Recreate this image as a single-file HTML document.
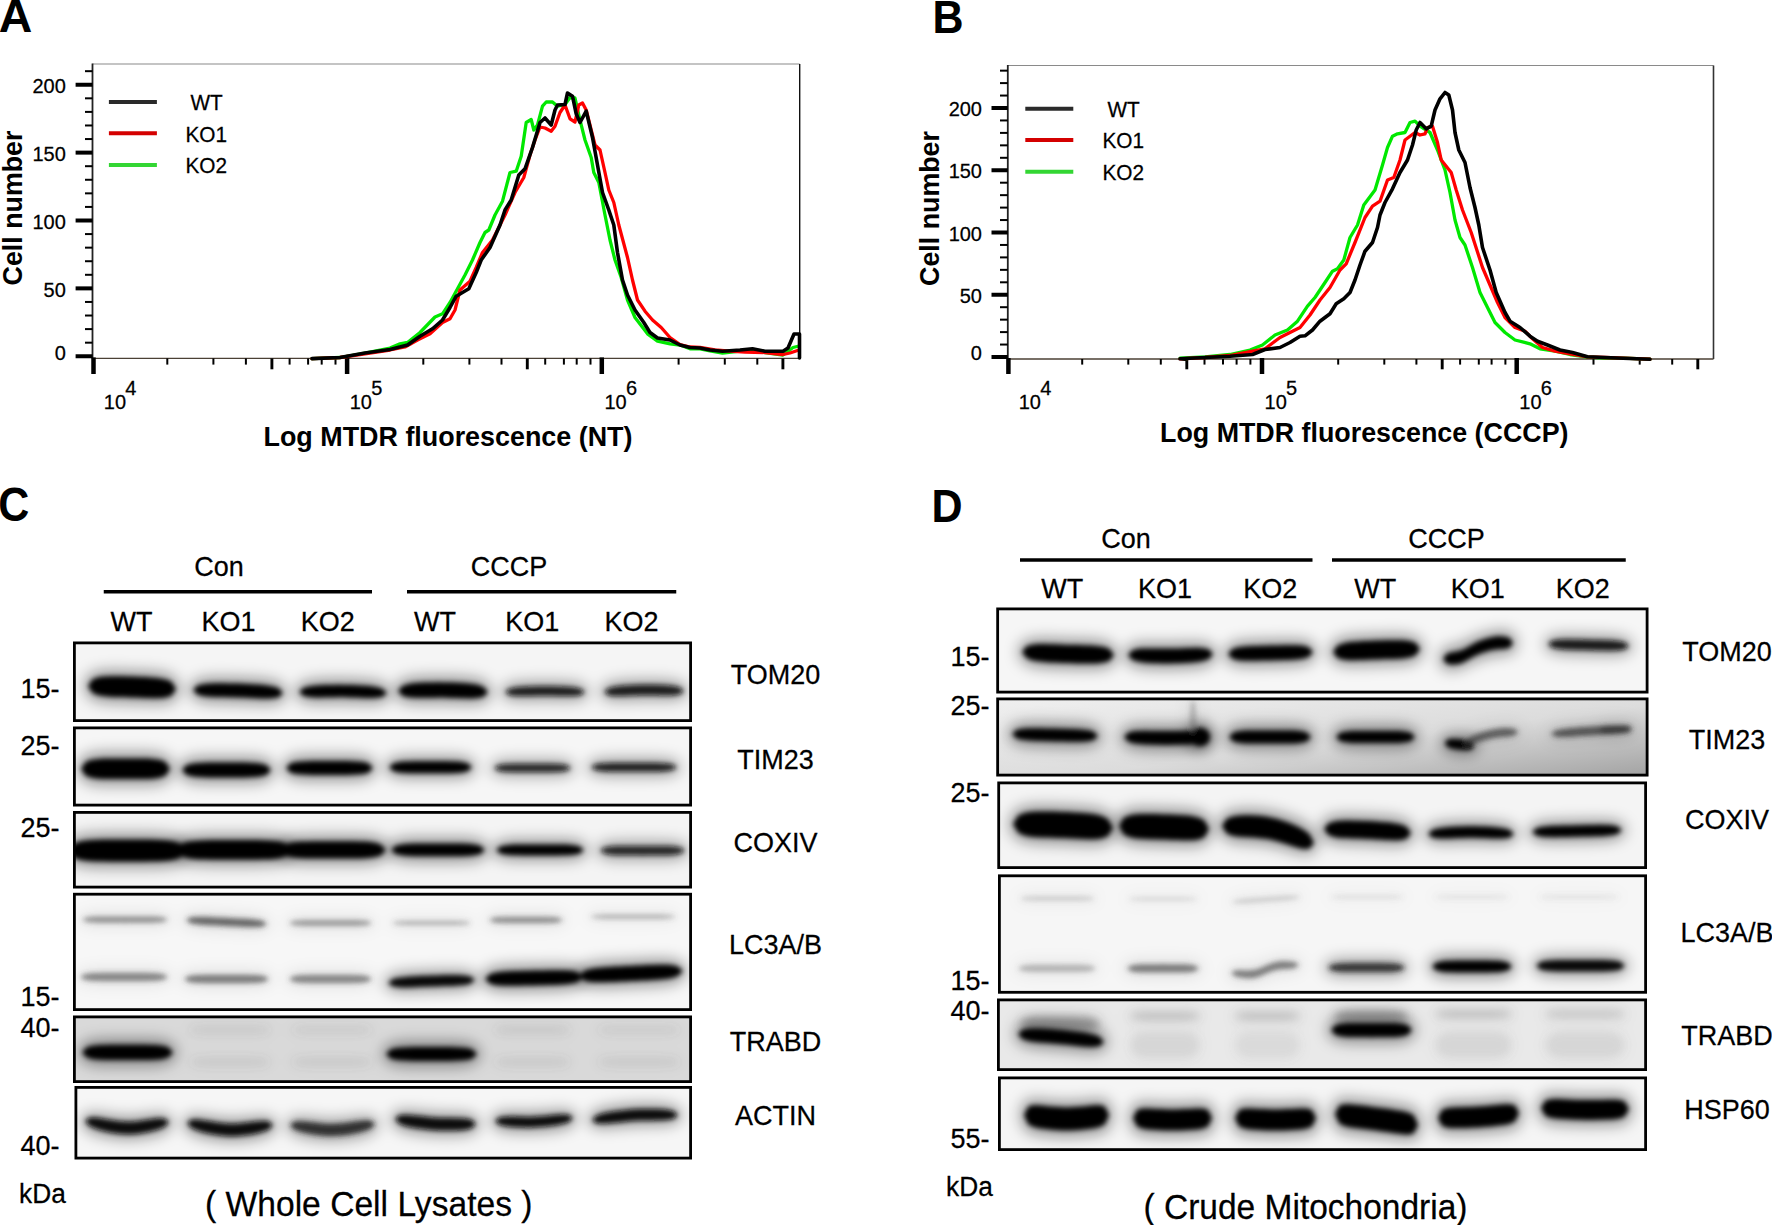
<!DOCTYPE html>
<html><head><meta charset="utf-8"><title>Figure</title>
<style>html,body{margin:0;padding:0;background:#fff}body{width:1772px;height:1225px;overflow:hidden}svg{display:block}</style>
</head><body>
<svg width="1772" height="1225" viewBox="0 0 1772 1225" font-family='"Liberation Sans", Arial, Helvetica, sans-serif' fill="#000">
<defs><filter id="b2" filterUnits="userSpaceOnUse" x="0" y="560" width="1772" height="665"><feGaussianBlur stdDeviation="2.4"/></filter><filter id="b6" filterUnits="userSpaceOnUse" x="0" y="560" width="1772" height="665"><feGaussianBlur stdDeviation="7"/></filter><filter id="b4" filterUnits="userSpaceOnUse" x="0" y="560" width="1772" height="665"><feGaussianBlur stdDeviation="4"/></filter></defs>
<rect width="1772" height="1225" fill="#fff"/>
<text transform="translate(-1.2,32.3) scale(1.08,1.07)" font-size="43" font-weight="bold">A</text>
<line x1="92.5" y1="64" x2="799.7" y2="64" stroke="#8a8a8a" stroke-width="1.2" stroke-linecap="butt"/>
<line x1="92.5" y1="63.5" x2="92.5" y2="358.4" stroke="#222" stroke-width="1.8" stroke-linecap="butt"/>
<line x1="799.7" y1="64" x2="799.7" y2="358.4" stroke="#111" stroke-width="1.4" stroke-linecap="butt"/>
<line x1="92.5" y1="358.4" x2="799.7" y2="358.4" stroke="#4b4035" stroke-width="1.3" stroke-linecap="butt"/>
<line x1="75.6" y1="356.25" x2="92.5" y2="356.25" stroke="#000" stroke-width="4" stroke-linecap="butt"/>
<line x1="85" y1="342.675" x2="92.5" y2="342.675" stroke="#000" stroke-width="2" stroke-linecap="butt"/>
<line x1="85" y1="329.1" x2="92.5" y2="329.1" stroke="#000" stroke-width="2" stroke-linecap="butt"/>
<line x1="85" y1="315.525" x2="92.5" y2="315.525" stroke="#000" stroke-width="2" stroke-linecap="butt"/>
<line x1="85" y1="301.95" x2="92.5" y2="301.95" stroke="#000" stroke-width="2" stroke-linecap="butt"/>
<line x1="75.6" y1="288.375" x2="92.5" y2="288.375" stroke="#000" stroke-width="4" stroke-linecap="butt"/>
<line x1="85" y1="274.8" x2="92.5" y2="274.8" stroke="#000" stroke-width="2" stroke-linecap="butt"/>
<line x1="85" y1="261.225" x2="92.5" y2="261.225" stroke="#000" stroke-width="2" stroke-linecap="butt"/>
<line x1="85" y1="247.65" x2="92.5" y2="247.65" stroke="#000" stroke-width="2" stroke-linecap="butt"/>
<line x1="85" y1="234.075" x2="92.5" y2="234.075" stroke="#000" stroke-width="2" stroke-linecap="butt"/>
<line x1="75.6" y1="220.5" x2="92.5" y2="220.5" stroke="#000" stroke-width="4" stroke-linecap="butt"/>
<line x1="85" y1="206.925" x2="92.5" y2="206.925" stroke="#000" stroke-width="2" stroke-linecap="butt"/>
<line x1="85" y1="193.35000000000002" x2="92.5" y2="193.35000000000002" stroke="#000" stroke-width="2" stroke-linecap="butt"/>
<line x1="85" y1="179.775" x2="92.5" y2="179.775" stroke="#000" stroke-width="2" stroke-linecap="butt"/>
<line x1="85" y1="166.20000000000002" x2="92.5" y2="166.20000000000002" stroke="#000" stroke-width="2" stroke-linecap="butt"/>
<line x1="75.6" y1="152.625" x2="92.5" y2="152.625" stroke="#000" stroke-width="4" stroke-linecap="butt"/>
<line x1="85" y1="139.05" x2="92.5" y2="139.05" stroke="#000" stroke-width="2" stroke-linecap="butt"/>
<line x1="85" y1="125.47500000000002" x2="92.5" y2="125.47500000000002" stroke="#000" stroke-width="2" stroke-linecap="butt"/>
<line x1="85" y1="111.9" x2="92.5" y2="111.9" stroke="#000" stroke-width="2" stroke-linecap="butt"/>
<line x1="85" y1="98.32499999999999" x2="92.5" y2="98.32499999999999" stroke="#000" stroke-width="2" stroke-linecap="butt"/>
<line x1="75.6" y1="84.75" x2="92.5" y2="84.75" stroke="#000" stroke-width="4" stroke-linecap="butt"/>
<line x1="85" y1="71.17500000000001" x2="92.5" y2="71.17500000000001" stroke="#000" stroke-width="2" stroke-linecap="butt"/>
<text transform="translate(65.8,359.95) scale(1,1.035)" font-size="20" text-anchor="end" stroke="#000" stroke-width="0.25" >0</text>
<text transform="translate(65.8,297.075) scale(1,1.035)" font-size="20" text-anchor="end" stroke="#000" stroke-width="0.25" >50</text>
<text transform="translate(65.8,229.2) scale(1,1.035)" font-size="20" text-anchor="end" stroke="#000" stroke-width="0.25" >100</text>
<text transform="translate(65.8,161.325) scale(1,1.035)" font-size="20" text-anchor="end" stroke="#000" stroke-width="0.25" >150</text>
<text transform="translate(65.8,93.45) scale(1,1.035)" font-size="20" text-anchor="end" stroke="#000" stroke-width="0.25" >200</text>
<text transform="translate(22,208) rotate(-90)" font-size="26.8" font-weight="bold" text-anchor="middle">Cell number</text>
<line x1="93.5" y1="357.4" x2="93.5" y2="374" stroke="#000" stroke-width="4.5" stroke-linecap="butt"/>
<line x1="347.1" y1="357.4" x2="347.1" y2="374" stroke="#000" stroke-width="4.5" stroke-linecap="butt"/>
<line x1="601.8" y1="357.4" x2="601.8" y2="374" stroke="#000" stroke-width="4.5" stroke-linecap="butt"/>
<line x1="271.9" y1="358.4" x2="271.9" y2="369.3" stroke="#000" stroke-width="2.9" stroke-linecap="butt"/>
<line x1="527.3" y1="358.4" x2="527.3" y2="369.3" stroke="#000" stroke-width="2.9" stroke-linecap="butt"/>
<line x1="782.9" y1="358.4" x2="782.9" y2="369.3" stroke="#000" stroke-width="2.9" stroke-linecap="butt"/>
<line x1="167.3" y1="358.4" x2="167.3" y2="364.6" stroke="#000" stroke-width="2" stroke-linecap="butt"/>
<line x1="213.4" y1="358.4" x2="213.4" y2="364.6" stroke="#000" stroke-width="2" stroke-linecap="butt"/>
<line x1="245.9" y1="358.4" x2="245.9" y2="364.6" stroke="#000" stroke-width="2" stroke-linecap="butt"/>
<line x1="289.6" y1="358.4" x2="289.6" y2="364.6" stroke="#000" stroke-width="2" stroke-linecap="butt"/>
<line x1="308.1" y1="358.4" x2="308.1" y2="364.6" stroke="#000" stroke-width="2" stroke-linecap="butt"/>
<line x1="321.7" y1="358.4" x2="321.7" y2="364.6" stroke="#000" stroke-width="2" stroke-linecap="butt"/>
<line x1="335.5" y1="358.4" x2="335.5" y2="364.6" stroke="#000" stroke-width="2" stroke-linecap="butt"/>
<line x1="423.3" y1="358.4" x2="423.3" y2="364.6" stroke="#000" stroke-width="2" stroke-linecap="butt"/>
<line x1="469.4" y1="358.4" x2="469.4" y2="364.6" stroke="#000" stroke-width="2" stroke-linecap="butt"/>
<line x1="501.5" y1="358.4" x2="501.5" y2="364.6" stroke="#000" stroke-width="2" stroke-linecap="butt"/>
<line x1="545.2" y1="358.4" x2="545.2" y2="364.6" stroke="#000" stroke-width="2" stroke-linecap="butt"/>
<line x1="563.9" y1="358.4" x2="563.9" y2="364.6" stroke="#000" stroke-width="2" stroke-linecap="butt"/>
<line x1="576.7" y1="358.4" x2="576.7" y2="364.6" stroke="#000" stroke-width="2" stroke-linecap="butt"/>
<line x1="590.5" y1="358.4" x2="590.5" y2="364.6" stroke="#000" stroke-width="2" stroke-linecap="butt"/>
<line x1="678.6" y1="358.4" x2="678.6" y2="364.6" stroke="#000" stroke-width="2" stroke-linecap="butt"/>
<line x1="724.8" y1="358.4" x2="724.8" y2="364.6" stroke="#000" stroke-width="2" stroke-linecap="butt"/>
<line x1="757.3" y1="358.4" x2="757.3" y2="364.6" stroke="#000" stroke-width="2" stroke-linecap="butt"/>
<text transform="translate(103.8,408.9) scale(1,1.035)" font-size="20" text-anchor="start" stroke="#000" stroke-width="0.25" >10</text>
<text transform="translate(125.3,394.8) scale(1,1.035)" font-size="20" text-anchor="start" stroke="#000" stroke-width="0.25" >4</text>
<text transform="translate(349.70000000000005,408.9) scale(1,1.035)" font-size="20" text-anchor="start" stroke="#000" stroke-width="0.25" >10</text>
<text transform="translate(371.20000000000005,394.8) scale(1,1.035)" font-size="20" text-anchor="start" stroke="#000" stroke-width="0.25" >5</text>
<text transform="translate(604.4,408.9) scale(1,1.035)" font-size="20" text-anchor="start" stroke="#000" stroke-width="0.25" >10</text>
<text transform="translate(625.9,394.8) scale(1,1.035)" font-size="20" text-anchor="start" stroke="#000" stroke-width="0.25" >6</text>
<text transform="translate(263.5,445.7) scale(1,1.04)" font-size="26.8" font-weight="bold" textLength="369" lengthAdjust="spacingAndGlyphs">Log MTDR fluorescence (NT)</text>
<line x1="108.9" y1="102" x2="156.9" y2="102" stroke="#2a2a2a" stroke-width="4" stroke-linecap="butt"/>
<text transform="translate(190.5,110.2) scale(1,1.035)" font-size="20.8" text-anchor="start" stroke="#000" stroke-width="0.25" >WT</text>
<line x1="108.9" y1="133.3" x2="156.9" y2="133.3" stroke="#d40000" stroke-width="4" stroke-linecap="butt"/>
<text transform="translate(185.5,141.5) scale(1,1.035)" font-size="20.8" text-anchor="start" stroke="#000" stroke-width="0.25" >KO1</text>
<line x1="108.9" y1="165" x2="156.9" y2="165" stroke="#33d633" stroke-width="4" stroke-linecap="butt"/>
<text transform="translate(185.5,173.2) scale(1,1.035)" font-size="20.8" text-anchor="start" stroke="#000" stroke-width="0.25" >KO2</text>
<polyline points="312.0,358.6 340.0,357.5 365.0,353.0 390.0,348.0 400.0,343.8 407.5,342.5 420.0,332.5 435.0,317.0 442.5,313.8 450.0,302.5 457.5,288.8 465.0,275.0 472.5,260.0 480.0,242.5 485.0,232.5 488.8,230.0 495.0,215.0 502.5,201.2 510.0,172.5 516.2,171.2 521.2,156.2 526.2,122.5 531.2,119.5 533.8,130.0 537.5,125.0 542.5,106.2 546.2,102.0 552.5,102.0 557.5,106.2 565.0,104.5 570.0,97.5 575.0,98.0 580.0,120.0 585.0,140.0 591.2,157.5 593.8,172.5 598.8,182.5 605.0,215.0 610.0,240.0 615.0,260.0 621.2,277.5 627.5,300.0 635.0,317.5 647.5,333.8 657.5,341.2 670.0,343.8 680.0,345.0 690.0,348.8 700.0,348.8 710.0,350.8 722.5,353.0 740.0,351.2 752.5,351.2 765.0,352.5 783.0,355.0 793.0,347.5 799.0,346.0" fill="none" stroke="#00e800" stroke-width="3.3" stroke-linejoin="round" stroke-linecap="round"/>
<polyline points="312.0,358.6 340.0,357.5 365.0,353.8 390.0,350.0 405.0,347.0 417.5,340.0 430.0,333.8 442.5,322.5 450.0,318.8 455.0,310.0 460.0,290.0 470.0,281.2 476.2,267.5 482.5,252.5 492.5,240.0 505.0,215.0 515.0,192.5 523.8,177.5 530.0,155.0 535.0,140.0 540.0,127.0 545.0,128.0 551.2,131.2 555.0,126.2 560.0,112.5 565.0,105.0 570.0,118.8 575.0,122.0 578.8,105.0 582.5,103.0 586.2,110.0 591.2,130.0 595.0,145.0 600.0,150.0 605.0,172.5 608.8,190.0 613.8,202.5 618.8,225.0 627.5,257.5 632.5,280.0 637.5,300.0 645.0,311.2 652.5,320.0 661.2,327.5 670.0,337.5 680.0,344.5 690.0,347.0 700.0,347.5 715.0,350.0 730.0,351.2 745.0,352.0 765.0,352.5 783.0,354.5 790.0,353.0 799.0,350.0" fill="none" stroke="#ff0000" stroke-width="3.3" stroke-linejoin="round" stroke-linecap="round"/>
<polyline points="312.0,358.6 340.0,357.5 365.0,353.0 390.0,349.5 407.5,345.0 420.0,336.2 432.5,328.8 442.5,320.0 450.0,307.5 456.2,296.2 468.8,288.8 476.2,272.5 481.2,260.0 490.0,247.5 500.0,225.0 505.0,210.0 511.2,200.0 518.8,175.0 525.0,168.8 532.5,147.5 540.0,122.5 545.0,118.0 551.2,125.0 555.0,110.0 557.5,105.0 565.0,104.5 567.5,93.0 572.5,96.2 576.2,113.8 580.0,122.5 586.2,111.2 592.5,137.5 597.5,165.0 602.5,192.5 608.8,210.0 613.8,225.0 617.5,252.5 622.5,280.0 627.5,295.0 635.0,310.0 643.8,322.5 650.0,332.5 657.5,338.0 670.0,340.0 680.0,345.0 690.0,347.5 700.0,348.0 710.0,350.0 722.5,351.2 740.0,350.0 752.5,348.8 765.0,351.2 783.0,351.2 788.0,348.0 794.0,334.0 799.5,334.0 799.5,358.0" fill="none" stroke="#000" stroke-width="3.6" stroke-linejoin="round" stroke-linecap="round"/>
<text transform="translate(932.6,33) scale(1,1.07)" font-size="43" text-anchor="start" font-weight="bold" >B</text>
<line x1="1007.8" y1="65.5" x2="1713.5" y2="65.5" stroke="#8a8a8a" stroke-width="1.2" stroke-linecap="butt"/>
<line x1="1007.8" y1="65.0" x2="1007.8" y2="359.0" stroke="#222" stroke-width="1.8" stroke-linecap="butt"/>
<line x1="1713.5" y1="65.5" x2="1713.5" y2="359.0" stroke="#333" stroke-width="1.6" stroke-linecap="butt"/>
<line x1="1007.8" y1="359.0" x2="1713.5" y2="359.0" stroke="#4b4035" stroke-width="1.3" stroke-linecap="butt"/>
<line x1="991.5" y1="357.0" x2="1007.8" y2="357.0" stroke="#000" stroke-width="4" stroke-linecap="butt"/>
<line x1="1000" y1="344.55" x2="1007.8" y2="344.55" stroke="#000" stroke-width="2" stroke-linecap="butt"/>
<line x1="1000" y1="332.1" x2="1007.8" y2="332.1" stroke="#000" stroke-width="2" stroke-linecap="butt"/>
<line x1="1000" y1="319.65" x2="1007.8" y2="319.65" stroke="#000" stroke-width="2" stroke-linecap="butt"/>
<line x1="1000" y1="307.2" x2="1007.8" y2="307.2" stroke="#000" stroke-width="2" stroke-linecap="butt"/>
<line x1="991.5" y1="294.75" x2="1007.8" y2="294.75" stroke="#000" stroke-width="4" stroke-linecap="butt"/>
<line x1="1000" y1="282.3" x2="1007.8" y2="282.3" stroke="#000" stroke-width="2" stroke-linecap="butt"/>
<line x1="1000" y1="269.85" x2="1007.8" y2="269.85" stroke="#000" stroke-width="2" stroke-linecap="butt"/>
<line x1="1000" y1="257.4" x2="1007.8" y2="257.4" stroke="#000" stroke-width="2" stroke-linecap="butt"/>
<line x1="1000" y1="244.95" x2="1007.8" y2="244.95" stroke="#000" stroke-width="2" stroke-linecap="butt"/>
<line x1="991.5" y1="232.5" x2="1007.8" y2="232.5" stroke="#000" stroke-width="4" stroke-linecap="butt"/>
<line x1="1000" y1="220.04999999999998" x2="1007.8" y2="220.04999999999998" stroke="#000" stroke-width="2" stroke-linecap="butt"/>
<line x1="1000" y1="207.6" x2="1007.8" y2="207.6" stroke="#000" stroke-width="2" stroke-linecap="butt"/>
<line x1="1000" y1="195.14999999999998" x2="1007.8" y2="195.14999999999998" stroke="#000" stroke-width="2" stroke-linecap="butt"/>
<line x1="1000" y1="182.7" x2="1007.8" y2="182.7" stroke="#000" stroke-width="2" stroke-linecap="butt"/>
<line x1="991.5" y1="170.24999999999997" x2="1007.8" y2="170.24999999999997" stroke="#000" stroke-width="4" stroke-linecap="butt"/>
<line x1="1000" y1="157.79999999999998" x2="1007.8" y2="157.79999999999998" stroke="#000" stroke-width="2" stroke-linecap="butt"/>
<line x1="1000" y1="145.35" x2="1007.8" y2="145.35" stroke="#000" stroke-width="2" stroke-linecap="butt"/>
<line x1="1000" y1="132.89999999999998" x2="1007.8" y2="132.89999999999998" stroke="#000" stroke-width="2" stroke-linecap="butt"/>
<line x1="1000" y1="120.44999999999999" x2="1007.8" y2="120.44999999999999" stroke="#000" stroke-width="2" stroke-linecap="butt"/>
<line x1="991.5" y1="107.99999999999997" x2="1007.8" y2="107.99999999999997" stroke="#000" stroke-width="4" stroke-linecap="butt"/>
<line x1="1000" y1="95.54999999999995" x2="1007.8" y2="95.54999999999995" stroke="#000" stroke-width="2" stroke-linecap="butt"/>
<line x1="1000" y1="83.09999999999997" x2="1007.8" y2="83.09999999999997" stroke="#000" stroke-width="2" stroke-linecap="butt"/>
<line x1="1000" y1="70.64999999999998" x2="1007.8" y2="70.64999999999998" stroke="#000" stroke-width="2" stroke-linecap="butt"/>
<text transform="translate(982,360.2) scale(1,1.035)" font-size="20" text-anchor="end" stroke="#000" stroke-width="0.25" >0</text>
<text transform="translate(982,302.95) scale(1,1.035)" font-size="20" text-anchor="end" stroke="#000" stroke-width="0.25" >50</text>
<text transform="translate(982,240.7) scale(1,1.035)" font-size="20" text-anchor="end" stroke="#000" stroke-width="0.25" >100</text>
<text transform="translate(982,178.44999999999996) scale(1,1.035)" font-size="20" text-anchor="end" stroke="#000" stroke-width="0.25" >150</text>
<text transform="translate(982,116.19999999999997) scale(1,1.035)" font-size="20" text-anchor="end" stroke="#000" stroke-width="0.25" >200</text>
<text transform="translate(939.3,208.5) rotate(-90)" font-size="26.8" font-weight="bold" text-anchor="middle">Cell number</text>
<line x1="1008.4" y1="358.0" x2="1008.4" y2="374" stroke="#000" stroke-width="4.5" stroke-linecap="butt"/>
<line x1="1262.0" y1="358.0" x2="1262.0" y2="374" stroke="#000" stroke-width="4.5" stroke-linecap="butt"/>
<line x1="1516.6999999999998" y1="358.0" x2="1516.6999999999998" y2="374" stroke="#000" stroke-width="4.5" stroke-linecap="butt"/>
<line x1="1186.8" y1="359.0" x2="1186.8" y2="369.3" stroke="#000" stroke-width="2.9" stroke-linecap="butt"/>
<line x1="1442.1999999999998" y1="359.0" x2="1442.1999999999998" y2="369.3" stroke="#000" stroke-width="2.9" stroke-linecap="butt"/>
<line x1="1697.8" y1="359.0" x2="1697.8" y2="369.3" stroke="#000" stroke-width="2.9" stroke-linecap="butt"/>
<line x1="1082.2" y1="359.0" x2="1082.2" y2="364.6" stroke="#000" stroke-width="2" stroke-linecap="butt"/>
<line x1="1128.3" y1="359.0" x2="1128.3" y2="364.6" stroke="#000" stroke-width="2" stroke-linecap="butt"/>
<line x1="1160.8" y1="359.0" x2="1160.8" y2="364.6" stroke="#000" stroke-width="2" stroke-linecap="butt"/>
<line x1="1204.5" y1="359.0" x2="1204.5" y2="364.6" stroke="#000" stroke-width="2" stroke-linecap="butt"/>
<line x1="1223.0" y1="359.0" x2="1223.0" y2="364.6" stroke="#000" stroke-width="2" stroke-linecap="butt"/>
<line x1="1236.6" y1="359.0" x2="1236.6" y2="364.6" stroke="#000" stroke-width="2" stroke-linecap="butt"/>
<line x1="1250.4" y1="359.0" x2="1250.4" y2="364.6" stroke="#000" stroke-width="2" stroke-linecap="butt"/>
<line x1="1338.2" y1="359.0" x2="1338.2" y2="364.6" stroke="#000" stroke-width="2" stroke-linecap="butt"/>
<line x1="1384.3" y1="359.0" x2="1384.3" y2="364.6" stroke="#000" stroke-width="2" stroke-linecap="butt"/>
<line x1="1416.4" y1="359.0" x2="1416.4" y2="364.6" stroke="#000" stroke-width="2" stroke-linecap="butt"/>
<line x1="1460.1" y1="359.0" x2="1460.1" y2="364.6" stroke="#000" stroke-width="2" stroke-linecap="butt"/>
<line x1="1478.8" y1="359.0" x2="1478.8" y2="364.6" stroke="#000" stroke-width="2" stroke-linecap="butt"/>
<line x1="1491.6" y1="359.0" x2="1491.6" y2="364.6" stroke="#000" stroke-width="2" stroke-linecap="butt"/>
<line x1="1505.4" y1="359.0" x2="1505.4" y2="364.6" stroke="#000" stroke-width="2" stroke-linecap="butt"/>
<line x1="1593.5" y1="359.0" x2="1593.5" y2="364.6" stroke="#000" stroke-width="2" stroke-linecap="butt"/>
<line x1="1639.6999999999998" y1="359.0" x2="1639.6999999999998" y2="364.6" stroke="#000" stroke-width="2" stroke-linecap="butt"/>
<line x1="1672.1999999999998" y1="359.0" x2="1672.1999999999998" y2="364.6" stroke="#000" stroke-width="2" stroke-linecap="butt"/>
<text transform="translate(1018.6999999999999,408.9) scale(1,1.035)" font-size="20" text-anchor="start" stroke="#000" stroke-width="0.25" >10</text>
<text transform="translate(1040.1999999999998,394.8) scale(1,1.035)" font-size="20" text-anchor="start" stroke="#000" stroke-width="0.25" >4</text>
<text transform="translate(1264.6,408.9) scale(1,1.035)" font-size="20" text-anchor="start" stroke="#000" stroke-width="0.25" >10</text>
<text transform="translate(1286.1,394.8) scale(1,1.035)" font-size="20" text-anchor="start" stroke="#000" stroke-width="0.25" >5</text>
<text transform="translate(1519.2999999999997,408.9) scale(1,1.035)" font-size="20" text-anchor="start" stroke="#000" stroke-width="0.25" >10</text>
<text transform="translate(1540.7999999999997,394.8) scale(1,1.035)" font-size="20" text-anchor="start" stroke="#000" stroke-width="0.25" >6</text>
<text transform="translate(1160,442.2) scale(1,1.04)" font-size="26.8" font-weight="bold" textLength="408.5" lengthAdjust="spacingAndGlyphs">Log MTDR fluorescence (CCCP)</text>
<line x1="1025.3" y1="108.75" x2="1073.3" y2="108.75" stroke="#2a2a2a" stroke-width="4" stroke-linecap="butt"/>
<text transform="translate(1107.5,116.95) scale(1,1.035)" font-size="20.8" text-anchor="start" stroke="#000" stroke-width="0.25" >WT</text>
<line x1="1025.3" y1="140" x2="1073.3" y2="140" stroke="#d40000" stroke-width="4" stroke-linecap="butt"/>
<text transform="translate(1102.5,148.2) scale(1,1.035)" font-size="20.8" text-anchor="start" stroke="#000" stroke-width="0.25" >KO1</text>
<line x1="1025.3" y1="171.75" x2="1073.3" y2="171.75" stroke="#33d633" stroke-width="4" stroke-linecap="butt"/>
<text transform="translate(1102.5,179.95) scale(1,1.035)" font-size="20.8" text-anchor="start" stroke="#000" stroke-width="0.25" >KO2</text>
<polyline points="1186.0,359.2 1180.0,358.2 1205.0,357.0 1230.0,354.5 1250.0,350.0 1262.5,345.0 1275.0,335.0 1287.5,330.0 1297.5,321.2 1307.5,306.2 1315.0,297.5 1325.0,282.5 1332.5,271.2 1337.5,268.8 1343.8,260.0 1350.0,237.5 1357.5,225.0 1363.8,205.0 1375.0,190.0 1382.5,165.0 1387.5,147.5 1392.5,136.2 1397.5,133.8 1405.0,132.5 1410.0,122.5 1415.0,121.2 1420.0,126.2 1430.0,132.5 1437.5,150.0 1445.0,170.0 1450.0,192.5 1455.0,220.0 1460.0,237.5 1465.0,245.0 1472.5,267.5 1480.0,292.5 1487.5,307.5 1495.0,322.5 1505.0,332.5 1515.0,340.0 1530.0,343.8 1540.0,348.8 1555.0,351.2 1570.0,354.5 1587.5,357.0 1605.0,358.0 1623.0,358.2 1650.0,359.2" fill="none" stroke="#00e800" stroke-width="3.3" stroke-linejoin="round" stroke-linecap="round"/>
<polyline points="1186.0,359.2 1180.0,358.8 1205.0,357.5 1230.0,355.5 1252.5,351.2 1265.0,348.8 1280.0,337.5 1290.0,332.5 1300.0,327.5 1310.0,315.0 1320.0,300.0 1330.0,287.5 1340.0,270.0 1346.2,263.8 1355.0,242.5 1365.0,217.5 1372.5,206.2 1380.0,201.2 1387.5,180.0 1393.8,177.5 1400.0,160.0 1405.0,140.0 1415.0,132.5 1420.0,135.0 1425.0,133.8 1427.5,127.5 1432.5,126.2 1437.5,142.5 1441.2,160.0 1451.2,172.5 1456.2,190.0 1462.5,210.0 1471.2,232.5 1482.5,267.5 1490.0,285.0 1497.5,302.5 1505.0,317.5 1515.0,327.5 1525.0,331.2 1532.5,338.8 1542.5,347.5 1555.0,351.2 1570.0,353.8 1587.5,356.8 1605.0,357.5 1623.0,358.2 1650.0,359.2" fill="none" stroke="#ff0000" stroke-width="3.3" stroke-linejoin="round" stroke-linecap="round"/>
<polyline points="1186.0,359.2 1180.0,358.8 1205.0,357.5 1230.0,356.2 1252.5,354.5 1265.0,349.5 1280.0,347.5 1290.0,342.5 1300.0,336.2 1305.0,335.8 1312.5,330.0 1320.0,321.2 1330.0,313.8 1336.2,303.8 1343.8,298.8 1350.0,292.5 1355.0,280.0 1360.0,265.0 1365.0,251.2 1372.5,242.5 1377.5,227.5 1380.0,215.0 1385.0,202.5 1392.5,188.8 1400.0,172.5 1407.5,160.0 1412.5,145.0 1416.2,130.0 1420.0,122.5 1426.2,128.8 1431.2,126.2 1435.0,110.0 1440.0,98.8 1445.0,92.5 1448.8,95.0 1452.5,110.0 1455.0,132.5 1458.8,150.0 1465.0,162.5 1470.0,187.5 1475.0,207.5 1478.8,225.0 1482.5,247.5 1490.0,270.0 1496.2,292.5 1505.0,312.5 1510.0,321.2 1520.0,327.5 1530.0,336.2 1537.5,341.2 1547.5,345.0 1560.0,350.0 1572.5,352.5 1587.5,356.8 1605.0,357.5 1623.0,358.2 1650.0,359.2" fill="none" stroke="#000" stroke-width="3.6" stroke-linejoin="round" stroke-linecap="round"/>
<text transform="translate(-1.8,521.1) scale(1,1.125)" font-size="43" text-anchor="start" font-weight="bold" >C</text>
<text transform="translate(219,575.75) scale(1,1.035)" font-size="27" text-anchor="middle" stroke="#000" stroke-width="0.25" >Con</text>
<text transform="translate(509,575.75) scale(1,1.035)" font-size="27" text-anchor="middle" stroke="#000" stroke-width="0.25" >CCCP</text>
<line x1="103.75" y1="591.75" x2="372" y2="591.75" stroke="#000" stroke-width="3.5" stroke-linecap="butt"/>
<line x1="407" y1="591.75" x2="676.25" y2="591.75" stroke="#000" stroke-width="3.5" stroke-linecap="butt"/>
<text transform="translate(131.5,630.75) scale(1,1.035)" font-size="27" text-anchor="middle" stroke="#000" stroke-width="0.25" >WT</text>
<text transform="translate(228.4,630.75) scale(1,1.035)" font-size="27" text-anchor="middle" stroke="#000" stroke-width="0.25" >KO1</text>
<text transform="translate(327.75,630.75) scale(1,1.035)" font-size="27" text-anchor="middle" stroke="#000" stroke-width="0.25" >KO2</text>
<text transform="translate(435,630.75) scale(1,1.035)" font-size="27" text-anchor="middle" stroke="#000" stroke-width="0.25" >WT</text>
<text transform="translate(532.25,630.75) scale(1,1.035)" font-size="27" text-anchor="middle" stroke="#000" stroke-width="0.25" >KO1</text>
<text transform="translate(631.6,630.75) scale(1,1.035)" font-size="27" text-anchor="middle" stroke="#000" stroke-width="0.25" >KO2</text>
<text transform="translate(59.5,697.5) scale(1,1.035)" font-size="27" text-anchor="end" stroke="#000" stroke-width="0.25" >15-</text>
<text transform="translate(59.5,755) scale(1,1.035)" font-size="27" text-anchor="end" stroke="#000" stroke-width="0.25" >25-</text>
<text transform="translate(59.5,837) scale(1,1.035)" font-size="27" text-anchor="end" stroke="#000" stroke-width="0.25" >25-</text>
<text transform="translate(59.5,1006) scale(1,1.035)" font-size="27" text-anchor="end" stroke="#000" stroke-width="0.25" >15-</text>
<text transform="translate(59.5,1036.5) scale(1,1.035)" font-size="27" text-anchor="end" stroke="#000" stroke-width="0.25" >40-</text>
<text transform="translate(59.5,1155) scale(1,1.035)" font-size="27" text-anchor="end" stroke="#000" stroke-width="0.25" >40-</text>
<text transform="translate(19,1202.5) scale(1,1.035)" font-size="26.3" text-anchor="start" stroke="#000" stroke-width="0.25" >kDa</text>
<text transform="translate(775.5,684) scale(1,1.035)" font-size="27" text-anchor="middle" stroke="#000" stroke-width="0.25" >TOM20</text>
<text transform="translate(775.5,769) scale(1,1.035)" font-size="27" text-anchor="middle" stroke="#000" stroke-width="0.25" >TIM23</text>
<text transform="translate(775.5,851.5) scale(1,1.035)" font-size="27" text-anchor="middle" stroke="#000" stroke-width="0.25" >COXIV</text>
<text transform="translate(775.5,954) scale(1,1.035)" font-size="27" text-anchor="middle" stroke="#000" stroke-width="0.25" >LC3A/B</text>
<text transform="translate(775.5,1051) scale(1,1.035)" font-size="27" text-anchor="middle" stroke="#000" stroke-width="0.25" >TRABD</text>
<text transform="translate(775.5,1124.5) scale(1,1.035)" font-size="27" text-anchor="middle" stroke="#000" stroke-width="0.25" >ACTIN</text>
<text transform="translate(205,1216) scale(1,1.07)" font-size="33.5" stroke="#000" stroke-width="0.25" textLength="327.5" lengthAdjust="spacingAndGlyphs">( Whole Cell Lysates )</text>
<clipPath id="c1"><rect x="73" y="641.5" width="619" height="80.5"/></clipPath>
<g clip-path="url(#c1)">
<rect x="73" y="641.5" width="619" height="80.5" fill="#f5f5f5"/>

<g filter="url(#b6)">
<path d="M83.0,686.0 L87.9,675.2 L92.8,672.2 L97.7,670.8 L102.6,670.0 L107.5,669.7 L112.4,669.6 L117.3,669.6 L122.2,669.7 L127.1,669.9 L132.0,670.0 L136.9,670.2 L141.8,670.3 L146.7,670.5 L151.6,670.8 L156.5,671.2 L161.4,671.8 L166.3,672.9 L171.2,674.6 L176.1,677.9 L181.0,689.0 L181.0,689.0 L176.1,699.7 L171.2,702.5 L166.3,703.9 L161.4,704.5 L156.5,704.7 L151.6,704.6 L146.7,704.5 L141.8,704.3 L136.9,704.2 L132.0,704.0 L127.1,703.9 L122.2,703.7 L117.3,703.6 L112.4,703.4 L107.5,703.2 L102.6,702.7 L97.7,701.8 L92.8,700.1 L87.9,697.0 L83.0,686.0Z" fill="#000" fill-opacity="0.360"/>
<path d="M188.0,690.0 L193.0,681.4 L198.0,679.0 L203.0,677.8 L208.0,677.1 L213.0,676.8 L218.0,676.7 L223.0,676.7 L228.0,676.8 L233.0,676.9 L238.0,677.0 L243.0,677.2 L248.0,677.4 L253.0,677.6 L258.0,677.9 L263.0,678.3 L268.0,678.9 L273.0,679.9 L278.0,681.4 L283.0,684.1 L288.0,693.0 L288.0,693.0 L283.0,701.4 L278.0,703.5 L273.0,704.5 L268.0,704.9 L263.0,704.9 L258.0,704.8 L253.0,704.6 L248.0,704.4 L243.0,704.2 L238.0,704.0 L233.0,703.9 L228.0,703.8 L223.0,703.7 L218.0,703.6 L213.0,703.4 L208.0,703.1 L203.0,702.4 L198.0,701.1 L193.0,698.7 L188.0,690.0Z" fill="#000" fill-opacity="0.360"/>
<path d="M294.0,692.0 L298.9,683.7 L303.8,681.3 L308.7,680.0 L313.6,679.2 L318.5,678.8 L323.4,678.5 L328.3,678.3 L333.2,678.3 L338.1,678.2 L343.0,678.2 L347.9,678.3 L352.8,678.5 L357.7,678.6 L362.6,678.9 L367.5,679.3 L372.4,679.8 L377.3,680.7 L382.2,682.1 L387.1,684.6 L392.0,693.0 L392.0,693.0 L387.1,700.9 L382.2,703.0 L377.3,703.9 L372.4,704.3 L367.5,704.4 L362.6,704.3 L357.7,704.1 L352.8,704.0 L347.9,703.8 L343.0,703.8 L338.1,703.7 L333.2,703.8 L328.3,703.8 L323.4,703.9 L318.5,703.9 L313.6,703.7 L308.7,703.2 L303.8,702.2 L298.9,700.0 L294.0,692.0Z" fill="#000" fill-opacity="0.360"/>
<path d="M393.0,691.0 L398.0,681.8 L403.0,679.1 L408.0,677.6 L413.0,676.8 L418.0,676.3 L423.0,676.0 L428.0,675.8 L433.0,675.8 L438.0,675.7 L443.0,675.8 L448.0,675.8 L453.0,676.0 L458.0,676.1 L463.0,676.4 L468.0,676.8 L473.0,677.4 L478.0,678.3 L483.0,679.9 L488.0,682.7 L493.0,692.0 L493.0,692.0 L488.0,700.9 L483.0,703.2 L478.0,704.3 L473.0,704.7 L468.0,704.8 L463.0,704.8 L458.0,704.6 L453.0,704.5 L448.0,704.3 L443.0,704.2 L438.0,704.2 L433.0,704.3 L428.0,704.3 L423.0,704.4 L418.0,704.3 L413.0,704.1 L408.0,703.6 L403.0,702.4 L398.0,700.0 L393.0,691.0Z" fill="#000" fill-opacity="0.360"/>
<path d="M500.0,692.0 L504.5,685.2 L509.0,683.2 L513.5,682.1 L518.0,681.4 L522.5,681.0 L527.0,680.8 L531.5,680.7 L536.0,680.6 L540.5,680.5 L545.0,680.5 L549.5,680.5 L554.0,680.6 L558.5,680.7 L563.0,680.8 L567.5,681.0 L572.0,681.4 L576.5,682.1 L581.0,683.2 L585.5,685.2 L590.0,692.0 L590.0,692.0 L585.5,698.6 L581.0,700.4 L576.5,701.2 L572.0,701.6 L567.5,701.7 L563.0,701.7 L558.5,701.6 L554.0,701.6 L549.5,701.5 L545.0,701.5 L540.5,701.5 L536.0,701.6 L531.5,701.6 L527.0,701.7 L522.5,701.7 L518.0,701.6 L513.5,701.2 L509.0,700.4 L504.5,698.6 L500.0,692.0Z" fill="#000" fill-opacity="0.324"/>
<path d="M599.0,692.0 L603.5,684.7 L608.0,682.5 L612.5,681.3 L617.0,680.5 L621.5,680.0 L626.0,679.6 L630.5,679.4 L635.0,679.2 L639.5,679.1 L644.0,679.0 L648.5,679.0 L653.0,679.0 L657.5,679.1 L662.0,679.2 L666.5,679.5 L671.0,679.9 L675.5,680.6 L680.0,681.7 L684.5,683.8 L689.0,691.0 L689.0,691.0 L684.5,697.9 L680.0,699.8 L675.5,700.6 L671.0,701.0 L666.5,701.1 L662.0,701.1 L657.5,701.1 L653.0,701.0 L648.5,701.0 L644.0,701.0 L639.5,701.1 L635.0,701.2 L630.5,701.4 L626.0,701.5 L621.5,701.6 L617.0,701.6 L612.5,701.3 L608.0,700.6 L603.5,698.8 L599.0,692.0Z" fill="#000" fill-opacity="0.324"/>
</g>
<g filter="url(#b2)">
<path d="M88.0,686.0 L92.4,679.4 L96.8,677.7 L101.2,676.8 L105.6,676.4 L110.0,676.2 L114.4,676.2 L118.8,676.2 L123.2,676.3 L127.6,676.5 L132.0,676.6 L136.4,676.8 L140.8,676.9 L145.2,677.1 L149.6,677.4 L154.0,677.7 L158.4,678.2 L162.8,678.9 L167.2,680.1 L171.6,682.1 L176.0,689.0 L176.0,689.0 L171.6,695.5 L167.2,697.1 L162.8,697.9 L158.4,698.1 L154.0,698.2 L149.6,698.1 L145.2,697.9 L140.8,697.7 L136.4,697.6 L132.0,697.4 L127.6,697.3 L123.2,697.1 L118.8,697.0 L114.4,696.9 L110.0,696.7 L105.6,696.3 L101.2,695.8 L96.8,694.7 L92.4,692.8 L88.0,686.0Z" fill="#000" fill-opacity="1"/>
<path d="M193.0,690.0 L197.5,685.6 L202.0,684.4 L206.5,683.8 L211.0,683.5 L215.5,683.3 L220.0,683.3 L224.5,683.3 L229.0,683.4 L233.5,683.5 L238.0,683.6 L242.5,683.8 L247.0,684.0 L251.5,684.2 L256.0,684.5 L260.5,684.8 L265.0,685.3 L269.5,685.9 L274.0,686.8 L278.5,688.3 L283.0,693.0 L283.0,693.0 L278.5,697.2 L274.0,698.1 L269.5,698.5 L265.0,698.5 L260.5,698.4 L256.0,698.2 L251.5,698.0 L247.0,697.8 L242.5,697.6 L238.0,697.4 L233.5,697.3 L229.0,697.2 L224.5,697.1 L220.0,697.0 L215.5,696.9 L211.0,696.7 L206.5,696.4 L202.0,695.7 L197.5,694.5 L193.0,690.0Z" fill="#000" fill-opacity="1"/>
<path d="M299.0,692.0 L303.4,688.0 L307.8,686.7 L312.2,686.0 L316.6,685.5 L321.0,685.3 L325.4,685.1 L329.8,684.9 L334.2,684.9 L338.6,684.8 L343.0,684.9 L347.4,684.9 L351.8,685.1 L356.2,685.2 L360.6,685.5 L365.0,685.8 L369.4,686.1 L373.8,686.7 L378.2,687.5 L382.6,688.9 L387.0,693.0 L387.0,693.0 L382.6,696.7 L378.2,697.6 L373.8,697.9 L369.4,698.0 L365.0,697.9 L360.6,697.7 L356.2,697.5 L351.8,697.4 L347.4,697.2 L343.0,697.1 L338.6,697.1 L334.2,697.2 L329.8,697.2 L325.4,697.3 L321.0,697.4 L316.6,697.4 L312.2,697.2 L307.8,696.8 L303.4,695.8 L299.0,692.0Z" fill="#000" fill-opacity="1"/>
<path d="M398.0,691.0 L402.5,686.0 L407.0,684.5 L411.5,683.6 L416.0,683.1 L420.5,682.8 L425.0,682.6 L429.5,682.4 L434.0,682.4 L438.5,682.3 L443.0,682.4 L447.5,682.4 L452.0,682.6 L456.5,682.7 L461.0,683.0 L465.5,683.3 L470.0,683.7 L474.5,684.3 L479.0,685.3 L483.5,686.9 L488.0,692.0 L488.0,692.0 L483.5,696.7 L479.0,697.8 L474.5,698.3 L470.0,698.4 L465.5,698.3 L461.0,698.2 L456.5,698.0 L452.0,697.9 L447.5,697.7 L443.0,697.6 L438.5,697.6 L434.0,697.7 L429.5,697.7 L425.0,697.8 L420.5,697.8 L416.0,697.8 L411.5,697.6 L407.0,697.0 L402.5,695.8 L398.0,691.0Z" fill="#000" fill-opacity="1"/>
<path d="M505.0,692.0 L509.0,688.9 L513.0,687.9 L517.0,687.3 L521.0,686.9 L525.0,686.7 L529.0,686.5 L533.0,686.4 L537.0,686.3 L541.0,686.3 L545.0,686.2 L549.0,686.3 L553.0,686.3 L557.0,686.4 L561.0,686.5 L565.0,686.7 L569.0,686.9 L573.0,687.3 L577.0,687.9 L581.0,688.9 L585.0,692.0 L585.0,692.0 L581.0,694.9 L577.0,695.7 L573.0,696.0 L569.0,696.1 L565.0,696.1 L561.0,696.0 L557.0,695.9 L553.0,695.8 L549.0,695.8 L545.0,695.8 L541.0,695.8 L537.0,695.8 L533.0,695.9 L529.0,696.0 L525.0,696.1 L521.0,696.1 L517.0,696.0 L513.0,695.7 L509.0,694.9 L505.0,692.0Z" fill="#111" fill-opacity="0.9"/>
<path d="M604.0,692.0 L608.0,688.4 L612.0,687.2 L616.0,686.5 L620.0,686.0 L624.0,685.6 L628.0,685.4 L632.0,685.1 L636.0,685.0 L640.0,684.8 L644.0,684.8 L648.0,684.7 L652.0,684.8 L656.0,684.8 L660.0,685.0 L664.0,685.1 L668.0,685.4 L672.0,685.8 L676.0,686.4 L680.0,687.5 L684.0,691.0 L684.0,691.0 L680.0,694.2 L676.0,695.1 L672.0,695.4 L668.0,695.5 L664.0,695.5 L660.0,695.4 L656.0,695.3 L652.0,695.3 L648.0,695.2 L644.0,695.2 L640.0,695.3 L636.0,695.5 L632.0,695.6 L628.0,695.8 L624.0,696.0 L620.0,696.1 L616.0,696.1 L612.0,695.9 L608.0,695.1 L604.0,692.0Z" fill="#111" fill-opacity="0.9"/>
</g>
</g>
<rect x="74.4" y="642.9" width="616.2" height="77.7" fill="none" stroke="#000" stroke-width="2.8"/>
<clipPath id="c2"><rect x="73" y="726.5" width="619" height="80.0"/></clipPath>
<g clip-path="url(#c2)">
<rect x="73" y="726.5" width="619" height="80.0" fill="#f6f6f6"/>

<g filter="url(#b6)">
<path d="M76.0,768.8 L81.0,757.8 L85.9,754.7 L90.8,753.1 L95.8,752.2 L100.8,751.8 L105.7,751.6 L110.7,751.6 L115.6,751.6 L120.6,751.6 L125.5,751.5 L130.4,751.6 L135.4,751.6 L140.4,751.6 L145.3,751.6 L150.2,751.8 L155.2,752.2 L160.1,753.1 L165.1,754.7 L170.1,757.8 L175.0,768.8 L175.0,768.8 L170.1,779.8 L165.1,782.9 L160.1,784.5 L155.2,785.4 L150.2,785.8 L145.3,786.0 L140.4,786.0 L135.4,786.0 L130.4,786.0 L125.5,786.0 L120.6,786.0 L115.6,786.0 L110.7,786.0 L105.7,786.0 L100.8,785.8 L95.8,785.4 L90.8,784.5 L85.9,782.9 L81.0,779.8 L76.0,768.8Z" fill="#000" fill-opacity="0.360"/>
<path d="M177.0,770.0 L181.9,761.0 L186.9,758.5 L191.8,757.2 L196.8,756.6 L201.8,756.2 L206.7,756.1 L211.7,756.0 L216.6,756.0 L221.6,756.0 L226.5,756.0 L231.4,756.0 L236.4,756.0 L241.4,756.0 L246.3,756.1 L251.2,756.2 L256.2,756.6 L261.1,757.2 L266.1,758.5 L271.1,761.0 L276.0,770.0 L276.0,770.0 L271.1,779.0 L266.1,781.5 L261.1,782.8 L256.2,783.4 L251.2,783.8 L246.3,783.9 L241.4,784.0 L236.4,784.0 L231.4,784.0 L226.5,784.0 L221.6,784.0 L216.6,784.0 L211.7,784.0 L206.7,783.9 L201.8,783.8 L196.8,783.4 L191.8,782.8 L186.9,781.5 L181.9,779.0 L177.0,770.0Z" fill="#000" fill-opacity="0.360"/>
<path d="M281.0,768.0 L285.9,759.4 L290.7,756.9 L295.6,755.7 L300.4,755.0 L305.2,754.7 L310.1,754.6 L314.9,754.5 L319.8,754.5 L324.6,754.5 L329.5,754.5 L334.4,754.5 L339.2,754.5 L344.1,754.5 L348.9,754.6 L353.8,754.7 L358.6,755.0 L363.4,755.7 L368.3,756.9 L373.1,759.4 L378.0,768.0 L378.0,768.0 L373.1,776.6 L368.3,779.1 L363.4,780.3 L358.6,781.0 L353.8,781.3 L348.9,781.4 L344.1,781.5 L339.2,781.5 L334.4,781.5 L329.5,781.5 L324.6,781.5 L319.8,781.5 L314.9,781.5 L310.1,781.4 L305.2,781.3 L300.4,781.0 L295.6,780.3 L290.7,779.1 L285.9,776.6 L281.0,768.0Z" fill="#000" fill-opacity="0.360"/>
<path d="M384.0,767.3 L388.6,759.8 L393.3,757.7 L397.9,756.6 L402.6,756.0 L407.2,755.7 L411.9,755.6 L416.6,755.6 L421.2,755.6 L425.9,755.6 L430.5,755.5 L435.1,755.6 L439.8,755.6 L444.4,755.6 L449.1,755.6 L453.8,755.7 L458.4,756.0 L463.1,756.6 L467.7,757.7 L472.4,759.8 L477.0,767.3 L477.0,767.3 L472.4,774.8 L467.7,776.9 L463.1,778.0 L458.4,778.6 L453.8,778.9 L449.1,779.0 L444.4,779.0 L439.8,779.0 L435.1,779.0 L430.5,779.0 L425.9,779.0 L421.2,779.0 L416.6,779.0 L411.9,779.0 L407.2,778.9 L402.6,778.6 L397.9,778.0 L393.3,776.9 L388.6,774.8 L384.0,767.3Z" fill="#000" fill-opacity="0.360"/>
<path d="M489.0,768.0 L493.4,761.9 L497.7,760.2 L502.1,759.3 L506.4,758.9 L510.8,758.6 L515.1,758.5 L519.5,758.5 L523.8,758.5 L528.1,758.5 L532.5,758.5 L536.9,758.5 L541.2,758.5 L545.5,758.5 L549.9,758.5 L554.2,758.6 L558.6,758.9 L563.0,759.3 L567.3,760.2 L571.6,761.9 L576.0,768.0 L576.0,768.0 L571.6,774.1 L567.3,775.8 L563.0,776.7 L558.6,777.1 L554.2,777.4 L549.9,777.5 L545.5,777.5 L541.2,777.5 L536.9,777.5 L532.5,777.5 L528.1,777.5 L523.8,777.5 L519.5,777.5 L515.1,777.5 L510.8,777.4 L506.4,777.1 L502.1,776.7 L497.7,775.8 L493.4,774.1 L489.0,768.0Z" fill="#000" fill-opacity="0.306"/>
<path d="M586.0,767.3 L590.8,760.9 L595.6,759.1 L600.4,758.2 L605.2,757.7 L610.0,757.5 L614.8,757.4 L619.6,757.3 L624.4,757.3 L629.2,757.3 L634.0,757.3 L638.8,757.3 L643.6,757.3 L648.4,757.3 L653.2,757.4 L658.0,757.5 L662.8,757.7 L667.6,758.2 L672.4,759.1 L677.2,760.9 L682.0,767.3 L682.0,767.3 L677.2,773.7 L672.4,775.5 L667.6,776.4 L662.8,776.9 L658.0,777.1 L653.2,777.2 L648.4,777.3 L643.6,777.3 L638.8,777.3 L634.0,777.3 L629.2,777.3 L624.4,777.3 L619.6,777.3 L614.8,777.2 L610.0,777.1 L605.2,776.9 L600.4,776.4 L595.6,775.5 L590.8,773.7 L586.0,767.3Z" fill="#000" fill-opacity="0.324"/>
</g>
<g filter="url(#b2)">
<path d="M81.0,768.8 L85.5,762.2 L89.9,760.3 L94.3,759.4 L98.8,758.9 L103.2,758.6 L107.7,758.5 L112.2,758.5 L116.6,758.5 L121.1,758.5 L125.5,758.4 L129.9,758.5 L134.4,758.5 L138.8,758.5 L143.3,758.5 L147.8,758.6 L152.2,758.9 L156.6,759.4 L161.1,760.3 L165.6,762.2 L170.0,768.8 L170.0,768.8 L165.6,775.4 L161.1,777.3 L156.6,778.2 L152.2,778.7 L147.8,779.0 L143.3,779.1 L138.8,779.1 L134.4,779.1 L129.9,779.1 L125.5,779.1 L121.1,779.1 L116.6,779.1 L112.2,779.1 L107.7,779.1 L103.2,779.0 L98.8,778.7 L94.3,778.2 L89.9,777.3 L85.5,775.4 L81.0,768.8Z" fill="#000" fill-opacity="1"/>
<path d="M182.0,770.0 L186.4,765.3 L190.9,763.9 L195.3,763.3 L199.8,762.9 L204.2,762.7 L208.7,762.6 L213.2,762.6 L217.6,762.6 L222.1,762.6 L226.5,762.6 L230.9,762.6 L235.4,762.6 L239.8,762.6 L244.3,762.6 L248.8,762.7 L253.2,762.9 L257.6,763.3 L262.1,763.9 L266.6,765.3 L271.0,770.0 L271.0,770.0 L266.6,774.7 L262.1,776.1 L257.6,776.7 L253.2,777.1 L248.8,777.3 L244.3,777.4 L239.8,777.4 L235.4,777.4 L230.9,777.4 L226.5,777.4 L222.1,777.4 L217.6,777.4 L213.2,777.4 L208.7,777.4 L204.2,777.3 L199.8,777.1 L195.3,776.7 L190.9,776.1 L186.4,774.7 L182.0,770.0Z" fill="#000" fill-opacity="1"/>
<path d="M286.0,768.0 L290.4,763.6 L294.7,762.3 L299.1,761.7 L303.4,761.4 L307.8,761.2 L312.1,761.1 L316.4,761.1 L320.8,761.1 L325.1,761.1 L329.5,761.1 L333.9,761.1 L338.2,761.1 L342.6,761.1 L346.9,761.1 L351.2,761.2 L355.6,761.4 L359.9,761.7 L364.3,762.3 L368.6,763.6 L373.0,768.0 L373.0,768.0 L368.6,772.4 L364.3,773.7 L359.9,774.3 L355.6,774.6 L351.2,774.8 L346.9,774.9 L342.6,774.9 L338.2,774.9 L333.9,774.9 L329.5,774.9 L325.1,774.9 L320.8,774.9 L316.4,774.9 L312.1,774.9 L307.8,774.8 L303.4,774.6 L299.1,774.3 L294.7,773.7 L290.4,772.4 L286.0,768.0Z" fill="#000" fill-opacity="1"/>
<path d="M389.0,767.3 L393.1,763.5 L397.3,762.4 L401.4,761.8 L405.6,761.5 L409.8,761.4 L413.9,761.3 L418.1,761.3 L422.2,761.3 L426.4,761.3 L430.5,761.3 L434.6,761.3 L438.8,761.3 L442.9,761.3 L447.1,761.3 L451.2,761.4 L455.4,761.5 L459.6,761.8 L463.7,762.4 L467.9,763.5 L472.0,767.3 L472.0,767.3 L467.9,771.1 L463.7,772.2 L459.6,772.8 L455.4,773.1 L451.2,773.2 L447.1,773.3 L442.9,773.3 L438.8,773.3 L434.6,773.3 L430.5,773.3 L426.4,773.3 L422.2,773.3 L418.1,773.3 L413.9,773.3 L409.8,773.2 L405.6,773.1 L401.4,772.8 L397.3,772.2 L393.1,771.1 L389.0,767.3Z" fill="#000" fill-opacity="1"/>
<path d="M494.0,768.0 L497.9,765.3 L501.7,764.5 L505.6,764.1 L509.4,763.9 L513.2,763.8 L517.1,763.8 L521.0,763.8 L524.8,763.8 L528.6,763.8 L532.5,763.8 L536.4,763.8 L540.2,763.8 L544.0,763.8 L547.9,763.8 L551.8,763.8 L555.6,763.9 L559.5,764.1 L563.3,764.5 L567.1,765.3 L571.0,768.0 L571.0,768.0 L567.1,770.7 L563.3,771.5 L559.5,771.9 L555.6,772.1 L551.8,772.2 L547.9,772.2 L544.0,772.2 L540.2,772.2 L536.4,772.2 L532.5,772.2 L528.6,772.2 L524.8,772.2 L521.0,772.2 L517.1,772.2 L513.2,772.2 L509.4,772.1 L505.6,771.9 L501.7,771.5 L497.9,770.7 L494.0,768.0Z" fill="#111" fill-opacity="0.85"/>
<path d="M591.0,767.3 L595.3,764.6 L599.6,763.8 L603.9,763.4 L608.2,763.2 L612.5,763.1 L616.8,763.1 L621.1,763.1 L625.4,763.1 L629.7,763.1 L634.0,763.0 L638.3,763.1 L642.6,763.1 L646.9,763.1 L651.2,763.1 L655.5,763.1 L659.8,763.2 L664.1,763.4 L668.4,763.8 L672.7,764.6 L677.0,767.3 L677.0,767.3 L672.7,770.0 L668.4,770.8 L664.1,771.2 L659.8,771.4 L655.5,771.5 L651.2,771.5 L646.9,771.5 L642.6,771.5 L638.3,771.5 L634.0,771.5 L629.7,771.5 L625.4,771.5 L621.1,771.5 L616.8,771.5 L612.5,771.5 L608.2,771.4 L603.9,771.2 L599.6,770.8 L595.3,770.0 L591.0,767.3Z" fill="#111" fill-opacity="0.9"/>
</g>
</g>
<rect x="74.4" y="727.9" width="616.2" height="77.2" fill="none" stroke="#000" stroke-width="2.8"/>
<clipPath id="c3"><rect x="73" y="811" width="619" height="77.5"/></clipPath>
<g clip-path="url(#c3)">
<rect x="73" y="811" width="619" height="77.5" fill="#f4f4f4"/>

<g filter="url(#b6)">
<path d="M63.0,850.6 L69.4,839.1 L75.8,835.8 L82.2,834.2 L88.6,833.3 L95.0,832.9 L101.4,832.7 L107.8,832.6 L114.2,832.6 L120.6,832.6 L127.0,832.6 L133.4,832.6 L139.8,832.6 L146.2,832.6 L152.6,832.7 L159.0,832.9 L165.4,833.3 L171.8,834.2 L178.2,835.8 L184.6,839.1 L191.0,850.6 L191.0,850.6 L184.6,862.1 L178.2,865.4 L171.8,867.0 L165.4,867.9 L159.0,868.3 L152.6,868.5 L146.2,868.6 L139.8,868.6 L133.4,868.6 L127.0,868.6 L120.6,868.6 L114.2,868.6 L107.8,868.6 L101.4,868.5 L95.0,868.3 L88.6,867.9 L82.2,867.0 L75.8,865.4 L69.4,862.1 L63.0,850.6Z" fill="#000" fill-opacity="0.360"/>
<path d="M171.0,849.9 L177.3,839.3 L183.6,836.4 L189.9,834.9 L196.2,834.1 L202.5,833.7 L208.8,833.5 L215.1,833.4 L221.4,833.4 L227.7,833.4 L234.0,833.4 L240.3,833.4 L246.6,833.4 L252.9,833.4 L259.2,833.5 L265.5,833.7 L271.8,834.1 L278.1,834.9 L284.4,836.4 L290.7,839.3 L297.0,849.9 L297.0,849.9 L290.7,860.5 L284.4,863.4 L278.1,864.9 L271.8,865.7 L265.5,866.1 L259.2,866.3 L252.9,866.4 L246.6,866.4 L240.3,866.4 L234.0,866.4 L227.7,866.4 L221.4,866.4 L215.1,866.4 L208.8,866.3 L202.5,866.1 L196.2,865.7 L189.9,864.9 L183.6,863.4 L177.3,860.5 L171.0,849.9Z" fill="#000" fill-opacity="0.360"/>
<path d="M275.0,849.9 L280.8,840.1 L286.6,837.4 L292.4,836.0 L298.2,835.3 L304.0,834.9 L309.8,834.7 L315.6,834.7 L321.4,834.7 L327.2,834.7 L333.0,834.6 L338.8,834.7 L344.6,834.7 L350.4,834.7 L356.2,834.7 L362.0,834.9 L367.8,835.3 L373.6,836.0 L379.4,837.4 L385.2,840.1 L391.0,849.9 L391.0,849.9 L385.2,859.7 L379.4,862.4 L373.6,863.8 L367.8,864.5 L362.0,864.9 L356.2,865.1 L350.4,865.1 L344.6,865.1 L338.8,865.1 L333.0,865.1 L327.2,865.1 L321.4,865.1 L315.6,865.1 L309.8,865.1 L304.0,864.9 L298.2,864.5 L292.4,863.8 L286.6,862.4 L280.8,859.7 L275.0,849.9Z" fill="#000" fill-opacity="0.360"/>
<path d="M386.0,849.9 L391.2,841.6 L396.4,839.2 L401.6,838.0 L406.8,837.4 L412.0,837.1 L417.2,837.0 L422.4,836.9 L427.6,836.9 L432.8,836.9 L438.0,836.9 L443.2,836.9 L448.4,836.9 L453.6,836.9 L458.8,837.0 L464.0,837.1 L469.2,837.4 L474.4,838.0 L479.6,839.2 L484.8,841.6 L490.0,849.9 L490.0,849.9 L484.8,858.2 L479.6,860.6 L474.4,861.8 L469.2,862.4 L464.0,862.7 L458.8,862.8 L453.6,862.9 L448.4,862.9 L443.2,862.9 L438.0,862.9 L432.8,862.9 L427.6,862.9 L422.4,862.9 L417.2,862.8 L412.0,862.7 L406.8,862.4 L401.6,861.8 L396.4,860.6 L391.2,858.2 L386.0,849.9Z" fill="#000" fill-opacity="0.360"/>
<path d="M491.0,849.9 L495.9,842.7 L500.8,840.7 L505.7,839.6 L510.6,839.1 L515.5,838.8 L520.4,838.7 L525.3,838.7 L530.2,838.7 L535.1,838.7 L540.0,838.6 L544.9,838.7 L549.8,838.7 L554.7,838.7 L559.6,838.7 L564.5,838.8 L569.4,839.1 L574.3,839.6 L579.2,840.7 L584.1,842.7 L589.0,849.9 L589.0,849.9 L584.1,857.1 L579.2,859.1 L574.3,860.2 L569.4,860.7 L564.5,861.0 L559.6,861.1 L554.7,861.1 L549.8,861.1 L544.9,861.1 L540.0,861.1 L535.1,861.1 L530.2,861.1 L525.3,861.1 L520.4,861.1 L515.5,861.0 L510.6,860.7 L505.7,860.2 L500.8,859.1 L495.9,857.1 L491.0,849.9Z" fill="#000" fill-opacity="0.360"/>
<path d="M595.0,850.6 L599.8,843.9 L604.5,842.0 L609.2,841.0 L614.0,840.5 L618.8,840.3 L623.5,840.2 L628.2,840.1 L633.0,840.1 L637.8,840.1 L642.5,840.1 L647.2,840.1 L652.0,840.1 L656.8,840.1 L661.5,840.2 L666.2,840.3 L671.0,840.5 L675.8,841.0 L680.5,842.0 L685.2,843.9 L690.0,850.6 L690.0,850.6 L685.2,857.3 L680.5,859.2 L675.8,860.2 L671.0,860.7 L666.2,860.9 L661.5,861.0 L656.8,861.1 L652.0,861.1 L647.2,861.1 L642.5,861.1 L637.8,861.1 L633.0,861.1 L628.2,861.1 L623.5,861.0 L618.8,860.9 L614.0,860.7 L609.2,860.2 L604.5,859.2 L599.8,857.3 L595.0,850.6Z" fill="#000" fill-opacity="0.306"/>
</g>
<g filter="url(#b2)">
<path d="M68.0,850.6 L73.9,843.5 L79.8,841.5 L85.7,840.5 L91.6,839.9 L97.5,839.7 L103.4,839.6 L109.3,839.5 L115.2,839.5 L121.1,839.5 L127.0,839.5 L132.9,839.5 L138.8,839.5 L144.7,839.5 L150.6,839.6 L156.5,839.7 L162.4,839.9 L168.3,840.5 L174.2,841.5 L180.1,843.5 L186.0,850.6 L186.0,850.6 L180.1,857.7 L174.2,859.7 L168.3,860.7 L162.4,861.3 L156.5,861.5 L150.6,861.6 L144.7,861.7 L138.8,861.7 L132.9,861.7 L127.0,861.7 L121.1,861.7 L115.2,861.7 L109.3,861.7 L103.4,861.6 L97.5,861.5 L91.6,861.3 L85.7,860.7 L79.8,859.7 L73.9,857.7 L68.0,850.6Z" fill="#000" fill-opacity="1"/>
<path d="M176.0,849.9 L181.8,843.6 L187.6,841.8 L193.4,840.9 L199.2,840.4 L205.0,840.2 L210.8,840.1 L216.6,840.0 L222.4,840.0 L228.2,840.0 L234.0,840.0 L239.8,840.0 L245.6,840.0 L251.4,840.0 L257.2,840.1 L263.0,840.2 L268.8,840.4 L274.6,840.9 L280.4,841.8 L286.2,843.6 L292.0,849.9 L292.0,849.9 L286.2,856.2 L280.4,858.0 L274.6,858.9 L268.8,859.4 L263.0,859.6 L257.2,859.7 L251.4,859.8 L245.6,859.8 L239.8,859.8 L234.0,859.8 L228.2,859.8 L222.4,859.8 L216.6,859.8 L210.8,859.7 L205.0,859.6 L199.2,859.4 L193.4,858.9 L187.6,858.0 L181.8,856.2 L176.0,849.9Z" fill="#000" fill-opacity="1"/>
<path d="M280.0,849.9 L285.3,844.4 L290.6,842.8 L295.9,842.0 L301.2,841.6 L306.5,841.4 L311.8,841.3 L317.1,841.3 L322.4,841.3 L327.7,841.3 L333.0,841.2 L338.3,841.3 L343.6,841.3 L348.9,841.3 L354.2,841.3 L359.5,841.4 L364.8,841.6 L370.1,842.0 L375.4,842.8 L380.7,844.4 L386.0,849.9 L386.0,849.9 L380.7,855.4 L375.4,857.0 L370.1,857.8 L364.8,858.2 L359.5,858.4 L354.2,858.5 L348.9,858.5 L343.6,858.5 L338.3,858.5 L333.0,858.5 L327.7,858.5 L322.4,858.5 L317.1,858.5 L311.8,858.5 L306.5,858.4 L301.2,858.2 L295.9,857.8 L290.6,857.0 L285.3,855.4 L280.0,849.9Z" fill="#000" fill-opacity="1"/>
<path d="M391.0,849.9 L395.7,845.8 L400.4,844.7 L405.1,844.1 L409.8,843.8 L414.5,843.6 L419.2,843.5 L423.9,843.5 L428.6,843.5 L433.3,843.5 L438.0,843.5 L442.7,843.5 L447.4,843.5 L452.1,843.5 L456.8,843.5 L461.5,843.6 L466.2,843.8 L470.9,844.1 L475.6,844.7 L480.3,845.8 L485.0,849.9 L485.0,849.9 L480.3,854.0 L475.6,855.1 L470.9,855.7 L466.2,856.0 L461.5,856.2 L456.8,856.3 L452.1,856.3 L447.4,856.3 L442.7,856.3 L438.0,856.3 L433.3,856.3 L428.6,856.3 L423.9,856.3 L419.2,856.3 L414.5,856.2 L409.8,856.0 L405.1,855.7 L400.4,855.1 L395.7,854.0 L391.0,849.9Z" fill="#000" fill-opacity="1"/>
<path d="M496.0,849.9 L500.4,846.4 L504.8,845.4 L509.2,844.9 L513.6,844.6 L518.0,844.5 L522.4,844.4 L526.8,844.4 L531.2,844.4 L535.6,844.4 L540.0,844.4 L544.4,844.4 L548.8,844.4 L553.2,844.4 L557.6,844.4 L562.0,844.5 L566.4,844.6 L570.8,844.9 L575.2,845.4 L579.6,846.4 L584.0,849.9 L584.0,849.9 L579.6,853.4 L575.2,854.4 L570.8,854.9 L566.4,855.2 L562.0,855.3 L557.6,855.4 L553.2,855.4 L548.8,855.4 L544.4,855.4 L540.0,855.4 L535.6,855.4 L531.2,855.4 L526.8,855.4 L522.4,855.4 L518.0,855.3 L513.6,855.2 L509.2,854.9 L504.8,854.4 L500.4,853.4 L496.0,849.9Z" fill="#000" fill-opacity="1"/>
<path d="M600.0,850.6 L604.2,847.6 L608.5,846.7 L612.8,846.3 L617.0,846.0 L621.2,845.9 L625.5,845.9 L629.8,845.9 L634.0,845.9 L638.2,845.9 L642.5,845.9 L646.8,845.9 L651.0,845.9 L655.2,845.9 L659.5,845.9 L663.8,845.9 L668.0,846.0 L672.2,846.3 L676.5,846.7 L680.8,847.6 L685.0,850.6 L685.0,850.6 L680.8,853.6 L676.5,854.5 L672.2,854.9 L668.0,855.2 L663.8,855.3 L659.5,855.3 L655.2,855.3 L651.0,855.3 L646.8,855.3 L642.5,855.4 L638.2,855.3 L634.0,855.3 L629.8,855.3 L625.5,855.3 L621.2,855.3 L617.0,855.2 L612.8,854.9 L608.5,854.5 L604.2,853.6 L600.0,850.6Z" fill="#111" fill-opacity="0.85"/>
</g>
</g>
<rect x="74.4" y="812.4" width="616.2" height="74.7" fill="none" stroke="#000" stroke-width="2.8"/>
<clipPath id="c4"><rect x="73" y="892.8" width="619" height="118.20000000000005"/></clipPath>
<g clip-path="url(#c4)">
<rect x="73" y="892.8" width="619" height="118.20000000000005" fill="#f7f7f7"/>

<g filter="url(#b6)">
<path d="M77.0,919.6 L81.8,914.2 L86.6,912.6 L91.4,911.8 L96.2,911.4 L101.0,911.2 L105.8,911.1 L110.6,911.1 L115.4,911.1 L120.2,911.1 L125.0,911.1 L129.8,911.1 L134.6,911.1 L139.4,911.1 L144.2,911.1 L149.0,911.2 L153.8,911.4 L158.6,911.8 L163.4,912.6 L168.2,914.2 L173.0,919.6 L173.0,919.6 L168.2,925.0 L163.4,926.6 L158.6,927.4 L153.8,927.8 L149.0,928.0 L144.2,928.1 L139.4,928.1 L134.6,928.1 L129.8,928.1 L125.0,928.1 L120.2,928.1 L115.4,928.1 L110.6,928.1 L105.8,928.1 L101.0,928.0 L96.2,927.8 L91.4,927.4 L86.6,926.6 L81.8,925.0 L77.0,919.6Z" fill="#000" fill-opacity="0.072"/>
<path d="M181.0,920.0 L185.6,914.1 L190.1,912.6 L194.7,911.9 L199.2,911.7 L203.8,911.6 L208.3,911.7 L212.8,911.9 L217.4,912.1 L221.9,912.3 L226.5,912.5 L231.1,912.7 L235.6,912.9 L240.2,913.1 L244.7,913.3 L249.2,913.6 L253.8,914.1 L258.4,914.7 L262.9,915.8 L267.4,917.7 L272.0,924.0 L272.0,924.0 L267.4,929.9 L262.9,931.4 L258.4,932.1 L253.8,932.3 L249.2,932.4 L244.7,932.3 L240.2,932.1 L235.6,931.9 L231.1,931.7 L226.5,931.5 L221.9,931.3 L217.4,931.1 L212.8,930.9 L208.3,930.7 L203.8,930.4 L199.2,929.9 L194.7,929.3 L190.1,928.2 L185.6,926.3 L181.0,920.0Z" fill="#000" fill-opacity="0.084"/>
<path d="M284.0,923.0 L288.6,917.7 L293.3,916.2 L297.9,915.5 L302.6,915.1 L307.2,914.9 L311.9,914.8 L316.6,914.8 L321.2,914.8 L325.9,914.8 L330.5,914.8 L335.1,914.8 L339.8,914.8 L344.4,914.8 L349.1,914.8 L353.8,914.9 L358.4,915.1 L363.1,915.5 L367.7,916.2 L372.4,917.7 L377.0,923.0 L377.0,923.0 L372.4,928.3 L367.7,929.8 L363.1,930.5 L358.4,930.9 L353.8,931.1 L349.1,931.2 L344.4,931.2 L339.8,931.2 L335.1,931.2 L330.5,931.2 L325.9,931.2 L321.2,931.2 L316.6,931.2 L311.9,931.2 L307.2,931.1 L302.6,930.9 L297.9,930.5 L293.3,929.8 L288.6,928.3 L284.0,923.0Z" fill="#000" fill-opacity="0.066"/>
<path d="M387.0,923.0 L391.4,918.2 L395.9,916.9 L400.4,916.2 L404.8,915.8 L409.2,915.6 L413.7,915.5 L418.1,915.5 L422.6,915.5 L427.1,915.5 L431.5,915.5 L435.9,915.5 L440.4,915.5 L444.9,915.5 L449.3,915.5 L453.8,915.6 L458.2,915.8 L462.6,916.2 L467.1,916.9 L471.6,918.2 L476.0,923.0 L476.0,923.0 L471.6,927.8 L467.1,929.1 L462.6,929.8 L458.2,930.2 L453.8,930.4 L449.3,930.5 L444.9,930.5 L440.4,930.5 L435.9,930.5 L431.5,930.5 L427.1,930.5 L422.6,930.5 L418.1,930.5 L413.7,930.5 L409.2,930.4 L404.8,930.2 L400.4,929.8 L395.9,929.1 L391.4,927.8 L387.0,923.0Z" fill="#000" fill-opacity="0.048"/>
<path d="M484.0,920.0 L488.2,914.6 L492.4,913.0 L496.6,912.2 L500.8,911.8 L505.0,911.6 L509.2,911.5 L513.4,911.5 L517.6,911.5 L521.8,911.5 L526.0,911.5 L530.2,911.5 L534.4,911.5 L538.6,911.5 L542.8,911.5 L547.0,911.6 L551.2,911.8 L555.4,912.2 L559.6,913.0 L563.8,914.6 L568.0,920.0 L568.0,920.0 L563.8,925.4 L559.6,927.0 L555.4,927.8 L551.2,928.2 L547.0,928.4 L542.8,928.5 L538.6,928.5 L534.4,928.5 L530.2,928.5 L526.0,928.5 L521.8,928.5 L517.6,928.5 L513.4,928.5 L509.2,928.5 L505.0,928.4 L500.8,928.2 L496.6,927.8 L492.4,927.0 L488.2,925.4 L484.0,920.0Z" fill="#000" fill-opacity="0.066"/>
<path d="M585.0,916.7 L589.8,911.9 L594.6,910.6 L599.4,909.9 L604.2,909.5 L609.0,909.3 L613.8,909.2 L618.6,909.2 L623.4,909.2 L628.2,909.2 L633.0,909.2 L637.8,909.2 L642.6,909.2 L647.4,909.2 L652.2,909.2 L657.0,909.3 L661.8,909.5 L666.6,909.9 L671.4,910.6 L676.2,911.9 L681.0,916.7 L681.0,916.7 L676.2,921.5 L671.4,922.8 L666.6,923.5 L661.8,923.9 L657.0,924.1 L652.2,924.2 L647.4,924.2 L642.6,924.2 L637.8,924.2 L633.0,924.2 L628.2,924.2 L623.4,924.2 L618.6,924.2 L613.8,924.2 L609.0,924.1 L604.2,923.9 L599.4,923.5 L594.6,922.8 L589.8,921.5 L585.0,916.7Z" fill="#000" fill-opacity="0.048"/>
<path d="M75.0,977.0 L79.9,970.9 L84.8,969.2 L89.7,968.3 L94.6,967.9 L99.5,967.6 L104.4,967.5 L109.3,967.5 L114.2,967.5 L119.1,967.5 L124.0,967.5 L128.9,967.5 L133.8,967.5 L138.7,967.5 L143.6,967.5 L148.5,967.6 L153.4,967.9 L158.3,968.3 L163.2,969.2 L168.1,970.9 L173.0,977.0 L173.0,977.0 L168.1,983.1 L163.2,984.8 L158.3,985.7 L153.4,986.1 L148.5,986.4 L143.6,986.5 L138.7,986.5 L133.8,986.5 L128.9,986.5 L124.0,986.5 L119.1,986.5 L114.2,986.5 L109.3,986.5 L104.4,986.5 L99.5,986.4 L94.6,986.1 L89.7,985.7 L84.8,984.8 L79.9,983.1 L75.0,977.0Z" fill="#000" fill-opacity="0.072"/>
<path d="M179.0,979.0 L183.8,972.9 L188.5,971.2 L193.2,970.3 L198.0,969.9 L202.8,969.6 L207.5,969.5 L212.2,969.5 L217.0,969.5 L221.8,969.5 L226.5,969.5 L231.2,969.5 L236.0,969.5 L240.8,969.5 L245.5,969.5 L250.2,969.6 L255.0,969.9 L259.8,970.3 L264.5,971.2 L269.2,972.9 L274.0,979.0 L274.0,979.0 L269.2,985.1 L264.5,986.8 L259.8,987.7 L255.0,988.1 L250.2,988.4 L245.5,988.5 L240.8,988.5 L236.0,988.5 L231.2,988.5 L226.5,988.5 L221.8,988.5 L217.0,988.5 L212.2,988.5 L207.5,988.5 L202.8,988.4 L198.0,988.1 L193.2,987.7 L188.5,986.8 L183.8,985.1 L179.0,979.0Z" fill="#000" fill-opacity="0.078"/>
<path d="M284.0,979.0 L288.6,972.9 L293.3,971.2 L297.9,970.3 L302.6,969.9 L307.2,969.6 L311.9,969.5 L316.6,969.5 L321.2,969.5 L325.9,969.5 L330.5,969.5 L335.1,969.5 L339.8,969.5 L344.4,969.5 L349.1,969.5 L353.8,969.6 L358.4,969.9 L363.1,970.3 L367.7,971.2 L372.4,972.9 L377.0,979.0 L377.0,979.0 L372.4,985.1 L367.7,986.8 L363.1,987.7 L358.4,988.1 L353.8,988.4 L349.1,988.5 L344.4,988.5 L339.8,988.5 L335.1,988.5 L330.5,988.5 L325.9,988.5 L321.2,988.5 L316.6,988.5 L311.9,988.5 L307.2,988.4 L302.6,988.1 L297.9,987.7 L293.3,986.8 L288.6,985.1 L284.0,979.0Z" fill="#000" fill-opacity="0.072"/>
<path d="M383.0,983.0 L387.9,975.6 L392.7,973.4 L397.6,972.1 L402.4,971.3 L407.2,970.9 L412.1,970.5 L416.9,970.3 L421.8,970.1 L426.6,969.9 L431.5,969.8 L436.4,969.6 L441.2,969.5 L446.1,969.4 L450.9,969.3 L455.8,969.4 L460.6,969.5 L465.4,970.0 L470.3,971.0 L475.1,972.9 L480.0,980.0 L480.0,980.0 L475.1,987.3 L470.3,989.4 L465.4,990.5 L460.6,991.2 L455.8,991.5 L450.9,991.7 L446.1,991.9 L441.2,992.0 L436.4,992.1 L431.5,992.2 L426.6,992.4 L421.8,992.6 L416.9,992.8 L412.1,992.9 L407.2,993.0 L402.4,993.0 L397.6,992.6 L392.7,991.8 L387.9,990.0 L383.0,983.0Z" fill="#000" fill-opacity="0.342"/>
<path d="M480.0,979.0 L485.4,969.9 L490.8,967.3 L496.2,965.9 L501.6,965.2 L507.0,964.7 L512.4,964.5 L517.8,964.3 L523.2,964.2 L528.6,964.1 L534.0,964.0 L539.4,963.9 L544.8,963.8 L550.2,963.7 L555.6,963.7 L561.0,963.7 L566.4,964.0 L571.8,964.5 L577.2,965.7 L582.6,968.1 L588.0,977.0 L588.0,977.0 L582.6,986.1 L577.2,988.7 L571.8,990.1 L566.4,990.8 L561.0,991.3 L555.6,991.5 L550.2,991.7 L544.8,991.8 L539.4,991.9 L534.0,992.0 L528.6,992.1 L523.2,992.2 L517.8,992.3 L512.4,992.3 L507.0,992.3 L501.6,992.0 L496.2,991.5 L490.8,990.3 L485.4,987.9 L480.0,979.0Z" fill="#000" fill-opacity="0.360"/>
<path d="M574.0,976.0 L579.7,966.6 L585.4,963.8 L591.1,962.3 L596.8,961.3 L602.5,960.7 L608.2,960.3 L613.9,960.0 L619.6,959.8 L625.3,959.5 L631.0,959.2 L636.7,959.0 L642.4,958.8 L648.1,958.5 L653.8,958.3 L659.5,958.2 L665.2,958.3 L670.9,958.8 L676.6,959.8 L682.3,962.1 L688.0,971.0 L688.0,971.0 L682.3,980.4 L676.6,983.2 L670.9,984.7 L665.2,985.7 L659.5,986.3 L653.8,986.7 L648.1,987.0 L642.4,987.2 L636.7,987.5 L631.0,987.8 L625.3,988.0 L619.6,988.2 L613.9,988.5 L608.2,988.7 L602.5,988.8 L596.8,988.7 L591.1,988.2 L585.4,987.2 L579.7,984.9 L574.0,976.0Z" fill="#000" fill-opacity="0.360"/>
</g>
<g filter="url(#b2)">
<path d="M82.0,919.6 L86.3,917.5 L90.6,916.9 L94.9,916.6 L99.2,916.5 L103.5,916.4 L107.8,916.4 L112.1,916.4 L116.4,916.4 L120.7,916.4 L125.0,916.4 L129.3,916.4 L133.6,916.4 L137.9,916.4 L142.2,916.4 L146.5,916.4 L150.8,916.5 L155.1,916.6 L159.4,916.9 L163.7,917.5 L168.0,919.6 L168.0,919.6 L163.7,921.7 L159.4,922.3 L155.1,922.6 L150.8,922.7 L146.5,922.8 L142.2,922.8 L137.9,922.8 L133.6,922.8 L129.3,922.8 L125.0,922.9 L120.7,922.8 L116.4,922.8 L112.1,922.8 L107.8,922.8 L103.5,922.8 L99.2,922.7 L94.9,922.6 L90.6,922.3 L86.3,921.7 L82.0,919.6Z" fill="#555" fill-opacity="0.6"/>
<path d="M186.0,920.0 L190.1,917.5 L194.1,916.9 L198.2,916.7 L202.2,916.7 L206.2,916.8 L210.3,917.0 L214.3,917.2 L218.4,917.4 L222.4,917.6 L226.5,917.8 L230.6,918.0 L234.6,918.2 L238.7,918.4 L242.7,918.6 L246.8,918.8 L250.8,919.1 L254.8,919.5 L258.9,920.1 L262.9,921.1 L267.0,924.0 L267.0,924.0 L262.9,926.5 L258.9,927.1 L254.8,927.3 L250.8,927.3 L246.8,927.2 L242.7,927.0 L238.7,926.8 L234.6,926.6 L230.6,926.4 L226.5,926.2 L222.4,926.0 L218.4,925.8 L214.3,925.6 L210.3,925.4 L206.2,925.2 L202.2,924.9 L198.2,924.5 L194.1,923.9 L190.1,922.9 L186.0,920.0Z" fill="#333" fill-opacity="0.7"/>
<path d="M289.0,923.0 L293.1,921.1 L297.3,920.5 L301.4,920.3 L305.6,920.1 L309.8,920.0 L313.9,920.0 L318.1,920.0 L322.2,920.0 L326.4,920.0 L330.5,920.0 L334.6,920.0 L338.8,920.0 L342.9,920.0 L347.1,920.0 L351.2,920.0 L355.4,920.1 L359.6,920.3 L363.7,920.5 L367.9,921.1 L372.0,923.0 L372.0,923.0 L367.9,924.9 L363.7,925.5 L359.6,925.7 L355.4,925.9 L351.2,926.0 L347.1,926.0 L342.9,926.0 L338.8,926.0 L334.6,926.0 L330.5,926.0 L326.4,926.0 L322.2,926.0 L318.1,926.0 L313.9,926.0 L309.8,926.0 L305.6,925.9 L301.4,925.7 L297.3,925.5 L293.1,924.9 L289.0,923.0Z" fill="#555" fill-opacity="0.55"/>
<path d="M392.0,923.0 L395.9,921.6 L399.9,921.2 L403.9,920.9 L407.8,920.8 L411.8,920.8 L415.7,920.8 L419.6,920.8 L423.6,920.8 L427.6,920.8 L431.5,920.8 L435.4,920.8 L439.4,920.8 L443.4,920.8 L447.3,920.8 L451.2,920.8 L455.2,920.8 L459.1,920.9 L463.1,921.2 L467.1,921.6 L471.0,923.0 L471.0,923.0 L467.1,924.4 L463.1,924.8 L459.1,925.1 L455.2,925.2 L451.2,925.2 L447.3,925.2 L443.4,925.2 L439.4,925.2 L435.4,925.2 L431.5,925.2 L427.6,925.2 L423.6,925.2 L419.6,925.2 L415.7,925.2 L411.8,925.2 L407.8,925.2 L403.9,925.1 L399.9,924.8 L395.9,924.4 L392.0,923.0Z" fill="#555" fill-opacity="0.4"/>
<path d="M489.0,920.0 L492.7,917.9 L496.4,917.3 L500.1,917.0 L503.8,916.9 L507.5,916.8 L511.2,916.8 L514.9,916.8 L518.6,916.8 L522.3,916.8 L526.0,916.8 L529.7,916.8 L533.4,916.8 L537.1,916.8 L540.8,916.8 L544.5,916.8 L548.2,916.9 L551.9,917.0 L555.6,917.3 L559.3,917.9 L563.0,920.0 L563.0,920.0 L559.3,922.1 L555.6,922.7 L551.9,923.0 L548.2,923.1 L544.5,923.2 L540.8,923.2 L537.1,923.2 L533.4,923.2 L529.7,923.2 L526.0,923.2 L522.3,923.2 L518.6,923.2 L514.9,923.2 L511.2,923.2 L507.5,923.2 L503.8,923.1 L500.1,923.0 L496.4,922.7 L492.7,922.1 L489.0,920.0Z" fill="#444" fill-opacity="0.55"/>
<path d="M590.0,916.7 L594.3,915.3 L598.6,914.9 L602.9,914.6 L607.2,914.5 L611.5,914.5 L615.8,914.5 L620.1,914.5 L624.4,914.5 L628.7,914.5 L633.0,914.5 L637.3,914.5 L641.6,914.5 L645.9,914.5 L650.2,914.5 L654.5,914.5 L658.8,914.5 L663.1,914.6 L667.4,914.9 L671.7,915.3 L676.0,916.7 L676.0,916.7 L671.7,918.1 L667.4,918.5 L663.1,918.8 L658.8,918.9 L654.5,918.9 L650.2,918.9 L645.9,918.9 L641.6,918.9 L637.3,918.9 L633.0,919.0 L628.7,918.9 L624.4,918.9 L620.1,918.9 L615.8,918.9 L611.5,918.9 L607.2,918.9 L602.9,918.8 L598.6,918.5 L594.3,918.1 L590.0,916.7Z" fill="#555" fill-opacity="0.4"/>
<path d="M80.0,977.0 L84.4,974.3 L88.8,973.5 L93.2,973.1 L97.6,972.9 L102.0,972.8 L106.4,972.8 L110.8,972.8 L115.2,972.8 L119.6,972.8 L124.0,972.8 L128.4,972.8 L132.8,972.8 L137.2,972.8 L141.6,972.8 L146.0,972.8 L150.4,972.9 L154.8,973.1 L159.2,973.5 L163.6,974.3 L168.0,977.0 L168.0,977.0 L163.6,979.7 L159.2,980.5 L154.8,980.9 L150.4,981.1 L146.0,981.2 L141.6,981.2 L137.2,981.2 L132.8,981.2 L128.4,981.2 L124.0,981.2 L119.6,981.2 L115.2,981.2 L110.8,981.2 L106.4,981.2 L102.0,981.2 L97.6,981.1 L93.2,980.9 L88.8,980.5 L84.4,979.7 L80.0,977.0Z" fill="#444" fill-opacity="0.6"/>
<path d="M184.0,979.0 L188.2,976.3 L192.5,975.5 L196.8,975.1 L201.0,974.9 L205.2,974.8 L209.5,974.8 L213.8,974.8 L218.0,974.8 L222.2,974.8 L226.5,974.8 L230.8,974.8 L235.0,974.8 L239.2,974.8 L243.5,974.8 L247.8,974.8 L252.0,974.9 L256.2,975.1 L260.5,975.5 L264.8,976.3 L269.0,979.0 L269.0,979.0 L264.8,981.7 L260.5,982.5 L256.2,982.9 L252.0,983.1 L247.8,983.2 L243.5,983.2 L239.2,983.2 L235.0,983.2 L230.8,983.2 L226.5,983.2 L222.2,983.2 L218.0,983.2 L213.8,983.2 L209.5,983.2 L205.2,983.2 L201.0,983.1 L196.8,982.9 L192.5,982.5 L188.2,981.7 L184.0,979.0Z" fill="#444" fill-opacity="0.65"/>
<path d="M289.0,979.0 L293.1,976.3 L297.3,975.5 L301.4,975.1 L305.6,974.9 L309.8,974.8 L313.9,974.8 L318.1,974.8 L322.2,974.8 L326.4,974.8 L330.5,974.8 L334.6,974.8 L338.8,974.8 L342.9,974.8 L347.1,974.8 L351.2,974.8 L355.4,974.9 L359.6,975.1 L363.7,975.5 L367.9,976.3 L372.0,979.0 L372.0,979.0 L367.9,981.7 L363.7,982.5 L359.6,982.9 L355.4,983.1 L351.2,983.2 L347.1,983.2 L342.9,983.2 L338.8,983.2 L334.6,983.2 L330.5,983.2 L326.4,983.2 L322.2,983.2 L318.1,983.2 L313.9,983.2 L309.8,983.2 L305.6,983.1 L301.4,982.9 L297.3,982.5 L293.1,981.7 L289.0,979.0Z" fill="#444" fill-opacity="0.6"/>
<path d="M388.0,983.0 L392.4,979.3 L396.7,978.1 L401.1,977.4 L405.4,976.9 L409.8,976.5 L414.1,976.3 L418.4,976.0 L422.8,975.8 L427.1,975.7 L431.5,975.5 L435.9,975.4 L440.2,975.2 L444.6,975.1 L448.9,975.1 L453.2,975.0 L457.6,975.1 L461.9,975.3 L466.3,975.7 L470.6,976.6 L475.0,980.0 L475.0,980.0 L470.6,983.6 L466.3,984.7 L461.9,985.3 L457.6,985.6 L453.2,985.9 L448.9,986.0 L444.6,986.1 L440.2,986.2 L435.9,986.4 L431.5,986.5 L427.1,986.7 L422.8,986.8 L418.4,987.0 L414.1,987.2 L409.8,987.4 L405.4,987.4 L401.1,987.4 L396.7,987.1 L392.4,986.3 L388.0,983.0Z" fill="#000" fill-opacity="0.95"/>
<path d="M485.0,979.0 L489.9,974.2 L494.8,972.7 L499.7,972.0 L504.6,971.5 L509.5,971.2 L514.4,971.0 L519.3,970.9 L524.2,970.8 L529.1,970.7 L534.0,970.6 L538.9,970.5 L543.8,970.4 L548.7,970.3 L553.6,970.2 L558.5,970.2 L563.4,970.3 L568.3,970.6 L573.2,971.1 L578.1,972.4 L583.0,977.0 L583.0,977.0 L578.1,981.8 L573.2,983.3 L568.3,984.0 L563.4,984.5 L558.5,984.8 L553.6,985.0 L548.7,985.1 L543.8,985.2 L538.9,985.3 L534.0,985.4 L529.1,985.5 L524.2,985.6 L519.3,985.7 L514.4,985.8 L509.5,985.8 L504.6,985.7 L499.7,985.4 L494.8,984.9 L489.9,983.6 L485.0,979.0Z" fill="#000" fill-opacity="1"/>
<path d="M579.0,976.0 L584.2,970.9 L589.4,969.2 L594.6,968.3 L599.8,967.7 L605.0,967.2 L610.2,966.9 L615.4,966.6 L620.6,966.4 L625.8,966.1 L631.0,965.9 L636.2,965.6 L641.4,965.4 L646.6,965.1 L651.8,964.9 L657.0,964.7 L662.2,964.7 L667.4,964.8 L672.6,965.2 L677.8,966.4 L683.0,971.0 L683.0,971.0 L677.8,976.1 L672.6,977.8 L667.4,978.7 L662.2,979.3 L657.0,979.8 L651.8,980.1 L646.6,980.4 L641.4,980.6 L636.2,980.9 L631.0,981.1 L625.8,981.4 L620.6,981.6 L615.4,981.9 L610.2,982.1 L605.0,982.3 L599.8,982.3 L594.6,982.2 L589.4,981.8 L584.2,980.6 L579.0,976.0Z" fill="#000" fill-opacity="1"/>
</g>
</g>
<rect x="74.4" y="894.1999999999999" width="616.2" height="115.40000000000005" fill="none" stroke="#000" stroke-width="2.8"/>
<clipPath id="c5"><rect x="73" y="1015.5" width="619" height="67.5"/></clipPath>
<g clip-path="url(#c5)">
<rect x="73" y="1015.5" width="619" height="67.5" fill="#d9d9d9"/>

<g filter="url(#b6)">
<path d="M77.0,1052.4 L82.0,1043.3 L87.1,1040.7 L92.2,1039.4 L97.2,1038.7 L102.2,1038.4 L107.3,1038.2 L112.3,1038.2 L117.4,1038.2 L122.5,1038.2 L127.5,1038.2 L132.6,1038.2 L137.6,1038.2 L142.7,1038.2 L147.7,1038.2 L152.8,1038.4 L157.8,1038.7 L162.8,1039.4 L167.9,1040.7 L172.9,1043.3 L178.0,1052.4 L178.0,1052.4 L172.9,1061.5 L167.9,1064.1 L162.8,1065.4 L157.8,1066.1 L152.8,1066.4 L147.7,1066.6 L142.7,1066.6 L137.6,1066.6 L132.6,1066.6 L127.5,1066.7 L122.5,1066.6 L117.4,1066.6 L112.3,1066.6 L107.3,1066.6 L102.2,1066.4 L97.2,1066.1 L92.2,1065.4 L87.1,1064.1 L82.0,1061.5 L77.0,1052.4Z" fill="#000" fill-opacity="0.360"/>
<path d="M381.0,1054.0 L386.1,1045.4 L391.1,1042.9 L396.1,1041.7 L401.2,1041.0 L406.2,1040.7 L411.3,1040.6 L416.4,1040.5 L421.4,1040.5 L426.4,1040.5 L431.5,1040.5 L436.6,1040.5 L441.6,1040.5 L446.6,1040.5 L451.7,1040.6 L456.8,1040.7 L461.8,1041.0 L466.9,1041.7 L471.9,1042.9 L476.9,1045.4 L482.0,1054.0 L482.0,1054.0 L476.9,1062.6 L471.9,1065.1 L466.9,1066.3 L461.8,1067.0 L456.8,1067.3 L451.7,1067.4 L446.6,1067.5 L441.6,1067.5 L436.6,1067.5 L431.5,1067.5 L426.4,1067.5 L421.4,1067.5 L416.4,1067.5 L411.3,1067.4 L406.2,1067.3 L401.2,1067.0 L396.1,1066.3 L391.1,1065.1 L386.1,1062.6 L381.0,1054.0Z" fill="#000" fill-opacity="0.360"/>
<path d="M185.0,1030.0 L189.5,1025.2 L194.0,1023.9 L198.5,1023.2 L203.0,1022.8 L207.5,1022.6 L212.0,1022.5 L216.5,1022.5 L221.0,1022.5 L225.5,1022.5 L230.0,1022.5 L234.5,1022.5 L239.0,1022.5 L243.5,1022.5 L248.0,1022.5 L252.5,1022.6 L257.0,1022.8 L261.5,1023.2 L266.0,1023.9 L270.5,1025.2 L275.0,1030.0 L275.0,1030.0 L270.5,1034.8 L266.0,1036.1 L261.5,1036.8 L257.0,1037.2 L252.5,1037.4 L248.0,1037.5 L243.5,1037.5 L239.0,1037.5 L234.5,1037.5 L230.0,1037.5 L225.5,1037.5 L221.0,1037.5 L216.5,1037.5 L212.0,1037.5 L207.5,1037.4 L203.0,1037.2 L198.5,1036.8 L194.0,1036.1 L189.5,1034.8 L185.0,1030.0Z" fill="#000" fill-opacity="0.022"/>
<path d="M287.0,1030.0 L291.5,1025.2 L296.0,1023.9 L300.5,1023.2 L305.0,1022.8 L309.5,1022.6 L314.0,1022.5 L318.5,1022.5 L323.0,1022.5 L327.5,1022.5 L332.0,1022.5 L336.5,1022.5 L341.0,1022.5 L345.5,1022.5 L350.0,1022.5 L354.5,1022.6 L359.0,1022.8 L363.5,1023.2 L368.0,1023.9 L372.5,1025.2 L377.0,1030.0 L377.0,1030.0 L372.5,1034.8 L368.0,1036.1 L363.5,1036.8 L359.0,1037.2 L354.5,1037.4 L350.0,1037.5 L345.5,1037.5 L341.0,1037.5 L336.5,1037.5 L332.0,1037.5 L327.5,1037.5 L323.0,1037.5 L318.5,1037.5 L314.0,1037.5 L309.5,1037.4 L305.0,1037.2 L300.5,1036.8 L296.0,1036.1 L291.5,1034.8 L287.0,1030.0Z" fill="#000" fill-opacity="0.018"/>
<path d="M490.0,1030.0 L494.2,1025.2 L498.5,1023.9 L502.8,1023.2 L507.0,1022.8 L511.2,1022.6 L515.5,1022.5 L519.8,1022.5 L524.0,1022.5 L528.2,1022.5 L532.5,1022.5 L536.8,1022.5 L541.0,1022.5 L545.2,1022.5 L549.5,1022.5 L553.8,1022.6 L558.0,1022.8 L562.2,1023.2 L566.5,1023.9 L570.8,1025.2 L575.0,1030.0 L575.0,1030.0 L570.8,1034.8 L566.5,1036.1 L562.2,1036.8 L558.0,1037.2 L553.8,1037.4 L549.5,1037.5 L545.2,1037.5 L541.0,1037.5 L536.8,1037.5 L532.5,1037.5 L528.2,1037.5 L524.0,1037.5 L519.8,1037.5 L515.5,1037.5 L511.2,1037.4 L507.0,1037.2 L502.8,1036.8 L498.5,1036.1 L494.2,1034.8 L490.0,1030.0Z" fill="#000" fill-opacity="0.024"/>
<path d="M593.0,1030.0 L597.6,1025.2 L602.2,1023.9 L606.8,1023.2 L611.4,1022.8 L616.0,1022.6 L620.6,1022.5 L625.2,1022.5 L629.8,1022.5 L634.4,1022.5 L639.0,1022.5 L643.6,1022.5 L648.2,1022.5 L652.8,1022.5 L657.4,1022.5 L662.0,1022.6 L666.6,1022.8 L671.2,1023.2 L675.8,1023.9 L680.4,1025.2 L685.0,1030.0 L685.0,1030.0 L680.4,1034.8 L675.8,1036.1 L671.2,1036.8 L666.6,1037.2 L662.0,1037.4 L657.4,1037.5 L652.8,1037.5 L648.2,1037.5 L643.6,1037.5 L639.0,1037.5 L634.4,1037.5 L629.8,1037.5 L625.2,1037.5 L620.6,1037.5 L616.0,1037.4 L611.4,1037.2 L606.8,1036.8 L602.2,1036.1 L597.6,1034.8 L593.0,1030.0Z" fill="#000" fill-opacity="0.018"/>
<path d="M185.0,1062.0 L189.5,1056.2 L194.0,1054.6 L198.5,1053.8 L203.0,1053.4 L207.5,1053.1 L212.0,1053.0 L216.5,1053.0 L221.0,1053.0 L225.5,1053.0 L230.0,1053.0 L234.5,1053.0 L239.0,1053.0 L243.5,1053.0 L248.0,1053.0 L252.5,1053.1 L257.0,1053.4 L261.5,1053.8 L266.0,1054.6 L270.5,1056.2 L275.0,1062.0 L275.0,1062.0 L270.5,1067.8 L266.0,1069.4 L261.5,1070.2 L257.0,1070.6 L252.5,1070.9 L248.0,1071.0 L243.5,1071.0 L239.0,1071.0 L234.5,1071.0 L230.0,1071.0 L225.5,1071.0 L221.0,1071.0 L216.5,1071.0 L212.0,1071.0 L207.5,1070.9 L203.0,1070.6 L198.5,1070.2 L194.0,1069.4 L189.5,1067.8 L185.0,1062.0Z" fill="#000" fill-opacity="0.014"/>
<path d="M287.0,1062.0 L291.5,1056.2 L296.0,1054.6 L300.5,1053.8 L305.0,1053.4 L309.5,1053.1 L314.0,1053.0 L318.5,1053.0 L323.0,1053.0 L327.5,1053.0 L332.0,1053.0 L336.5,1053.0 L341.0,1053.0 L345.5,1053.0 L350.0,1053.0 L354.5,1053.1 L359.0,1053.4 L363.5,1053.8 L368.0,1054.6 L372.5,1056.2 L377.0,1062.0 L377.0,1062.0 L372.5,1067.8 L368.0,1069.4 L363.5,1070.2 L359.0,1070.6 L354.5,1070.9 L350.0,1071.0 L345.5,1071.0 L341.0,1071.0 L336.5,1071.0 L332.0,1071.0 L327.5,1071.0 L323.0,1071.0 L318.5,1071.0 L314.0,1071.0 L309.5,1070.9 L305.0,1070.6 L300.5,1070.2 L296.0,1069.4 L291.5,1067.8 L287.0,1062.0Z" fill="#000" fill-opacity="0.014"/>
<path d="M490.0,1062.0 L494.2,1056.2 L498.5,1054.6 L502.8,1053.8 L507.0,1053.4 L511.2,1053.1 L515.5,1053.0 L519.8,1053.0 L524.0,1053.0 L528.2,1053.0 L532.5,1053.0 L536.8,1053.0 L541.0,1053.0 L545.2,1053.0 L549.5,1053.0 L553.8,1053.1 L558.0,1053.4 L562.2,1053.8 L566.5,1054.6 L570.8,1056.2 L575.0,1062.0 L575.0,1062.0 L570.8,1067.8 L566.5,1069.4 L562.2,1070.2 L558.0,1070.6 L553.8,1070.9 L549.5,1071.0 L545.2,1071.0 L541.0,1071.0 L536.8,1071.0 L532.5,1071.0 L528.2,1071.0 L524.0,1071.0 L519.8,1071.0 L515.5,1071.0 L511.2,1070.9 L507.0,1070.6 L502.8,1070.2 L498.5,1069.4 L494.2,1067.8 L490.0,1062.0Z" fill="#000" fill-opacity="0.014"/>
<path d="M593.0,1062.0 L597.6,1056.2 L602.2,1054.6 L606.8,1053.8 L611.4,1053.4 L616.0,1053.1 L620.6,1053.0 L625.2,1053.0 L629.8,1053.0 L634.4,1053.0 L639.0,1053.0 L643.6,1053.0 L648.2,1053.0 L652.8,1053.0 L657.4,1053.0 L662.0,1053.1 L666.6,1053.4 L671.2,1053.8 L675.8,1054.6 L680.4,1056.2 L685.0,1062.0 L685.0,1062.0 L680.4,1067.8 L675.8,1069.4 L671.2,1070.2 L666.6,1070.6 L662.0,1070.9 L657.4,1071.0 L652.8,1071.0 L648.2,1071.0 L643.6,1071.0 L639.0,1071.0 L634.4,1071.0 L629.8,1071.0 L625.2,1071.0 L620.6,1071.0 L616.0,1070.9 L611.4,1070.6 L606.8,1070.2 L602.2,1069.4 L597.6,1067.8 L593.0,1062.0Z" fill="#000" fill-opacity="0.014"/>
</g>
<g filter="url(#b2)">
<path d="M82.0,1052.4 L86.5,1047.5 L91.1,1046.1 L95.7,1045.4 L100.2,1045.1 L104.8,1044.9 L109.3,1044.8 L113.8,1044.8 L118.4,1044.8 L123.0,1044.8 L127.5,1044.8 L132.1,1044.8 L136.6,1044.8 L141.2,1044.8 L145.7,1044.8 L150.2,1044.9 L154.8,1045.1 L159.3,1045.4 L163.9,1046.1 L168.4,1047.5 L173.0,1052.4 L173.0,1052.4 L168.4,1057.3 L163.9,1058.7 L159.3,1059.4 L154.8,1059.7 L150.2,1059.9 L145.7,1060.0 L141.2,1060.0 L136.6,1060.0 L132.1,1060.0 L127.5,1060.1 L123.0,1060.0 L118.4,1060.0 L113.8,1060.0 L109.3,1060.0 L104.8,1059.9 L100.2,1059.7 L95.7,1059.4 L91.1,1058.7 L86.5,1057.3 L82.0,1052.4Z" fill="#000" fill-opacity="1"/>
<path d="M386.0,1054.0 L390.6,1049.6 L395.1,1048.3 L399.6,1047.7 L404.2,1047.4 L408.8,1047.2 L413.3,1047.1 L417.9,1047.1 L422.4,1047.1 L426.9,1047.1 L431.5,1047.1 L436.1,1047.1 L440.6,1047.1 L445.1,1047.1 L449.7,1047.1 L454.2,1047.2 L458.8,1047.4 L463.4,1047.7 L467.9,1048.3 L472.4,1049.6 L477.0,1054.0 L477.0,1054.0 L472.4,1058.4 L467.9,1059.7 L463.4,1060.3 L458.8,1060.6 L454.2,1060.8 L449.7,1060.9 L445.1,1060.9 L440.6,1060.9 L436.1,1060.9 L431.5,1060.9 L426.9,1060.9 L422.4,1060.9 L417.9,1060.9 L413.3,1060.9 L408.8,1060.8 L404.2,1060.6 L399.6,1060.3 L395.1,1059.7 L390.6,1058.4 L386.0,1054.0Z" fill="#000" fill-opacity="1"/>
</g>
<g filter="url(#b4)">
<path d="M190.0,1030.0 L194.0,1028.6 L198.0,1028.2 L202.0,1027.9 L206.0,1027.8 L210.0,1027.8 L214.0,1027.8 L218.0,1027.8 L222.0,1027.8 L226.0,1027.8 L230.0,1027.8 L234.0,1027.8 L238.0,1027.8 L242.0,1027.8 L246.0,1027.8 L250.0,1027.8 L254.0,1027.8 L258.0,1027.9 L262.0,1028.2 L266.0,1028.6 L270.0,1030.0 L270.0,1030.0 L266.0,1031.4 L262.0,1031.8 L258.0,1032.1 L254.0,1032.2 L250.0,1032.2 L246.0,1032.2 L242.0,1032.2 L238.0,1032.2 L234.0,1032.2 L230.0,1032.2 L226.0,1032.2 L222.0,1032.2 L218.0,1032.2 L214.0,1032.2 L210.0,1032.2 L206.0,1032.2 L202.0,1032.1 L198.0,1031.8 L194.0,1031.4 L190.0,1030.0Z" fill="#666" fill-opacity="0.18"/>
<path d="M292.0,1030.0 L296.0,1028.6 L300.0,1028.2 L304.0,1027.9 L308.0,1027.8 L312.0,1027.8 L316.0,1027.8 L320.0,1027.8 L324.0,1027.8 L328.0,1027.8 L332.0,1027.8 L336.0,1027.8 L340.0,1027.8 L344.0,1027.8 L348.0,1027.8 L352.0,1027.8 L356.0,1027.8 L360.0,1027.9 L364.0,1028.2 L368.0,1028.6 L372.0,1030.0 L372.0,1030.0 L368.0,1031.4 L364.0,1031.8 L360.0,1032.1 L356.0,1032.2 L352.0,1032.2 L348.0,1032.2 L344.0,1032.2 L340.0,1032.2 L336.0,1032.2 L332.0,1032.2 L328.0,1032.2 L324.0,1032.2 L320.0,1032.2 L316.0,1032.2 L312.0,1032.2 L308.0,1032.2 L304.0,1032.1 L300.0,1031.8 L296.0,1031.4 L292.0,1030.0Z" fill="#666" fill-opacity="0.15"/>
<path d="M495.0,1030.0 L498.8,1028.6 L502.5,1028.2 L506.2,1027.9 L510.0,1027.8 L513.8,1027.8 L517.5,1027.8 L521.2,1027.8 L525.0,1027.8 L528.8,1027.8 L532.5,1027.8 L536.2,1027.8 L540.0,1027.8 L543.8,1027.8 L547.5,1027.8 L551.2,1027.8 L555.0,1027.8 L558.8,1027.9 L562.5,1028.2 L566.2,1028.6 L570.0,1030.0 L570.0,1030.0 L566.2,1031.4 L562.5,1031.8 L558.8,1032.1 L555.0,1032.2 L551.2,1032.2 L547.5,1032.2 L543.8,1032.2 L540.0,1032.2 L536.2,1032.2 L532.5,1032.2 L528.8,1032.2 L525.0,1032.2 L521.2,1032.2 L517.5,1032.2 L513.8,1032.2 L510.0,1032.2 L506.2,1032.1 L502.5,1031.8 L498.8,1031.4 L495.0,1030.0Z" fill="#666" fill-opacity="0.2"/>
<path d="M598.0,1030.0 L602.1,1028.6 L606.2,1028.2 L610.3,1027.9 L614.4,1027.8 L618.5,1027.8 L622.6,1027.8 L626.7,1027.8 L630.8,1027.8 L634.9,1027.8 L639.0,1027.8 L643.1,1027.8 L647.2,1027.8 L651.3,1027.8 L655.4,1027.8 L659.5,1027.8 L663.6,1027.8 L667.7,1027.9 L671.8,1028.2 L675.9,1028.6 L680.0,1030.0 L680.0,1030.0 L675.9,1031.4 L671.8,1031.8 L667.7,1032.1 L663.6,1032.2 L659.5,1032.2 L655.4,1032.2 L651.3,1032.2 L647.2,1032.2 L643.1,1032.2 L639.0,1032.2 L634.9,1032.2 L630.8,1032.2 L626.7,1032.2 L622.6,1032.2 L618.5,1032.2 L614.4,1032.2 L610.3,1032.1 L606.2,1031.8 L602.1,1031.4 L598.0,1030.0Z" fill="#666" fill-opacity="0.15"/>
<path d="M190.0,1062.0 L194.0,1059.6 L198.0,1058.9 L202.0,1058.6 L206.0,1058.4 L210.0,1058.3 L214.0,1058.3 L218.0,1058.3 L222.0,1058.3 L226.0,1058.3 L230.0,1058.2 L234.0,1058.3 L238.0,1058.3 L242.0,1058.3 L246.0,1058.3 L250.0,1058.3 L254.0,1058.4 L258.0,1058.6 L262.0,1058.9 L266.0,1059.6 L270.0,1062.0 L270.0,1062.0 L266.0,1064.4 L262.0,1065.1 L258.0,1065.4 L254.0,1065.6 L250.0,1065.7 L246.0,1065.7 L242.0,1065.7 L238.0,1065.7 L234.0,1065.7 L230.0,1065.8 L226.0,1065.7 L222.0,1065.7 L218.0,1065.7 L214.0,1065.7 L210.0,1065.7 L206.0,1065.6 L202.0,1065.4 L198.0,1065.1 L194.0,1064.4 L190.0,1062.0Z" fill="#666" fill-opacity="0.12"/>
<path d="M292.0,1062.0 L296.0,1059.6 L300.0,1058.9 L304.0,1058.6 L308.0,1058.4 L312.0,1058.3 L316.0,1058.3 L320.0,1058.3 L324.0,1058.3 L328.0,1058.3 L332.0,1058.2 L336.0,1058.3 L340.0,1058.3 L344.0,1058.3 L348.0,1058.3 L352.0,1058.3 L356.0,1058.4 L360.0,1058.6 L364.0,1058.9 L368.0,1059.6 L372.0,1062.0 L372.0,1062.0 L368.0,1064.4 L364.0,1065.1 L360.0,1065.4 L356.0,1065.6 L352.0,1065.7 L348.0,1065.7 L344.0,1065.7 L340.0,1065.7 L336.0,1065.7 L332.0,1065.8 L328.0,1065.7 L324.0,1065.7 L320.0,1065.7 L316.0,1065.7 L312.0,1065.7 L308.0,1065.6 L304.0,1065.4 L300.0,1065.1 L296.0,1064.4 L292.0,1062.0Z" fill="#666" fill-opacity="0.12"/>
<path d="M495.0,1062.0 L498.8,1059.6 L502.5,1058.9 L506.2,1058.6 L510.0,1058.4 L513.8,1058.3 L517.5,1058.3 L521.2,1058.3 L525.0,1058.3 L528.8,1058.3 L532.5,1058.2 L536.2,1058.3 L540.0,1058.3 L543.8,1058.3 L547.5,1058.3 L551.2,1058.3 L555.0,1058.4 L558.8,1058.6 L562.5,1058.9 L566.2,1059.6 L570.0,1062.0 L570.0,1062.0 L566.2,1064.4 L562.5,1065.1 L558.8,1065.4 L555.0,1065.6 L551.2,1065.7 L547.5,1065.7 L543.8,1065.7 L540.0,1065.7 L536.2,1065.7 L532.5,1065.8 L528.8,1065.7 L525.0,1065.7 L521.2,1065.7 L517.5,1065.7 L513.8,1065.7 L510.0,1065.6 L506.2,1065.4 L502.5,1065.1 L498.8,1064.4 L495.0,1062.0Z" fill="#666" fill-opacity="0.12"/>
<path d="M598.0,1062.0 L602.1,1059.6 L606.2,1058.9 L610.3,1058.6 L614.4,1058.4 L618.5,1058.3 L622.6,1058.3 L626.7,1058.3 L630.8,1058.3 L634.9,1058.3 L639.0,1058.2 L643.1,1058.3 L647.2,1058.3 L651.3,1058.3 L655.4,1058.3 L659.5,1058.3 L663.6,1058.4 L667.7,1058.6 L671.8,1058.9 L675.9,1059.6 L680.0,1062.0 L680.0,1062.0 L675.9,1064.4 L671.8,1065.1 L667.7,1065.4 L663.6,1065.6 L659.5,1065.7 L655.4,1065.7 L651.3,1065.7 L647.2,1065.7 L643.1,1065.7 L639.0,1065.8 L634.9,1065.7 L630.8,1065.7 L626.7,1065.7 L622.6,1065.7 L618.5,1065.7 L614.4,1065.6 L610.3,1065.4 L606.2,1065.1 L602.1,1064.4 L598.0,1062.0Z" fill="#666" fill-opacity="0.12"/>
</g>
</g>
<rect x="74.4" y="1016.9" width="616.2" height="64.7" fill="none" stroke="#000" stroke-width="2.8"/>
<clipPath id="c6"><rect x="74.5" y="1086" width="617.5" height="73.5"/></clipPath>
<g clip-path="url(#c6)">
<rect x="74.5" y="1086" width="617.5" height="73.5" fill="#f6f6f6"/>

<g filter="url(#b6)">
<path d="M80.0,1121.0 L84.7,1114.1 L89.4,1112.8 L94.1,1112.6 L98.8,1112.9 L103.5,1113.5 L108.2,1114.2 L112.9,1114.9 L117.6,1115.4 L122.3,1115.8 L127.0,1116.0 L131.7,1115.9 L136.4,1115.6 L141.1,1115.2 L145.8,1114.6 L150.5,1114.0 L155.2,1113.5 L159.9,1113.3 L164.6,1113.6 L169.3,1115.0 L174.0,1122.0 L174.0,1122.0 L169.3,1130.3 L164.6,1133.2 L159.9,1135.2 L155.2,1136.5 L150.5,1137.6 L145.8,1138.5 L141.1,1139.1 L136.4,1139.6 L131.7,1139.9 L127.0,1140.0 L122.3,1139.8 L117.6,1139.4 L112.9,1138.8 L108.2,1138.1 L103.5,1137.1 L98.8,1135.9 L94.1,1134.5 L89.4,1132.4 L84.7,1129.4 L80.0,1121.0Z" fill="#000" fill-opacity="0.360"/>
<path d="M182.0,1123.0 L186.8,1116.1 L191.6,1114.8 L196.4,1114.5 L201.2,1114.9 L206.0,1115.4 L210.8,1116.1 L215.6,1116.8 L220.4,1117.4 L225.2,1117.8 L230.0,1118.0 L234.8,1118.0 L239.6,1117.8 L244.4,1117.4 L249.2,1116.9 L254.0,1116.4 L258.8,1116.1 L263.6,1115.9 L268.4,1116.4 L273.2,1117.9 L278.0,1125.0 L278.0,1125.0 L273.2,1133.2 L268.4,1136.0 L263.6,1137.8 L258.8,1139.1 L254.0,1140.1 L249.2,1140.8 L244.4,1141.4 L239.6,1141.8 L234.8,1142.0 L230.0,1142.0 L225.2,1141.8 L220.4,1141.4 L215.6,1140.8 L210.8,1140.0 L206.0,1139.1 L201.2,1137.9 L196.4,1136.4 L191.6,1134.4 L186.8,1131.4 L182.0,1123.0Z" fill="#000" fill-opacity="0.360"/>
<path d="M285.0,1125.0 L289.8,1118.0 L294.5,1116.5 L299.2,1116.1 L304.0,1116.2 L308.8,1116.6 L313.5,1117.1 L318.2,1117.6 L323.0,1118.0 L327.8,1118.2 L332.5,1118.2 L337.2,1118.1 L342.0,1117.8 L346.8,1117.3 L351.5,1116.7 L356.2,1116.1 L361.0,1115.6 L365.8,1115.4 L370.5,1115.7 L375.2,1117.1 L380.0,1124.0 L380.0,1124.0 L375.2,1132.2 L370.5,1135.0 L365.8,1136.9 L361.0,1138.2 L356.2,1139.3 L351.5,1140.1 L346.8,1140.7 L342.0,1141.3 L337.2,1141.6 L332.5,1141.8 L327.8,1141.7 L323.0,1141.5 L318.2,1141.0 L313.5,1140.5 L308.8,1139.8 L304.0,1138.8 L299.2,1137.6 L294.5,1135.8 L289.8,1133.1 L285.0,1125.0Z" fill="#000" fill-opacity="0.324"/>
<path d="M390.0,1119.0 L394.6,1111.8 L399.1,1110.2 L403.6,1109.7 L408.2,1109.7 L412.8,1110.0 L417.3,1110.4 L421.9,1110.9 L426.4,1111.3 L430.9,1111.7 L435.5,1112.0 L440.1,1112.2 L444.6,1112.3 L449.1,1112.4 L453.7,1112.4 L458.2,1112.5 L462.8,1112.7 L467.4,1113.2 L471.9,1114.2 L476.4,1116.3 L481.0,1124.0 L481.0,1124.0 L476.4,1131.7 L471.9,1133.9 L467.4,1135.1 L462.8,1135.8 L458.2,1136.1 L453.7,1136.3 L449.1,1136.4 L444.6,1136.3 L440.1,1136.2 L435.5,1136.0 L430.9,1135.7 L426.4,1135.3 L421.9,1134.9 L417.3,1134.3 L412.8,1133.6 L408.2,1132.8 L403.6,1131.6 L399.1,1129.9 L394.6,1127.2 L390.0,1119.0Z" fill="#000" fill-opacity="0.360"/>
<path d="M490.0,1121.0 L494.4,1114.1 L498.8,1112.3 L503.2,1111.4 L507.6,1111.1 L512.0,1111.0 L516.4,1111.0 L520.8,1111.1 L525.2,1111.1 L529.6,1111.1 L534.0,1111.0 L538.4,1110.8 L542.8,1110.5 L547.2,1110.2 L551.6,1109.8 L556.0,1109.5 L560.4,1109.3 L564.8,1109.3 L569.2,1109.9 L573.6,1111.4 L578.0,1118.0 L578.0,1118.0 L573.6,1125.5 L569.2,1127.9 L564.8,1129.4 L560.4,1130.4 L556.0,1131.1 L551.6,1131.7 L547.2,1132.2 L542.8,1132.5 L538.4,1132.8 L534.0,1133.0 L529.6,1133.1 L525.2,1133.1 L520.8,1133.1 L516.4,1132.9 L512.0,1132.6 L507.6,1132.2 L503.2,1131.5 L498.8,1130.3 L494.4,1128.2 L490.0,1121.0Z" fill="#000" fill-opacity="0.360"/>
<path d="M587.0,1120.0 L591.8,1112.1 L596.6,1109.5 L601.4,1107.9 L606.2,1106.7 L611.0,1105.9 L615.8,1105.2 L620.6,1104.6 L625.4,1104.2 L630.2,1103.8 L635.0,1103.5 L639.8,1103.3 L644.6,1103.2 L649.4,1103.1 L654.2,1103.2 L659.0,1103.4 L663.8,1103.7 L668.6,1104.4 L673.4,1105.5 L678.2,1107.6 L683.0,1115.0 L683.0,1115.0 L678.2,1122.3 L673.4,1124.3 L668.6,1125.3 L663.8,1125.8 L659.0,1126.0 L654.2,1126.1 L649.4,1126.1 L644.6,1126.2 L639.8,1126.3 L635.0,1126.5 L630.2,1126.8 L625.4,1127.2 L620.6,1127.6 L615.8,1128.1 L611.0,1128.5 L606.2,1128.8 L601.4,1128.8 L596.6,1128.3 L591.8,1126.8 L587.0,1120.0Z" fill="#000" fill-opacity="0.360"/>
</g>
<g filter="url(#b2)">
<path d="M85.0,1121.0 L89.2,1117.8 L93.4,1117.5 L97.6,1117.8 L101.8,1118.4 L106.0,1119.2 L110.2,1119.9 L114.4,1120.6 L118.6,1121.2 L122.8,1121.6 L127.0,1121.8 L131.2,1121.7 L135.4,1121.4 L139.6,1120.9 L143.8,1120.3 L148.0,1119.7 L152.2,1119.0 L156.4,1118.5 L160.6,1118.3 L164.8,1118.7 L169.0,1122.0 L169.0,1122.0 L164.8,1126.7 L160.6,1128.5 L156.4,1129.9 L152.2,1131.0 L148.0,1132.0 L143.8,1132.8 L139.6,1133.4 L135.4,1133.9 L131.2,1134.2 L127.0,1134.2 L122.8,1134.1 L118.6,1133.7 L114.4,1133.1 L110.2,1132.4 L106.0,1131.5 L101.8,1130.4 L97.6,1129.2 L93.4,1127.7 L89.2,1125.8 L85.0,1121.0Z" fill="#111" fill-opacity="1"/>
<path d="M187.0,1123.0 L191.3,1119.8 L195.6,1119.5 L199.9,1119.8 L204.2,1120.4 L208.5,1121.1 L212.8,1121.8 L217.1,1122.5 L221.4,1123.1 L225.7,1123.5 L230.0,1123.8 L234.3,1123.7 L238.6,1123.5 L242.9,1123.1 L247.2,1122.6 L251.5,1122.1 L255.8,1121.6 L260.1,1121.2 L264.4,1121.1 L268.7,1121.6 L273.0,1125.0 L273.0,1125.0 L268.7,1129.6 L264.4,1131.3 L260.1,1132.6 L255.8,1133.6 L251.5,1134.4 L247.2,1135.1 L242.9,1135.6 L238.6,1136.0 L234.3,1136.2 L230.0,1136.2 L225.7,1136.0 L221.4,1135.6 L217.1,1135.0 L212.8,1134.3 L208.5,1133.4 L204.2,1132.4 L199.9,1131.2 L195.6,1129.7 L191.3,1127.8 L187.0,1123.0Z" fill="#111" fill-opacity="1"/>
<path d="M290.0,1125.0 L294.2,1121.7 L298.5,1121.3 L302.8,1121.4 L307.0,1121.8 L311.2,1122.3 L315.5,1122.8 L319.8,1123.3 L324.0,1123.7 L328.2,1123.9 L332.5,1124.0 L336.8,1123.8 L341.0,1123.5 L345.2,1123.0 L349.5,1122.4 L353.8,1121.8 L358.0,1121.2 L362.2,1120.7 L366.5,1120.5 L370.8,1120.8 L375.0,1124.0 L375.0,1124.0 L370.8,1128.5 L366.5,1130.3 L362.2,1131.6 L358.0,1132.7 L353.8,1133.6 L349.5,1134.4 L345.2,1135.0 L341.0,1135.5 L336.8,1135.8 L332.5,1136.0 L328.2,1135.9 L324.0,1135.7 L319.8,1135.3 L315.5,1134.8 L311.2,1134.1 L307.0,1133.3 L302.8,1132.3 L298.5,1131.1 L294.2,1129.4 L290.0,1125.0Z" fill="#222" fill-opacity="0.9"/>
<path d="M395.0,1119.0 L399.1,1115.5 L403.1,1115.0 L407.1,1115.0 L411.2,1115.2 L415.2,1115.7 L419.3,1116.1 L423.4,1116.6 L427.4,1117.1 L431.4,1117.5 L435.5,1117.8 L439.6,1118.0 L443.6,1118.1 L447.6,1118.1 L451.7,1118.1 L455.8,1118.2 L459.8,1118.2 L463.9,1118.5 L467.9,1119.0 L471.9,1120.0 L476.0,1124.0 L476.0,1124.0 L471.9,1128.0 L467.9,1129.2 L463.9,1129.9 L459.8,1130.2 L455.8,1130.5 L451.7,1130.6 L447.6,1130.6 L443.6,1130.6 L439.6,1130.5 L435.5,1130.2 L431.4,1130.0 L427.4,1129.6 L423.4,1129.1 L419.3,1128.6 L415.2,1128.0 L411.2,1127.2 L407.1,1126.4 L403.1,1125.2 L399.1,1123.5 L395.0,1119.0Z" fill="#111" fill-opacity="1"/>
<path d="M495.0,1121.0 L498.9,1117.8 L502.8,1117.0 L506.7,1116.7 L510.6,1116.6 L514.5,1116.6 L518.4,1116.7 L522.3,1116.8 L526.2,1116.9 L530.1,1116.9 L534.0,1116.8 L537.9,1116.6 L541.8,1116.3 L545.7,1115.9 L549.6,1115.5 L553.5,1115.1 L557.4,1114.8 L561.3,1114.6 L565.2,1114.6 L569.1,1115.1 L573.0,1118.0 L573.0,1118.0 L569.1,1121.8 L565.2,1123.2 L561.3,1124.1 L557.4,1124.9 L553.5,1125.5 L549.6,1126.0 L545.7,1126.4 L541.8,1126.8 L537.9,1127.1 L534.0,1127.2 L530.1,1127.4 L526.2,1127.4 L522.3,1127.3 L518.4,1127.2 L514.5,1127.0 L510.6,1126.7 L506.7,1126.2 L502.8,1125.6 L498.9,1124.5 L495.0,1121.0Z" fill="#111" fill-opacity="1"/>
<path d="M592.0,1120.0 L596.3,1115.8 L600.6,1114.2 L604.9,1113.1 L609.2,1112.2 L613.5,1111.5 L617.8,1110.9 L622.1,1110.4 L626.4,1109.9 L630.7,1109.5 L635.0,1109.2 L639.3,1109.0 L643.6,1108.9 L647.9,1108.9 L652.2,1108.9 L656.5,1109.0 L660.8,1109.2 L665.1,1109.6 L669.4,1110.2 L673.7,1111.3 L678.0,1115.0 L678.0,1115.0 L673.7,1118.7 L669.4,1119.6 L665.1,1120.1 L660.8,1120.3 L656.5,1120.3 L652.2,1120.4 L647.9,1120.4 L643.6,1120.4 L639.3,1120.5 L635.0,1120.8 L630.7,1121.0 L626.4,1121.4 L622.1,1121.9 L617.8,1122.4 L613.5,1122.8 L609.2,1123.3 L604.9,1123.6 L600.6,1123.6 L596.3,1123.2 L592.0,1120.0Z" fill="#111" fill-opacity="1"/>
</g>
</g>
<rect x="75.9" y="1087.4" width="614.7" height="70.7" fill="none" stroke="#000" stroke-width="2.8"/>
<text transform="translate(931.5,522) scale(1,1.07)" font-size="43" text-anchor="start" font-weight="bold" >D</text>
<text transform="translate(1126,547.5) scale(1,1.035)" font-size="27" text-anchor="middle" stroke="#000" stroke-width="0.25" >Con</text>
<text transform="translate(1446.5,547.5) scale(1,1.035)" font-size="27" text-anchor="middle" stroke="#000" stroke-width="0.25" >CCCP</text>
<line x1="1020" y1="560" x2="1312.5" y2="560" stroke="#000" stroke-width="3.5" stroke-linecap="butt"/>
<line x1="1332" y1="560" x2="1625.75" y2="560" stroke="#000" stroke-width="3.5" stroke-linecap="butt"/>
<text transform="translate(1062.25,598) scale(1,1.035)" font-size="27" text-anchor="middle" stroke="#000" stroke-width="0.25" >WT</text>
<text transform="translate(1165,598) scale(1,1.035)" font-size="27" text-anchor="middle" stroke="#000" stroke-width="0.25" >KO1</text>
<text transform="translate(1270.25,598) scale(1,1.035)" font-size="27" text-anchor="middle" stroke="#000" stroke-width="0.25" >KO2</text>
<text transform="translate(1375.25,598) scale(1,1.035)" font-size="27" text-anchor="middle" stroke="#000" stroke-width="0.25" >WT</text>
<text transform="translate(1477.75,598) scale(1,1.035)" font-size="27" text-anchor="middle" stroke="#000" stroke-width="0.25" >KO1</text>
<text transform="translate(1582.75,598) scale(1,1.035)" font-size="27" text-anchor="middle" stroke="#000" stroke-width="0.25" >KO2</text>
<text transform="translate(989.5,665.5) scale(1,1.035)" font-size="27" text-anchor="end" stroke="#000" stroke-width="0.25" >15-</text>
<text transform="translate(989.5,714.5) scale(1,1.035)" font-size="27" text-anchor="end" stroke="#000" stroke-width="0.25" >25-</text>
<text transform="translate(989.5,802.4) scale(1,1.035)" font-size="27" text-anchor="end" stroke="#000" stroke-width="0.25" >25-</text>
<text transform="translate(989.5,989.7) scale(1,1.035)" font-size="27" text-anchor="end" stroke="#000" stroke-width="0.25" >15-</text>
<text transform="translate(989.5,1020) scale(1,1.035)" font-size="27" text-anchor="end" stroke="#000" stroke-width="0.25" >40-</text>
<text transform="translate(989.5,1147.5) scale(1,1.035)" font-size="27" text-anchor="end" stroke="#000" stroke-width="0.25" >55-</text>
<text transform="translate(946,1196) scale(1,1.035)" font-size="26.3" text-anchor="start" stroke="#000" stroke-width="0.25" >kDa</text>
<text transform="translate(1727,660.5) scale(1,1.035)" font-size="27" text-anchor="middle" stroke="#000" stroke-width="0.25" >TOM20</text>
<text transform="translate(1727,749) scale(1,1.035)" font-size="27" text-anchor="middle" stroke="#000" stroke-width="0.25" >TIM23</text>
<text transform="translate(1727,828.5) scale(1,1.035)" font-size="27" text-anchor="middle" stroke="#000" stroke-width="0.25" >COXIV</text>
<text transform="translate(1727,941.5) scale(1,1.035)" font-size="27" text-anchor="middle" stroke="#000" stroke-width="0.25" >LC3A/B</text>
<text transform="translate(1727,1045) scale(1,1.035)" font-size="27" text-anchor="middle" stroke="#000" stroke-width="0.25" >TRABD</text>
<text transform="translate(1727,1119) scale(1,1.035)" font-size="27" text-anchor="middle" stroke="#000" stroke-width="0.25" >HSP60</text>
<text transform="translate(1143.5,1218.5) scale(1,1.07)" font-size="33.5" stroke="#000" stroke-width="0.25" textLength="324" lengthAdjust="spacingAndGlyphs">( Crude Mitochondria)</text>
<clipPath id="c7"><rect x="996.25" y="607.5" width="652.25" height="86.0"/></clipPath>
<g clip-path="url(#c7)">
<rect x="996.25" y="607.5" width="652.25" height="86.0" fill="#f6f6f6"/>

<g filter="url(#b6)">
<path d="M1017.0,652.0 L1022.1,642.1 L1027.2,639.5 L1032.3,638.3 L1037.4,637.7 L1042.5,637.6 L1047.6,637.6 L1052.7,637.7 L1057.8,637.9 L1062.9,638.1 L1068.0,638.2 L1073.1,638.4 L1078.2,638.5 L1083.3,638.6 L1088.4,638.8 L1093.5,639.1 L1098.6,639.5 L1103.7,640.4 L1108.8,641.9 L1113.9,644.8 L1119.0,655.0 L1119.0,655.0 L1113.9,665.0 L1108.8,667.7 L1103.7,669.1 L1098.6,669.8 L1093.5,670.1 L1088.4,670.1 L1083.3,670.1 L1078.2,670.0 L1073.1,669.9 L1068.0,669.8 L1062.9,669.6 L1057.8,669.4 L1052.7,669.2 L1047.6,668.9 L1042.5,668.6 L1037.4,668.0 L1032.3,667.0 L1027.2,665.3 L1022.1,662.3 L1017.0,652.0Z" fill="#000" fill-opacity="0.360"/>
<path d="M1123.0,655.0 L1127.8,646.2 L1132.5,643.8 L1137.2,642.6 L1142.0,642.1 L1146.8,641.9 L1151.5,641.9 L1156.2,641.9 L1161.0,642.0 L1165.8,642.0 L1170.5,642.0 L1175.2,641.9 L1180.0,641.8 L1184.8,641.6 L1189.5,641.5 L1194.2,641.4 L1199.0,641.5 L1203.8,641.9 L1208.5,643.0 L1213.2,645.3 L1218.0,654.0 L1218.0,654.0 L1213.2,663.2 L1208.5,665.9 L1203.8,667.5 L1199.0,668.4 L1194.2,669.0 L1189.5,669.3 L1184.8,669.6 L1180.0,669.8 L1175.2,669.9 L1170.5,670.0 L1165.8,670.0 L1161.0,670.0 L1156.2,669.9 L1151.5,669.7 L1146.8,669.5 L1142.0,669.0 L1137.2,668.2 L1132.5,666.7 L1127.8,664.1 L1123.0,655.0Z" fill="#000" fill-opacity="0.360"/>
<path d="M1223.0,654.0 L1227.8,644.9 L1232.5,642.3 L1237.2,640.9 L1242.0,640.2 L1246.8,639.7 L1251.5,639.5 L1256.2,639.3 L1261.0,639.2 L1265.8,639.1 L1270.5,639.0 L1275.2,638.9 L1280.0,638.8 L1284.8,638.7 L1289.5,638.7 L1294.2,638.7 L1299.0,639.0 L1303.8,639.5 L1308.5,640.7 L1313.2,643.1 L1318.0,652.0 L1318.0,652.0 L1313.2,661.1 L1308.5,663.7 L1303.8,665.1 L1299.0,665.8 L1294.2,666.3 L1289.5,666.5 L1284.8,666.7 L1280.0,666.8 L1275.2,666.9 L1270.5,667.0 L1265.8,667.1 L1261.0,667.2 L1256.2,667.3 L1251.5,667.3 L1246.8,667.3 L1242.0,667.0 L1237.2,666.5 L1232.5,665.3 L1227.8,662.9 L1223.0,654.0Z" fill="#000" fill-opacity="0.360"/>
<path d="M1328.0,652.0 L1332.8,641.6 L1337.7,638.5 L1342.5,636.8 L1347.4,635.8 L1352.2,635.2 L1357.1,634.8 L1362.0,634.5 L1366.8,634.3 L1371.7,634.2 L1376.5,634.0 L1381.3,633.9 L1386.2,633.7 L1391.0,633.6 L1395.9,633.6 L1400.8,633.7 L1405.6,634.0 L1410.5,634.7 L1415.3,636.1 L1420.2,638.9 L1425.0,649.0 L1425.0,649.0 L1420.2,659.3 L1415.3,662.3 L1410.5,663.9 L1405.6,664.7 L1400.8,665.2 L1395.9,665.4 L1391.0,665.6 L1386.2,665.7 L1381.3,665.9 L1376.5,666.0 L1371.7,666.2 L1366.8,666.3 L1362.0,666.5 L1357.1,666.6 L1352.2,666.7 L1347.4,666.5 L1342.5,666.0 L1337.7,664.7 L1332.8,662.0 L1328.0,652.0Z" fill="#000" fill-opacity="0.360"/>
<path d="M1438.0,659.0 L1442.0,648.9 L1446.0,646.7 L1450.0,645.7 L1454.0,645.0 L1458.0,644.0 L1462.0,642.6 L1466.0,640.7 L1470.0,638.6 L1474.0,636.7 L1478.0,635.0 L1482.0,633.7 L1486.0,632.5 L1490.0,631.4 L1494.0,630.6 L1498.0,630.0 L1502.0,629.8 L1506.0,630.0 L1510.0,630.9 L1514.0,633.1 L1518.0,643.0 L1518.0,643.0 L1514.0,652.7 L1510.0,654.6 L1506.0,655.3 L1502.0,655.6 L1498.0,656.0 L1494.0,656.6 L1490.0,657.4 L1486.0,658.5 L1482.0,659.7 L1478.0,661.0 L1474.0,662.7 L1470.0,664.6 L1466.0,666.7 L1462.0,668.6 L1458.0,670.0 L1454.0,670.7 L1450.0,670.9 L1446.0,670.4 L1442.0,668.5 L1438.0,659.0Z" fill="#000" fill-opacity="0.360"/>
<path d="M1543.0,644.0 L1547.5,637.1 L1552.1,635.2 L1556.7,634.3 L1561.2,633.8 L1565.8,633.7 L1570.3,633.7 L1574.8,633.7 L1579.4,633.8 L1584.0,633.9 L1588.5,634.0 L1593.0,634.1 L1597.6,634.2 L1602.2,634.3 L1606.7,634.5 L1611.2,634.7 L1615.8,635.0 L1620.3,635.7 L1624.9,636.8 L1629.5,638.9 L1634.0,646.0 L1634.0,646.0 L1629.5,652.9 L1624.9,654.8 L1620.3,655.7 L1615.8,656.2 L1611.2,656.3 L1606.7,656.3 L1602.2,656.3 L1597.6,656.2 L1593.0,656.1 L1588.5,656.0 L1584.0,655.9 L1579.4,655.8 L1574.8,655.7 L1570.3,655.5 L1565.8,655.3 L1561.2,655.0 L1556.7,654.3 L1552.1,653.2 L1547.5,651.1 L1543.0,644.0Z" fill="#000" fill-opacity="0.331"/>
</g>
<g filter="url(#b2)">
<path d="M1022.0,652.0 L1026.6,646.3 L1031.2,644.9 L1035.8,644.3 L1040.4,644.1 L1045.0,644.1 L1049.6,644.2 L1054.2,644.3 L1058.8,644.5 L1063.4,644.7 L1068.0,644.9 L1072.6,645.0 L1077.2,645.1 L1081.8,645.2 L1086.4,645.4 L1091.0,645.6 L1095.6,645.9 L1100.2,646.4 L1104.8,647.3 L1109.4,649.0 L1114.0,655.0 L1114.0,655.0 L1109.4,660.8 L1104.8,662.3 L1100.2,663.1 L1095.6,663.4 L1091.0,663.6 L1086.4,663.6 L1081.8,663.5 L1077.2,663.4 L1072.6,663.3 L1068.0,663.1 L1063.4,663.0 L1058.8,662.8 L1054.2,662.6 L1049.6,662.4 L1045.0,662.1 L1040.4,661.6 L1035.8,661.0 L1031.2,659.9 L1026.6,658.1 L1022.0,652.0Z" fill="#000" fill-opacity="1"/>
<path d="M1128.0,655.0 L1132.2,650.4 L1136.5,649.2 L1140.8,648.6 L1145.0,648.4 L1149.2,648.4 L1153.5,648.5 L1157.8,648.5 L1162.0,648.6 L1166.2,648.6 L1170.5,648.6 L1174.8,648.5 L1179.0,648.4 L1183.2,648.2 L1187.5,648.1 L1191.8,647.9 L1196.0,647.8 L1200.2,647.9 L1204.5,648.4 L1208.8,649.5 L1213.0,654.0 L1213.0,654.0 L1208.8,658.9 L1204.5,660.5 L1200.2,661.4 L1196.0,662.1 L1191.8,662.5 L1187.5,662.8 L1183.2,663.0 L1179.0,663.2 L1174.8,663.3 L1170.5,663.4 L1166.2,663.4 L1162.0,663.4 L1157.8,663.3 L1153.5,663.2 L1149.2,663.0 L1145.0,662.7 L1140.8,662.1 L1136.5,661.3 L1132.2,659.8 L1128.0,655.0Z" fill="#000" fill-opacity="1"/>
<path d="M1228.0,654.0 L1232.2,649.2 L1236.5,647.7 L1240.8,647.0 L1245.0,646.5 L1249.2,646.2 L1253.5,646.0 L1257.8,645.9 L1262.0,645.8 L1266.2,645.7 L1270.5,645.6 L1274.8,645.5 L1279.0,645.4 L1283.2,645.3 L1287.5,645.2 L1291.8,645.2 L1296.0,645.3 L1300.2,645.6 L1304.5,646.1 L1308.8,647.4 L1313.0,652.0 L1313.0,652.0 L1308.8,656.8 L1304.5,658.3 L1300.2,659.0 L1296.0,659.5 L1291.8,659.8 L1287.5,660.0 L1283.2,660.1 L1279.0,660.2 L1274.8,660.3 L1270.5,660.4 L1266.2,660.5 L1262.0,660.6 L1257.8,660.7 L1253.5,660.8 L1249.2,660.8 L1245.0,660.7 L1240.8,660.4 L1236.5,659.9 L1232.2,658.6 L1228.0,654.0Z" fill="#000" fill-opacity="1"/>
<path d="M1333.0,652.0 L1337.3,645.8 L1341.7,643.9 L1346.0,642.8 L1350.4,642.1 L1354.8,641.7 L1359.1,641.4 L1363.5,641.1 L1367.8,640.9 L1372.2,640.8 L1376.5,640.6 L1380.8,640.5 L1385.2,640.3 L1389.5,640.2 L1393.9,640.2 L1398.2,640.2 L1402.6,640.3 L1407.0,640.7 L1411.3,641.5 L1415.7,643.1 L1420.0,649.0 L1420.0,649.0 L1415.7,655.1 L1411.3,656.9 L1407.0,657.8 L1402.6,658.4 L1398.2,658.7 L1393.9,658.9 L1389.5,659.0 L1385.2,659.1 L1380.8,659.3 L1376.5,659.4 L1372.2,659.6 L1367.8,659.7 L1363.5,659.9 L1359.1,660.1 L1354.8,660.2 L1350.4,660.2 L1346.0,659.9 L1341.7,659.3 L1337.3,657.8 L1333.0,652.0Z" fill="#000" fill-opacity="1"/>
<path d="M1443.0,659.0 L1446.5,653.9 L1450.0,652.7 L1453.5,652.1 L1457.0,651.5 L1460.5,650.6 L1464.0,649.2 L1467.5,647.3 L1471.0,645.2 L1474.5,643.3 L1478.0,641.6 L1481.5,640.3 L1485.0,639.1 L1488.5,638.0 L1492.0,637.2 L1495.5,636.6 L1499.0,636.3 L1502.5,636.4 L1506.0,636.9 L1509.5,638.1 L1513.0,643.0 L1513.0,643.0 L1509.5,647.7 L1506.0,648.6 L1502.5,648.9 L1499.0,649.0 L1495.5,649.4 L1492.0,650.0 L1488.5,650.8 L1485.0,651.9 L1481.5,653.1 L1478.0,654.4 L1474.5,656.1 L1471.0,658.0 L1467.5,660.1 L1464.0,662.0 L1460.5,663.4 L1457.0,664.2 L1453.5,664.5 L1450.0,664.4 L1446.5,663.5 L1443.0,659.0Z" fill="#000" fill-opacity="1"/>
<path d="M1548.0,644.0 L1552.0,640.7 L1556.1,639.9 L1560.2,639.5 L1564.2,639.4 L1568.2,639.3 L1572.3,639.4 L1576.3,639.5 L1580.4,639.6 L1584.5,639.7 L1588.5,639.8 L1592.5,639.9 L1596.6,640.0 L1600.7,640.1 L1604.7,640.2 L1608.8,640.3 L1612.8,640.6 L1616.8,640.9 L1620.9,641.5 L1625.0,642.5 L1629.0,646.0 L1629.0,646.0 L1625.0,649.3 L1620.9,650.1 L1616.8,650.5 L1612.8,650.6 L1608.8,650.7 L1604.7,650.6 L1600.7,650.5 L1596.6,650.4 L1592.5,650.3 L1588.5,650.2 L1584.5,650.1 L1580.4,650.0 L1576.3,649.9 L1572.3,649.8 L1568.2,649.7 L1564.2,649.4 L1560.2,649.1 L1556.1,648.5 L1552.0,647.5 L1548.0,644.0Z" fill="#111" fill-opacity="0.92"/>
</g>
</g>
<rect x="997.65" y="608.9" width="649.45" height="83.2" fill="none" stroke="#000" stroke-width="2.8"/>
<linearGradient id="gT" x1="0" y1="0" x2="1" y2="1"><stop offset="0" stop-color="#f0f0f0"/><stop offset="0.55" stop-color="#dcdcdc"/><stop offset="1" stop-color="#a2a2a2"/></linearGradient>
<clipPath id="c8"><rect x="996.25" y="697.5" width="652.25" height="79.0"/></clipPath>
<g clip-path="url(#c8)">
<rect x="996.25" y="697.5" width="652.25" height="79.0" fill="url(#gT)"/>

<g filter="url(#b6)">
<path d="M1007.0,734.0 L1011.8,725.8 L1016.6,723.5 L1021.4,722.4 L1026.2,721.9 L1031.0,721.7 L1035.8,721.7 L1040.6,721.7 L1045.4,721.8 L1050.2,721.9 L1055.0,722.0 L1059.8,722.1 L1064.6,722.2 L1069.4,722.3 L1074.2,722.5 L1079.0,722.7 L1083.8,723.1 L1088.6,723.8 L1093.4,725.1 L1098.2,727.6 L1103.0,736.0 L1103.0,736.0 L1098.2,744.2 L1093.4,746.5 L1088.6,747.6 L1083.8,748.1 L1079.0,748.3 L1074.2,748.3 L1069.4,748.3 L1064.6,748.2 L1059.8,748.1 L1055.0,748.0 L1050.2,747.9 L1045.4,747.8 L1040.6,747.7 L1035.8,747.5 L1031.0,747.3 L1026.2,746.9 L1021.4,746.2 L1016.6,744.9 L1011.8,742.4 L1007.0,734.0Z" fill="#000" fill-opacity="0.360"/>
<path d="M1119.0,737.0 L1123.8,728.5 L1128.5,726.2 L1133.2,725.0 L1138.0,724.5 L1142.8,724.3 L1147.5,724.3 L1152.2,724.4 L1157.0,724.4 L1161.8,724.5 L1166.5,724.5 L1171.2,724.5 L1176.0,724.4 L1180.8,724.4 L1185.5,724.3 L1190.2,724.3 L1195.0,724.5 L1199.8,725.0 L1204.5,726.2 L1209.2,728.5 L1214.0,737.0 L1214.0,737.0 L1209.2,745.7 L1204.5,748.3 L1199.8,749.7 L1195.0,750.5 L1190.2,750.9 L1185.5,751.2 L1180.8,751.3 L1176.0,751.4 L1171.2,751.5 L1166.5,751.5 L1161.8,751.5 L1157.0,751.4 L1152.2,751.3 L1147.5,751.2 L1142.8,750.9 L1138.0,750.5 L1133.2,749.7 L1128.5,748.3 L1123.8,745.7 L1119.0,737.0Z" fill="#000" fill-opacity="0.360"/>
<path d="M1185.0,737.0 L1186.5,730.2 L1188.0,727.7 L1189.5,725.9 L1191.0,724.6 L1192.5,723.6 L1194.0,722.8 L1195.5,722.2 L1197.0,721.8 L1198.5,721.6 L1200.0,721.5 L1201.5,721.6 L1203.0,721.8 L1204.5,722.2 L1206.0,722.8 L1207.5,723.6 L1209.0,724.6 L1210.5,725.9 L1212.0,727.7 L1213.5,730.2 L1215.0,737.0 L1215.0,737.0 L1213.5,743.8 L1212.0,746.3 L1210.5,748.1 L1209.0,749.4 L1207.5,750.4 L1206.0,751.2 L1204.5,751.8 L1203.0,752.2 L1201.5,752.4 L1200.0,752.5 L1198.5,752.4 L1197.0,752.2 L1195.5,751.8 L1194.0,751.2 L1192.5,750.4 L1191.0,749.4 L1189.5,748.1 L1188.0,746.3 L1186.5,743.8 L1185.0,737.0Z" fill="#000" fill-opacity="0.360"/>
<path d="M1185.0,718.0 L1185.8,707.1 L1186.6,703.0 L1187.4,700.1 L1188.2,698.0 L1189.0,696.3 L1189.8,695.1 L1190.6,694.2 L1191.4,693.5 L1192.2,693.1 L1193.0,693.0 L1193.8,693.1 L1194.6,693.5 L1195.4,694.2 L1196.2,695.1 L1197.0,696.3 L1197.8,698.0 L1198.6,700.1 L1199.4,703.0 L1200.2,707.1 L1201.0,718.0 L1201.0,718.0 L1200.2,728.9 L1199.4,733.0 L1198.6,735.9 L1197.8,738.0 L1197.0,739.7 L1196.2,740.9 L1195.4,741.8 L1194.6,742.5 L1193.8,742.9 L1193.0,743.0 L1192.2,742.9 L1191.4,742.5 L1190.6,741.8 L1189.8,740.9 L1189.0,739.7 L1188.2,738.0 L1187.4,735.9 L1186.6,733.0 L1185.8,728.9 L1185.0,718.0Z" fill="#000" fill-opacity="0.042"/>
<path d="M1224.0,737.0 L1228.6,728.5 L1233.2,726.1 L1237.8,724.9 L1242.4,724.3 L1247.0,724.0 L1251.6,723.8 L1256.2,723.8 L1260.8,723.8 L1265.4,723.8 L1270.0,723.8 L1274.6,723.8 L1279.2,723.8 L1283.8,723.8 L1288.4,723.8 L1293.0,724.0 L1297.6,724.3 L1302.2,724.9 L1306.8,726.1 L1311.4,728.5 L1316.0,737.0 L1316.0,737.0 L1311.4,745.5 L1306.8,747.9 L1302.2,749.1 L1297.6,749.7 L1293.0,750.0 L1288.4,750.2 L1283.8,750.2 L1279.2,750.2 L1274.6,750.2 L1270.0,750.2 L1265.4,750.2 L1260.8,750.2 L1256.2,750.2 L1251.6,750.2 L1247.0,750.0 L1242.4,749.7 L1237.8,749.1 L1233.2,747.9 L1228.6,745.5 L1224.0,737.0Z" fill="#000" fill-opacity="0.360"/>
<path d="M1331.0,737.0 L1335.5,728.8 L1339.9,726.5 L1344.3,725.4 L1348.8,724.8 L1353.2,724.5 L1357.7,724.3 L1362.2,724.3 L1366.6,724.3 L1371.0,724.3 L1375.5,724.2 L1380.0,724.3 L1384.4,724.3 L1388.8,724.3 L1393.3,724.3 L1397.8,724.5 L1402.2,724.8 L1406.7,725.4 L1411.1,726.5 L1415.5,728.8 L1420.0,737.0 L1420.0,737.0 L1415.5,745.2 L1411.1,747.5 L1406.7,748.6 L1402.2,749.2 L1397.8,749.5 L1393.3,749.7 L1388.8,749.7 L1384.4,749.7 L1380.0,749.7 L1375.5,749.8 L1371.0,749.7 L1366.6,749.7 L1362.2,749.7 L1357.7,749.7 L1353.2,749.5 L1348.8,749.2 L1344.3,748.6 L1339.9,747.5 L1335.5,745.2 L1331.0,737.0Z" fill="#000" fill-opacity="0.360"/>
<path d="M1440.0,743.0 L1442.0,737.4 L1443.9,735.6 L1445.8,734.5 L1447.8,733.9 L1449.8,733.5 L1451.7,733.3 L1453.7,733.2 L1455.6,733.2 L1457.5,733.4 L1459.5,733.5 L1461.5,733.7 L1463.4,733.8 L1465.3,734.1 L1467.3,734.5 L1469.2,735.0 L1471.2,735.7 L1473.2,736.6 L1475.1,738.0 L1477.0,740.1 L1479.0,746.0 L1479.0,746.0 L1477.0,751.6 L1475.1,753.4 L1473.2,754.5 L1471.2,755.1 L1469.2,755.5 L1467.3,755.7 L1465.3,755.8 L1463.4,755.8 L1461.5,755.6 L1459.5,755.5 L1457.5,755.3 L1455.6,755.2 L1453.7,754.9 L1451.7,754.5 L1449.8,754.0 L1447.8,753.3 L1445.8,752.4 L1443.9,751.0 L1442.0,748.9 L1440.0,743.0Z" fill="#000" fill-opacity="0.360"/>
<path d="M1457.0,745.0 L1460.3,737.2 L1463.6,734.1 L1466.9,731.8 L1470.2,730.1 L1473.5,728.6 L1476.8,727.4 L1480.1,726.5 L1483.4,725.6 L1486.7,724.9 L1490.0,724.3 L1493.3,723.8 L1496.6,723.3 L1499.9,722.9 L1503.2,722.6 L1506.5,722.5 L1509.8,722.5 L1513.1,722.9 L1516.4,723.8 L1519.7,725.6 L1523.0,732.0 L1523.0,732.0 L1519.7,738.7 L1516.4,740.6 L1513.1,741.6 L1509.8,742.2 L1506.5,742.6 L1503.2,743.0 L1499.9,743.4 L1496.6,743.8 L1493.3,744.3 L1490.0,744.8 L1486.7,745.4 L1483.4,746.1 L1480.1,746.9 L1476.8,747.8 L1473.5,748.8 L1470.2,749.8 L1466.9,750.5 L1463.6,750.9 L1460.3,750.3 L1457.0,745.0Z" fill="#000" fill-opacity="0.084"/>
<path d="M1546.0,734.0 L1550.5,727.1 L1555.1,725.0 L1559.7,723.7 L1564.2,722.9 L1568.8,722.3 L1573.3,721.9 L1577.8,721.6 L1582.4,721.3 L1587.0,721.0 L1591.5,720.8 L1596.0,720.5 L1600.6,720.3 L1605.2,720.1 L1609.7,719.9 L1614.2,719.8 L1618.8,719.9 L1623.3,720.2 L1627.9,721.0 L1632.5,722.6 L1637.0,729.0 L1637.0,729.0 L1632.5,735.8 L1627.9,737.8 L1623.3,738.9 L1618.8,739.6 L1614.2,740.0 L1609.7,740.3 L1605.2,740.6 L1600.6,740.8 L1596.0,741.0 L1591.5,741.2 L1587.0,741.5 L1582.4,741.8 L1577.8,742.1 L1573.3,742.3 L1568.8,742.5 L1564.2,742.6 L1559.7,742.4 L1555.1,741.8 L1550.5,740.3 L1546.0,734.0Z" fill="#000" fill-opacity="0.090"/>
<path d="M1595.0,730.0 L1597.1,723.9 L1599.2,722.1 L1601.3,721.2 L1603.4,720.7 L1605.5,720.4 L1607.6,720.2 L1609.7,720.2 L1611.8,720.1 L1613.9,720.1 L1616.0,720.0 L1618.1,720.0 L1620.2,719.9 L1622.3,719.9 L1624.4,719.8 L1626.5,719.9 L1628.6,720.1 L1630.7,720.5 L1632.8,721.3 L1634.9,723.0 L1637.0,729.0 L1637.0,729.0 L1634.9,735.1 L1632.8,736.9 L1630.7,737.8 L1628.6,738.3 L1626.5,738.6 L1624.4,738.8 L1622.3,738.8 L1620.2,738.9 L1618.1,738.9 L1616.0,739.0 L1613.9,739.0 L1611.8,739.1 L1609.7,739.1 L1607.6,739.2 L1605.5,739.1 L1603.4,738.9 L1601.3,738.5 L1599.2,737.7 L1597.1,736.0 L1595.0,730.0Z" fill="#000" fill-opacity="0.060"/>
</g>
<g filter="url(#b2)">
<path d="M1012.0,734.0 L1016.3,730.0 L1020.6,729.0 L1024.9,728.5 L1029.2,728.3 L1033.5,728.2 L1037.8,728.2 L1042.1,728.3 L1046.4,728.4 L1050.7,728.5 L1055.0,728.6 L1059.3,728.7 L1063.6,728.8 L1067.9,728.9 L1072.2,729.0 L1076.5,729.2 L1080.8,729.5 L1085.1,729.9 L1089.4,730.6 L1093.7,731.8 L1098.0,736.0 L1098.0,736.0 L1093.7,740.0 L1089.4,741.0 L1085.1,741.5 L1080.8,741.7 L1076.5,741.8 L1072.2,741.8 L1067.9,741.7 L1063.6,741.6 L1059.3,741.5 L1055.0,741.4 L1050.7,741.3 L1046.4,741.2 L1042.1,741.1 L1037.8,741.0 L1033.5,740.8 L1029.2,740.5 L1024.9,740.1 L1020.6,739.4 L1016.3,738.2 L1012.0,734.0Z" fill="#000" fill-opacity="1"/>
<path d="M1124.0,737.0 L1128.2,732.7 L1132.5,731.6 L1136.8,731.1 L1141.0,730.9 L1145.2,730.8 L1149.5,730.9 L1153.8,731.0 L1158.0,731.0 L1162.2,731.1 L1166.5,731.1 L1170.8,731.1 L1175.0,731.0 L1179.2,731.0 L1183.5,730.9 L1187.8,730.8 L1192.0,730.9 L1196.2,731.1 L1200.5,731.6 L1204.8,732.7 L1209.0,737.0 L1209.0,737.0 L1204.8,741.5 L1200.5,742.9 L1196.2,743.7 L1192.0,744.1 L1187.8,744.4 L1183.5,744.6 L1179.2,744.7 L1175.0,744.8 L1170.8,744.9 L1166.5,744.9 L1162.2,744.9 L1158.0,744.8 L1153.8,744.7 L1149.5,744.6 L1145.2,744.4 L1141.0,744.1 L1136.8,743.7 L1132.5,742.9 L1128.2,741.5 L1124.0,737.0Z" fill="#000" fill-opacity="1"/>
<path d="M1190.0,737.0 L1191.0,733.1 L1192.0,731.7 L1193.0,730.6 L1194.0,729.9 L1195.0,729.3 L1196.0,728.8 L1197.0,728.5 L1198.0,728.3 L1199.0,728.1 L1200.0,728.1 L1201.0,728.1 L1202.0,728.3 L1203.0,728.5 L1204.0,728.8 L1205.0,729.3 L1206.0,729.9 L1207.0,730.6 L1208.0,731.7 L1209.0,733.1 L1210.0,737.0 L1210.0,737.0 L1209.0,740.9 L1208.0,742.3 L1207.0,743.4 L1206.0,744.1 L1205.0,744.7 L1204.0,745.2 L1203.0,745.5 L1202.0,745.7 L1201.0,745.9 L1200.0,745.9 L1199.0,745.9 L1198.0,745.7 L1197.0,745.5 L1196.0,745.2 L1195.0,744.7 L1194.0,744.1 L1193.0,743.4 L1192.0,742.3 L1191.0,740.9 L1190.0,737.0Z" fill="#000" fill-opacity="1"/>
<path d="M1190.0,718.0 L1190.3,710.1 L1190.6,707.1 L1190.9,705.1 L1191.2,703.5 L1191.5,702.3 L1191.8,701.4 L1192.1,700.7 L1192.4,700.3 L1192.7,700.0 L1193.0,699.9 L1193.3,700.0 L1193.6,700.3 L1193.9,700.7 L1194.2,701.4 L1194.5,702.3 L1194.8,703.5 L1195.1,705.1 L1195.4,707.1 L1195.7,710.1 L1196.0,718.0 L1196.0,718.0 L1195.7,725.9 L1195.4,728.9 L1195.1,730.9 L1194.8,732.5 L1194.5,733.7 L1194.2,734.6 L1193.9,735.3 L1193.6,735.7 L1193.3,736.0 L1193.0,736.1 L1192.7,736.0 L1192.4,735.7 L1192.1,735.3 L1191.8,734.6 L1191.5,733.7 L1191.2,732.5 L1190.9,730.9 L1190.6,728.9 L1190.3,725.9 L1190.0,718.0Z" fill="#555" fill-opacity="0.35"/>
<path d="M1229.0,737.0 L1233.1,732.7 L1237.2,731.5 L1241.3,730.9 L1245.4,730.6 L1249.5,730.5 L1253.6,730.4 L1257.7,730.4 L1261.8,730.4 L1265.9,730.4 L1270.0,730.4 L1274.1,730.4 L1278.2,730.4 L1282.3,730.4 L1286.4,730.4 L1290.5,730.5 L1294.6,730.6 L1298.7,730.9 L1302.8,731.5 L1306.9,732.7 L1311.0,737.0 L1311.0,737.0 L1306.9,741.3 L1302.8,742.5 L1298.7,743.1 L1294.6,743.4 L1290.5,743.5 L1286.4,743.6 L1282.3,743.6 L1278.2,743.6 L1274.1,743.6 L1270.0,743.6 L1265.9,743.6 L1261.8,743.6 L1257.7,743.6 L1253.6,743.6 L1249.5,743.5 L1245.4,743.4 L1241.3,743.1 L1237.2,742.5 L1233.1,741.3 L1229.0,737.0Z" fill="#000" fill-opacity="1"/>
<path d="M1336.0,737.0 L1340.0,733.1 L1343.9,732.0 L1347.8,731.4 L1351.8,731.1 L1355.8,730.9 L1359.7,730.9 L1363.7,730.9 L1367.6,730.9 L1371.5,730.9 L1375.5,730.9 L1379.5,730.9 L1383.4,730.9 L1387.3,730.9 L1391.3,730.9 L1395.2,730.9 L1399.2,731.1 L1403.2,731.4 L1407.1,732.0 L1411.0,733.1 L1415.0,737.0 L1415.0,737.0 L1411.0,740.9 L1407.1,742.0 L1403.2,742.6 L1399.2,742.9 L1395.2,743.1 L1391.3,743.1 L1387.3,743.1 L1383.4,743.1 L1379.5,743.1 L1375.5,743.1 L1371.5,743.1 L1367.6,743.1 L1363.7,743.1 L1359.7,743.1 L1355.8,743.1 L1351.8,742.9 L1347.8,742.6 L1343.9,742.0 L1340.0,740.9 L1336.0,737.0Z" fill="#000" fill-opacity="1"/>
<path d="M1445.0,743.0 L1446.5,740.4 L1447.9,739.6 L1449.3,739.2 L1450.8,739.0 L1452.2,738.8 L1453.7,738.8 L1455.2,738.9 L1456.6,739.0 L1458.0,739.1 L1459.5,739.2 L1461.0,739.4 L1462.4,739.6 L1463.8,739.8 L1465.3,740.0 L1466.8,740.3 L1468.2,740.8 L1469.7,741.3 L1471.1,742.0 L1472.5,743.1 L1474.0,746.0 L1474.0,746.0 L1472.5,748.6 L1471.1,749.4 L1469.7,749.8 L1468.2,750.0 L1466.8,750.2 L1465.3,750.2 L1463.8,750.1 L1462.4,750.0 L1461.0,749.9 L1459.5,749.8 L1458.0,749.6 L1456.6,749.4 L1455.2,749.2 L1453.7,749.0 L1452.2,748.7 L1450.8,748.2 L1449.3,747.7 L1447.9,747.0 L1446.5,745.9 L1445.0,743.0Z" fill="#000" fill-opacity="1"/>
<path d="M1462.0,745.0 L1464.8,740.9 L1467.6,738.8 L1470.4,737.1 L1473.2,735.6 L1476.0,734.3 L1478.8,733.2 L1481.6,732.2 L1484.4,731.4 L1487.2,730.7 L1490.0,730.1 L1492.8,729.5 L1495.6,729.0 L1498.4,728.6 L1501.2,728.3 L1504.0,728.1 L1506.8,728.1 L1509.6,728.2 L1512.4,728.5 L1515.2,729.2 L1518.0,732.0 L1518.0,732.0 L1515.2,735.0 L1512.4,735.9 L1509.6,736.4 L1506.8,736.7 L1504.0,737.0 L1501.2,737.3 L1498.4,737.6 L1495.6,738.0 L1492.8,738.5 L1490.0,739.1 L1487.2,739.7 L1484.4,740.4 L1481.6,741.2 L1478.8,742.1 L1476.0,743.1 L1473.2,744.2 L1470.4,745.3 L1467.6,746.2 L1464.8,746.6 L1462.0,745.0Z" fill="#333" fill-opacity="0.7"/>
<path d="M1551.0,734.0 L1555.0,730.8 L1559.1,729.7 L1563.2,729.0 L1567.2,728.4 L1571.2,728.0 L1575.3,727.7 L1579.3,727.3 L1583.4,727.0 L1587.5,726.8 L1591.5,726.5 L1595.5,726.3 L1599.6,726.0 L1603.7,725.8 L1607.7,725.7 L1611.8,725.5 L1615.8,725.4 L1619.8,725.5 L1623.9,725.7 L1628.0,726.3 L1632.0,729.0 L1632.0,729.0 L1628.0,732.1 L1623.9,733.1 L1619.8,733.7 L1615.8,734.1 L1611.8,734.4 L1607.7,734.6 L1603.7,734.8 L1599.6,735.0 L1595.5,735.3 L1591.5,735.5 L1587.5,735.8 L1583.4,736.0 L1579.3,736.3 L1575.3,736.6 L1571.2,736.9 L1567.2,737.1 L1563.2,737.2 L1559.1,737.1 L1555.0,736.6 L1551.0,734.0Z" fill="#333" fill-opacity="0.75"/>
<path d="M1600.0,730.0 L1601.6,727.2 L1603.2,726.4 L1604.8,726.0 L1606.4,725.7 L1608.0,725.6 L1609.6,725.5 L1611.2,725.4 L1612.8,725.4 L1614.4,725.3 L1616.0,725.2 L1617.6,725.2 L1619.2,725.2 L1620.8,725.1 L1622.4,725.1 L1624.0,725.1 L1625.6,725.1 L1627.2,725.3 L1628.8,725.6 L1630.4,726.3 L1632.0,729.0 L1632.0,729.0 L1630.4,731.8 L1628.8,732.6 L1627.2,733.0 L1625.6,733.3 L1624.0,733.4 L1622.4,733.5 L1620.8,733.6 L1619.2,733.6 L1617.6,733.7 L1616.0,733.8 L1614.4,733.8 L1612.8,733.8 L1611.2,733.9 L1609.6,733.9 L1608.0,733.9 L1606.4,733.9 L1604.8,733.7 L1603.2,733.4 L1601.6,732.7 L1600.0,730.0Z" fill="#222" fill-opacity="0.5"/>
</g>
</g>
<rect x="997.65" y="698.9" width="649.45" height="76.2" fill="none" stroke="#000" stroke-width="2.8"/>
<clipPath id="c9"><rect x="997.3" y="781.5" width="649.7" height="87.5"/></clipPath>
<g clip-path="url(#c9)">
<rect x="997.3" y="781.5" width="649.7" height="87.5" fill="#f4f4f4"/>

<g filter="url(#b6)">
<path d="M1008.0,824.0 L1013.5,811.3 L1019.0,807.8 L1024.5,806.0 L1030.0,805.1 L1035.5,804.7 L1041.0,804.6 L1046.5,804.6 L1052.0,804.7 L1057.5,804.8 L1063.0,805.0 L1068.5,805.2 L1074.0,805.5 L1079.5,805.8 L1085.0,806.2 L1090.5,806.7 L1096.0,807.5 L1101.5,808.8 L1107.0,811.0 L1112.5,814.9 L1118.0,828.0 L1118.0,828.0 L1112.5,840.5 L1107.0,843.8 L1101.5,845.3 L1096.0,845.9 L1090.5,846.1 L1085.0,846.0 L1079.5,845.7 L1074.0,845.5 L1068.5,845.2 L1063.0,845.0 L1057.5,844.8 L1052.0,844.7 L1046.5,844.5 L1041.0,844.4 L1035.5,844.1 L1030.0,843.5 L1024.5,842.5 L1019.0,840.6 L1013.5,836.9 L1008.0,824.0Z" fill="#000" fill-opacity="0.360"/>
<path d="M1114.0,826.0 L1119.0,813.6 L1124.0,810.2 L1129.0,808.5 L1134.0,807.6 L1139.0,807.2 L1144.0,807.1 L1149.0,807.2 L1154.0,807.2 L1159.0,807.4 L1164.0,807.5 L1169.0,807.7 L1174.0,807.8 L1179.0,808.1 L1184.0,808.3 L1189.0,808.7 L1194.0,809.4 L1199.0,810.6 L1204.0,812.6 L1209.0,816.3 L1214.0,829.0 L1214.0,829.0 L1209.0,841.3 L1204.0,844.6 L1199.0,846.2 L1194.0,846.9 L1189.0,847.1 L1184.0,847.1 L1179.0,847.0 L1174.0,846.8 L1169.0,846.7 L1164.0,846.5 L1159.0,846.4 L1154.0,846.2 L1149.0,846.1 L1144.0,845.9 L1139.0,845.6 L1134.0,845.1 L1129.0,844.1 L1124.0,842.2 L1119.0,838.6 L1114.0,826.0Z" fill="#000" fill-opacity="0.360"/>
<path d="M1217.0,826.0 L1222.1,814.6 L1227.2,811.4 L1232.3,809.8 L1237.4,808.9 L1242.5,808.5 L1247.6,808.4 L1252.7,808.5 L1257.8,808.8 L1262.9,809.3 L1268.0,810.0 L1273.1,811.0 L1278.2,812.2 L1283.3,813.6 L1288.4,815.2 L1293.5,817.0 L1298.6,819.1 L1303.7,821.7 L1308.8,825.0 L1313.9,829.9 L1319.0,843.0 L1319.0,843.0 L1313.9,853.0 L1308.8,854.6 L1303.7,854.5 L1298.6,853.7 L1293.5,852.4 L1288.4,851.0 L1283.3,849.5 L1278.2,848.2 L1273.1,847.0 L1268.0,846.0 L1262.9,845.3 L1257.8,844.8 L1252.7,844.4 L1247.6,844.2 L1242.5,843.9 L1237.4,843.5 L1232.3,842.6 L1227.2,841.0 L1222.1,837.7 L1217.0,826.0Z" fill="#000" fill-opacity="0.360"/>
<path d="M1319.0,829.0 L1323.8,819.2 L1328.7,816.5 L1333.5,815.1 L1338.4,814.4 L1343.2,814.1 L1348.1,814.0 L1353.0,814.1 L1357.8,814.2 L1362.7,814.3 L1367.5,814.5 L1372.3,814.7 L1377.2,815.0 L1382.0,815.3 L1386.9,815.6 L1391.8,816.1 L1396.6,816.8 L1401.5,817.9 L1406.3,819.7 L1411.2,822.8 L1416.0,833.0 L1416.0,833.0 L1411.2,842.6 L1406.3,845.1 L1401.5,846.2 L1396.6,846.6 L1391.8,846.6 L1386.9,846.5 L1382.0,846.2 L1377.2,846.0 L1372.3,845.7 L1367.5,845.5 L1362.7,845.3 L1357.8,845.2 L1353.0,845.0 L1348.1,844.9 L1343.2,844.6 L1338.4,844.2 L1333.5,843.4 L1328.7,841.9 L1323.8,839.0 L1319.0,829.0Z" fill="#000" fill-opacity="0.360"/>
<path d="M1423.0,834.0 L1427.8,826.4 L1432.6,824.1 L1437.4,822.8 L1442.2,822.0 L1447.0,821.4 L1451.8,821.1 L1456.6,820.8 L1461.4,820.6 L1466.2,820.5 L1471.0,820.5 L1475.8,820.5 L1480.6,820.6 L1485.4,820.8 L1490.2,821.1 L1495.0,821.4 L1499.8,822.0 L1504.6,822.8 L1509.4,824.1 L1514.2,826.4 L1519.0,834.0 L1519.0,834.0 L1514.2,841.1 L1509.4,843.0 L1504.6,843.8 L1499.8,844.1 L1495.0,844.1 L1490.2,844.0 L1485.4,843.8 L1480.6,843.6 L1475.8,843.5 L1471.0,843.5 L1466.2,843.5 L1461.4,843.6 L1456.6,843.8 L1451.8,844.0 L1447.0,844.1 L1442.2,844.1 L1437.4,843.8 L1432.6,843.0 L1427.8,841.1 L1423.0,834.0Z" fill="#000" fill-opacity="0.360"/>
<path d="M1527.0,832.0 L1532.0,824.5 L1537.0,822.4 L1542.0,821.2 L1547.0,820.6 L1552.0,820.2 L1557.0,820.0 L1562.0,819.8 L1567.0,819.7 L1572.0,819.6 L1577.0,819.5 L1582.0,819.4 L1587.0,819.3 L1592.0,819.2 L1597.0,819.2 L1602.0,819.2 L1607.0,819.4 L1612.0,819.8 L1617.0,820.8 L1622.0,822.7 L1627.0,830.0 L1627.0,830.0 L1622.0,837.5 L1617.0,839.6 L1612.0,840.8 L1607.0,841.4 L1602.0,841.8 L1597.0,842.0 L1592.0,842.2 L1587.0,842.3 L1582.0,842.4 L1577.0,842.5 L1572.0,842.6 L1567.0,842.7 L1562.0,842.8 L1557.0,842.8 L1552.0,842.8 L1547.0,842.6 L1542.0,842.2 L1537.0,841.2 L1532.0,839.3 L1527.0,832.0Z" fill="#000" fill-opacity="0.360"/>
</g>
<g filter="url(#b2)">
<path d="M1013.0,824.0 L1018.0,815.7 L1023.0,813.4 L1028.0,812.3 L1033.0,811.7 L1038.0,811.5 L1043.0,811.4 L1048.0,811.5 L1053.0,811.6 L1058.0,811.7 L1063.0,811.9 L1068.0,812.1 L1073.0,812.4 L1078.0,812.7 L1083.0,813.0 L1088.0,813.5 L1093.0,814.1 L1098.0,815.1 L1103.0,816.6 L1108.0,819.3 L1113.0,828.0 L1113.0,828.0 L1108.0,836.1 L1103.0,838.1 L1098.0,839.0 L1093.0,839.3 L1088.0,839.3 L1083.0,839.1 L1078.0,838.8 L1073.0,838.6 L1068.0,838.3 L1063.0,838.1 L1058.0,837.9 L1053.0,837.8 L1048.0,837.6 L1043.0,837.5 L1038.0,837.3 L1033.0,836.9 L1028.0,836.2 L1023.0,834.9 L1018.0,832.5 L1013.0,824.0Z" fill="#000" fill-opacity="1"/>
<path d="M1119.0,826.0 L1123.5,818.0 L1128.0,815.9 L1132.5,814.8 L1137.0,814.3 L1141.5,814.0 L1146.0,814.0 L1150.5,814.0 L1155.0,814.1 L1159.5,814.3 L1164.0,814.4 L1168.5,814.6 L1173.0,814.7 L1177.5,814.9 L1182.0,815.2 L1186.5,815.5 L1191.0,816.1 L1195.5,816.9 L1200.0,818.3 L1204.5,820.7 L1209.0,829.0 L1209.0,829.0 L1204.5,836.9 L1200.0,838.9 L1195.5,839.9 L1191.0,840.3 L1186.5,840.3 L1182.0,840.3 L1177.5,840.1 L1173.0,839.9 L1168.5,839.8 L1164.0,839.6 L1159.5,839.5 L1155.0,839.3 L1150.5,839.2 L1146.0,839.1 L1141.5,838.8 L1137.0,838.5 L1132.5,837.8 L1128.0,836.5 L1123.5,834.2 L1119.0,826.0Z" fill="#000" fill-opacity="1"/>
<path d="M1222.0,826.0 L1226.6,819.0 L1231.2,817.1 L1235.8,816.1 L1240.4,815.5 L1245.0,815.3 L1249.6,815.2 L1254.2,815.4 L1258.8,815.7 L1263.4,816.2 L1268.0,816.9 L1272.6,817.9 L1277.2,819.1 L1281.8,820.5 L1286.4,822.0 L1291.0,823.8 L1295.6,825.7 L1300.2,828.0 L1304.8,830.7 L1309.4,834.3 L1314.0,843.0 L1314.0,843.0 L1309.4,848.5 L1304.8,848.9 L1300.2,848.2 L1295.6,847.0 L1291.0,845.6 L1286.4,844.1 L1281.8,842.6 L1277.2,841.3 L1272.6,840.1 L1268.0,839.1 L1263.4,838.4 L1258.8,837.9 L1254.2,837.5 L1249.6,837.3 L1245.0,837.1 L1240.4,836.8 L1235.8,836.3 L1231.2,835.3 L1226.6,833.2 L1222.0,826.0Z" fill="#000" fill-opacity="1"/>
<path d="M1324.0,829.0 L1328.3,823.4 L1332.7,821.9 L1337.0,821.1 L1341.4,820.8 L1345.8,820.6 L1350.1,820.6 L1354.5,820.7 L1358.8,820.8 L1363.2,820.9 L1367.5,821.1 L1371.8,821.3 L1376.2,821.6 L1380.5,821.9 L1384.9,822.2 L1389.2,822.6 L1393.6,823.2 L1398.0,823.9 L1402.3,825.1 L1406.7,827.0 L1411.0,833.0 L1411.0,833.0 L1406.7,838.4 L1402.3,839.7 L1398.0,840.2 L1393.6,840.3 L1389.2,840.1 L1384.9,839.9 L1380.5,839.6 L1376.2,839.4 L1371.8,839.1 L1367.5,838.9 L1363.2,838.7 L1358.8,838.6 L1354.5,838.4 L1350.1,838.3 L1345.8,838.1 L1341.4,837.9 L1337.0,837.4 L1332.7,836.5 L1328.3,834.8 L1324.0,829.0Z" fill="#000" fill-opacity="1"/>
<path d="M1428.0,834.0 L1432.3,830.1 L1436.6,828.8 L1440.9,828.0 L1445.2,827.5 L1449.5,827.1 L1453.8,826.8 L1458.1,826.6 L1462.4,826.4 L1466.7,826.3 L1471.0,826.2 L1475.3,826.3 L1479.6,826.4 L1483.9,826.6 L1488.2,826.8 L1492.5,827.1 L1496.8,827.5 L1501.1,828.0 L1505.4,828.8 L1509.7,830.1 L1514.0,834.0 L1514.0,834.0 L1509.7,837.5 L1505.4,838.3 L1501.1,838.5 L1496.8,838.5 L1492.5,838.4 L1488.2,838.2 L1483.9,838.0 L1479.6,837.9 L1475.3,837.8 L1471.0,837.8 L1466.7,837.8 L1462.4,837.9 L1458.1,838.0 L1453.8,838.2 L1449.5,838.4 L1445.2,838.5 L1440.9,838.5 L1436.6,838.3 L1432.3,837.5 L1428.0,834.0Z" fill="#000" fill-opacity="1"/>
<path d="M1532.0,832.0 L1536.5,828.2 L1541.0,827.1 L1545.5,826.5 L1550.0,826.1 L1554.5,825.8 L1559.0,825.7 L1563.5,825.6 L1568.0,825.5 L1572.5,825.4 L1577.0,825.2 L1581.5,825.2 L1586.0,825.1 L1590.5,825.0 L1595.0,824.9 L1599.5,824.8 L1604.0,824.9 L1608.5,825.1 L1613.0,825.5 L1617.5,826.4 L1622.0,830.0 L1622.0,830.0 L1617.5,833.8 L1613.0,834.9 L1608.5,835.5 L1604.0,835.9 L1599.5,836.2 L1595.0,836.3 L1590.5,836.4 L1586.0,836.5 L1581.5,836.6 L1577.0,836.8 L1572.5,836.8 L1568.0,836.9 L1563.5,837.0 L1559.0,837.1 L1554.5,837.2 L1550.0,837.1 L1545.5,836.9 L1541.0,836.5 L1536.5,835.6 L1532.0,832.0Z" fill="#000" fill-opacity="1"/>
</g>
</g>
<rect x="998.6999999999999" y="782.9" width="646.9000000000001" height="84.7" fill="none" stroke="#000" stroke-width="2.8"/>
<clipPath id="c10"><rect x="998" y="874.4" width="649" height="119.30000000000007"/></clipPath>
<g clip-path="url(#c10)">
<rect x="998" y="874.4" width="649" height="119.30000000000007" fill="#f6f6f6"/>

<g filter="url(#b6)">
<path d="M1015.0,898.5 L1019.2,893.7 L1023.5,892.4 L1027.8,891.7 L1032.0,891.3 L1036.2,891.1 L1040.5,891.0 L1044.8,891.0 L1049.0,891.0 L1053.2,891.0 L1057.5,891.0 L1061.8,891.0 L1066.0,891.0 L1070.2,891.0 L1074.5,891.0 L1078.8,891.1 L1083.0,891.3 L1087.2,891.7 L1091.5,892.4 L1095.8,893.7 L1100.0,898.5 L1100.0,898.5 L1095.8,903.3 L1091.5,904.6 L1087.2,905.3 L1083.0,905.7 L1078.8,905.9 L1074.5,906.0 L1070.2,906.0 L1066.0,906.0 L1061.8,906.0 L1057.5,906.0 L1053.2,906.0 L1049.0,906.0 L1044.8,906.0 L1040.5,906.0 L1036.2,905.9 L1032.0,905.7 L1027.8,905.3 L1023.5,904.6 L1019.2,903.3 L1015.0,898.5Z" fill="#000" fill-opacity="0.036"/>
<path d="M1123.0,899.0 L1127.0,894.5 L1131.0,893.3 L1135.0,892.6 L1139.0,892.3 L1143.0,892.1 L1147.0,892.0 L1151.0,892.0 L1155.0,892.0 L1159.0,892.0 L1163.0,892.0 L1167.0,892.0 L1171.0,892.0 L1175.0,892.0 L1179.0,892.0 L1183.0,892.1 L1187.0,892.3 L1191.0,892.6 L1195.0,893.3 L1199.0,894.5 L1203.0,899.0 L1203.0,899.0 L1199.0,903.5 L1195.0,904.7 L1191.0,905.4 L1187.0,905.7 L1183.0,905.9 L1179.0,906.0 L1175.0,906.0 L1171.0,906.0 L1167.0,906.0 L1163.0,906.0 L1159.0,906.0 L1155.0,906.0 L1151.0,906.0 L1147.0,906.0 L1143.0,905.9 L1139.0,905.7 L1135.0,905.4 L1131.0,904.7 L1127.0,903.5 L1123.0,899.0Z" fill="#000" fill-opacity="0.026"/>
<path d="M1227.0,902.0 L1230.9,897.0 L1234.8,895.4 L1238.7,894.4 L1242.6,893.8 L1246.5,893.4 L1250.4,893.0 L1254.3,892.8 L1258.2,892.5 L1262.1,892.3 L1266.0,892.0 L1269.9,891.8 L1273.8,891.5 L1277.7,891.3 L1281.6,891.0 L1285.5,890.9 L1289.4,890.8 L1293.3,890.9 L1297.2,891.4 L1301.1,892.5 L1305.0,897.0 L1305.0,897.0 L1301.1,902.0 L1297.2,903.6 L1293.3,904.6 L1289.4,905.2 L1285.5,905.6 L1281.6,906.0 L1277.7,906.2 L1273.8,906.5 L1269.9,906.7 L1266.0,907.0 L1262.1,907.2 L1258.2,907.5 L1254.3,907.7 L1250.4,908.0 L1246.5,908.1 L1242.6,908.2 L1238.7,908.1 L1234.8,907.6 L1230.9,906.5 L1227.0,902.0Z" fill="#000" fill-opacity="0.036"/>
<path d="M1325.0,897.0 L1329.2,892.5 L1333.4,891.3 L1337.6,890.6 L1341.8,890.3 L1346.0,890.1 L1350.2,890.0 L1354.4,890.0 L1358.6,890.0 L1362.8,890.0 L1367.0,890.0 L1371.2,890.0 L1375.4,890.0 L1379.6,890.0 L1383.8,890.0 L1388.0,890.1 L1392.2,890.3 L1396.4,890.6 L1400.6,891.3 L1404.8,892.5 L1409.0,897.0 L1409.0,897.0 L1404.8,901.5 L1400.6,902.7 L1396.4,903.4 L1392.2,903.7 L1388.0,903.9 L1383.8,904.0 L1379.6,904.0 L1375.4,904.0 L1371.2,904.0 L1367.0,904.0 L1362.8,904.0 L1358.6,904.0 L1354.4,904.0 L1350.2,904.0 L1346.0,903.9 L1341.8,903.7 L1337.6,903.4 L1333.4,902.7 L1329.2,901.5 L1325.0,897.0Z" fill="#000" fill-opacity="0.022"/>
<path d="M1429.0,897.0 L1433.3,892.5 L1437.6,891.3 L1441.9,890.6 L1446.2,890.3 L1450.5,890.1 L1454.8,890.0 L1459.1,890.0 L1463.4,890.0 L1467.7,890.0 L1472.0,890.0 L1476.3,890.0 L1480.6,890.0 L1484.9,890.0 L1489.2,890.0 L1493.5,890.1 L1497.8,890.3 L1502.1,890.6 L1506.4,891.3 L1510.7,892.5 L1515.0,897.0 L1515.0,897.0 L1510.7,901.5 L1506.4,902.7 L1502.1,903.4 L1497.8,903.7 L1493.5,903.9 L1489.2,904.0 L1484.9,904.0 L1480.6,904.0 L1476.3,904.0 L1472.0,904.0 L1467.7,904.0 L1463.4,904.0 L1459.1,904.0 L1454.8,904.0 L1450.5,903.9 L1446.2,903.7 L1441.9,903.4 L1437.6,902.7 L1433.3,901.5 L1429.0,897.0Z" fill="#000" fill-opacity="0.018"/>
<path d="M1533.0,897.0 L1537.6,892.5 L1542.2,891.3 L1546.8,890.6 L1551.4,890.3 L1556.0,890.1 L1560.6,890.0 L1565.2,890.0 L1569.8,890.0 L1574.4,890.0 L1579.0,890.0 L1583.6,890.0 L1588.2,890.0 L1592.8,890.0 L1597.4,890.0 L1602.0,890.1 L1606.6,890.3 L1611.2,890.6 L1615.8,891.3 L1620.4,892.5 L1625.0,897.0 L1625.0,897.0 L1620.4,901.5 L1615.8,902.7 L1611.2,903.4 L1606.6,903.7 L1602.0,903.9 L1597.4,904.0 L1592.8,904.0 L1588.2,904.0 L1583.6,904.0 L1579.0,904.0 L1574.4,904.0 L1569.8,904.0 L1565.2,904.0 L1560.6,904.0 L1556.0,903.9 L1551.4,903.7 L1546.8,903.4 L1542.2,902.7 L1537.6,901.5 L1533.0,897.0Z" fill="#000" fill-opacity="0.018"/>
<path d="M1013.0,968.4 L1017.4,962.6 L1021.8,961.0 L1026.2,960.2 L1030.6,959.8 L1035.0,959.5 L1039.4,959.4 L1043.8,959.4 L1048.2,959.4 L1052.6,959.4 L1057.0,959.4 L1061.4,959.4 L1065.8,959.4 L1070.2,959.4 L1074.6,959.4 L1079.0,959.5 L1083.4,959.8 L1087.8,960.2 L1092.2,961.0 L1096.6,962.6 L1101.0,968.4 L1101.0,968.4 L1096.6,974.2 L1092.2,975.8 L1087.8,976.6 L1083.4,977.0 L1079.0,977.3 L1074.6,977.4 L1070.2,977.4 L1065.8,977.4 L1061.4,977.4 L1057.0,977.4 L1052.6,977.4 L1048.2,977.4 L1043.8,977.4 L1039.4,977.4 L1035.0,977.3 L1030.6,977.0 L1026.2,976.6 L1021.8,975.8 L1017.4,974.2 L1013.0,968.4Z" fill="#000" fill-opacity="0.050"/>
<path d="M1122.0,968.4 L1126.1,962.3 L1130.2,960.6 L1134.3,959.7 L1138.4,959.3 L1142.5,959.0 L1146.6,958.9 L1150.7,958.9 L1154.8,958.9 L1158.9,958.9 L1163.0,958.9 L1167.1,958.9 L1171.2,958.9 L1175.3,958.9 L1179.4,958.9 L1183.5,959.0 L1187.6,959.3 L1191.7,959.7 L1195.8,960.6 L1199.9,962.3 L1204.0,968.4 L1204.0,968.4 L1199.9,974.5 L1195.8,976.2 L1191.7,977.1 L1187.6,977.5 L1183.5,977.8 L1179.4,977.9 L1175.3,977.9 L1171.2,977.9 L1167.1,977.9 L1163.0,977.9 L1158.9,977.9 L1154.8,977.9 L1150.7,977.9 L1146.6,977.9 L1142.5,977.8 L1138.4,977.5 L1134.3,977.1 L1130.2,976.2 L1126.1,974.5 L1122.0,968.4Z" fill="#000" fill-opacity="0.078"/>
<path d="M1226.0,973.0 L1229.9,967.3 L1233.8,966.0 L1237.7,965.5 L1241.6,965.4 L1245.5,965.3 L1249.4,965.1 L1253.3,964.6 L1257.2,963.6 L1261.1,962.3 L1265.0,960.9 L1268.9,959.4 L1272.8,958.0 L1276.7,957.0 L1280.6,956.4 L1284.5,956.2 L1288.4,956.2 L1292.3,956.6 L1296.2,957.5 L1300.1,959.2 L1304.0,965.0 L1304.0,965.0 L1300.1,971.0 L1296.2,972.7 L1292.3,973.5 L1288.4,974.0 L1284.5,974.4 L1280.6,974.8 L1276.7,975.5 L1272.8,976.5 L1268.9,977.9 L1265.0,979.4 L1261.1,980.8 L1257.2,982.1 L1253.3,983.0 L1249.4,983.5 L1245.5,983.5 L1241.6,983.1 L1237.7,982.4 L1233.8,981.2 L1229.9,979.2 L1226.0,973.0Z" fill="#000" fill-opacity="0.078"/>
<path d="M1323.0,967.6 L1327.3,961.0 L1331.7,959.2 L1336.0,958.3 L1340.4,957.8 L1344.8,957.5 L1349.1,957.4 L1353.5,957.4 L1357.8,957.4 L1362.2,957.4 L1366.5,957.4 L1370.8,957.4 L1375.2,957.4 L1379.5,957.4 L1383.9,957.4 L1388.2,957.5 L1392.6,957.8 L1397.0,958.3 L1401.3,959.2 L1405.7,961.0 L1410.0,967.6 L1410.0,967.6 L1405.7,974.2 L1401.3,976.0 L1397.0,976.9 L1392.6,977.4 L1388.2,977.7 L1383.9,977.8 L1379.5,977.8 L1375.2,977.8 L1370.8,977.8 L1366.5,977.9 L1362.2,977.8 L1357.8,977.8 L1353.5,977.8 L1349.1,977.8 L1344.8,977.7 L1340.4,977.4 L1336.0,976.9 L1331.7,976.0 L1327.3,974.2 L1323.0,967.6Z" fill="#000" fill-opacity="0.306"/>
<path d="M1427.0,966.5 L1431.5,958.5 L1436.0,956.3 L1440.5,955.1 L1445.0,954.5 L1449.5,954.2 L1454.0,954.1 L1458.5,954.0 L1463.0,954.0 L1467.5,954.0 L1472.0,954.0 L1476.5,954.0 L1481.0,954.0 L1485.5,954.0 L1490.0,954.1 L1494.5,954.2 L1499.0,954.5 L1503.5,955.1 L1508.0,956.3 L1512.5,958.5 L1517.0,966.5 L1517.0,966.5 L1512.5,974.5 L1508.0,976.7 L1503.5,977.9 L1499.0,978.5 L1494.5,978.8 L1490.0,978.9 L1485.5,979.0 L1481.0,979.0 L1476.5,979.0 L1472.0,979.0 L1467.5,979.0 L1463.0,979.0 L1458.5,979.0 L1454.0,978.9 L1449.5,978.8 L1445.0,978.5 L1440.5,977.9 L1436.0,976.7 L1431.5,974.5 L1427.0,966.5Z" fill="#000" fill-opacity="0.360"/>
<path d="M1531.0,965.7 L1536.0,958.3 L1540.9,956.3 L1545.8,955.2 L1550.8,954.7 L1555.8,954.4 L1560.7,954.3 L1565.7,954.2 L1570.6,954.2 L1575.5,954.2 L1580.5,954.2 L1585.5,954.2 L1590.4,954.2 L1595.3,954.2 L1600.3,954.3 L1605.2,954.4 L1610.2,954.7 L1615.2,955.2 L1620.1,956.3 L1625.0,958.3 L1630.0,965.7 L1630.0,965.7 L1625.0,973.1 L1620.1,975.1 L1615.2,976.2 L1610.2,976.7 L1605.2,977.0 L1600.3,977.1 L1595.3,977.2 L1590.4,977.2 L1585.5,977.2 L1580.5,977.2 L1575.5,977.2 L1570.6,977.2 L1565.7,977.2 L1560.7,977.1 L1555.8,977.0 L1550.8,976.7 L1545.8,976.2 L1540.9,975.1 L1536.0,973.1 L1531.0,965.7Z" fill="#000" fill-opacity="0.342"/>
</g>
<g filter="url(#b2)">
<path d="M1020.0,898.5 L1023.8,897.1 L1027.5,896.7 L1031.2,896.4 L1035.0,896.3 L1038.8,896.3 L1042.5,896.3 L1046.2,896.3 L1050.0,896.3 L1053.8,896.3 L1057.5,896.2 L1061.2,896.3 L1065.0,896.3 L1068.8,896.3 L1072.5,896.3 L1076.2,896.3 L1080.0,896.3 L1083.8,896.4 L1087.5,896.7 L1091.2,897.1 L1095.0,898.5 L1095.0,898.5 L1091.2,899.9 L1087.5,900.3 L1083.8,900.6 L1080.0,900.7 L1076.2,900.7 L1072.5,900.7 L1068.8,900.7 L1065.0,900.7 L1061.2,900.7 L1057.5,900.8 L1053.8,900.7 L1050.0,900.7 L1046.2,900.7 L1042.5,900.7 L1038.8,900.7 L1035.0,900.7 L1031.2,900.6 L1027.5,900.3 L1023.8,899.9 L1020.0,898.5Z" fill="#777" fill-opacity="0.3"/>
<path d="M1128.0,899.0 L1131.5,897.9 L1135.0,897.6 L1138.5,897.4 L1142.0,897.3 L1145.5,897.3 L1149.0,897.3 L1152.5,897.3 L1156.0,897.3 L1159.5,897.3 L1163.0,897.2 L1166.5,897.3 L1170.0,897.3 L1173.5,897.3 L1177.0,897.3 L1180.5,897.3 L1184.0,897.3 L1187.5,897.4 L1191.0,897.6 L1194.5,897.9 L1198.0,899.0 L1198.0,899.0 L1194.5,900.1 L1191.0,900.4 L1187.5,900.6 L1184.0,900.7 L1180.5,900.7 L1177.0,900.7 L1173.5,900.7 L1170.0,900.7 L1166.5,900.7 L1163.0,900.8 L1159.5,900.7 L1156.0,900.7 L1152.5,900.7 L1149.0,900.7 L1145.5,900.7 L1142.0,900.7 L1138.5,900.6 L1135.0,900.4 L1131.5,900.1 L1128.0,899.0Z" fill="#777" fill-opacity="0.22"/>
<path d="M1232.0,902.0 L1235.4,900.3 L1238.8,899.7 L1242.2,899.2 L1245.6,898.8 L1249.0,898.5 L1252.4,898.3 L1255.8,898.0 L1259.2,897.8 L1262.6,897.5 L1266.0,897.2 L1269.4,897.0 L1272.8,896.8 L1276.2,896.5 L1279.6,896.3 L1283.0,896.0 L1286.4,895.8 L1289.8,895.7 L1293.2,895.7 L1296.6,895.8 L1300.0,897.0 L1300.0,897.0 L1296.6,898.7 L1293.2,899.3 L1289.8,899.8 L1286.4,900.2 L1283.0,900.5 L1279.6,900.7 L1276.2,901.0 L1272.8,901.2 L1269.4,901.5 L1266.0,901.8 L1262.6,902.0 L1259.2,902.2 L1255.8,902.5 L1252.4,902.7 L1249.0,903.0 L1245.6,903.2 L1242.2,903.3 L1238.8,903.3 L1235.4,903.2 L1232.0,902.0Z" fill="#777" fill-opacity="0.3"/>
<path d="M1330.0,897.0 L1333.7,895.9 L1337.4,895.6 L1341.1,895.4 L1344.8,895.3 L1348.5,895.3 L1352.2,895.3 L1355.9,895.3 L1359.6,895.3 L1363.3,895.3 L1367.0,895.2 L1370.7,895.3 L1374.4,895.3 L1378.1,895.3 L1381.8,895.3 L1385.5,895.3 L1389.2,895.3 L1392.9,895.4 L1396.6,895.6 L1400.3,895.9 L1404.0,897.0 L1404.0,897.0 L1400.3,898.1 L1396.6,898.4 L1392.9,898.6 L1389.2,898.7 L1385.5,898.7 L1381.8,898.7 L1378.1,898.7 L1374.4,898.7 L1370.7,898.7 L1367.0,898.8 L1363.3,898.7 L1359.6,898.7 L1355.9,898.7 L1352.2,898.7 L1348.5,898.7 L1344.8,898.7 L1341.1,898.6 L1337.4,898.4 L1333.7,898.1 L1330.0,897.0Z" fill="#777" fill-opacity="0.18"/>
<path d="M1434.0,897.0 L1437.8,895.9 L1441.6,895.6 L1445.4,895.4 L1449.2,895.3 L1453.0,895.3 L1456.8,895.3 L1460.6,895.3 L1464.4,895.3 L1468.2,895.3 L1472.0,895.2 L1475.8,895.3 L1479.6,895.3 L1483.4,895.3 L1487.2,895.3 L1491.0,895.3 L1494.8,895.3 L1498.6,895.4 L1502.4,895.6 L1506.2,895.9 L1510.0,897.0 L1510.0,897.0 L1506.2,898.1 L1502.4,898.4 L1498.6,898.6 L1494.8,898.7 L1491.0,898.7 L1487.2,898.7 L1483.4,898.7 L1479.6,898.7 L1475.8,898.7 L1472.0,898.8 L1468.2,898.7 L1464.4,898.7 L1460.6,898.7 L1456.8,898.7 L1453.0,898.7 L1449.2,898.7 L1445.4,898.6 L1441.6,898.4 L1437.8,898.1 L1434.0,897.0Z" fill="#777" fill-opacity="0.15"/>
<path d="M1538.0,897.0 L1542.1,895.9 L1546.2,895.6 L1550.3,895.4 L1554.4,895.3 L1558.5,895.3 L1562.6,895.3 L1566.7,895.3 L1570.8,895.3 L1574.9,895.3 L1579.0,895.2 L1583.1,895.3 L1587.2,895.3 L1591.3,895.3 L1595.4,895.3 L1599.5,895.3 L1603.6,895.3 L1607.7,895.4 L1611.8,895.6 L1615.9,895.9 L1620.0,897.0 L1620.0,897.0 L1615.9,898.1 L1611.8,898.4 L1607.7,898.6 L1603.6,898.7 L1599.5,898.7 L1595.4,898.7 L1591.3,898.7 L1587.2,898.7 L1583.1,898.7 L1579.0,898.8 L1574.9,898.7 L1570.8,898.7 L1566.7,898.7 L1562.6,898.7 L1558.5,898.7 L1554.4,898.7 L1550.3,898.6 L1546.2,898.4 L1542.1,898.1 L1538.0,897.0Z" fill="#777" fill-opacity="0.15"/>
<path d="M1018.0,968.4 L1021.9,966.0 L1025.8,965.3 L1029.7,965.0 L1033.6,964.8 L1037.5,964.7 L1041.4,964.7 L1045.3,964.7 L1049.2,964.7 L1053.1,964.7 L1057.0,964.6 L1060.9,964.7 L1064.8,964.7 L1068.7,964.7 L1072.6,964.7 L1076.5,964.7 L1080.4,964.8 L1084.3,965.0 L1088.2,965.3 L1092.1,966.0 L1096.0,968.4 L1096.0,968.4 L1092.1,970.8 L1088.2,971.5 L1084.3,971.8 L1080.4,972.0 L1076.5,972.1 L1072.6,972.1 L1068.7,972.1 L1064.8,972.1 L1060.9,972.1 L1057.0,972.1 L1053.1,972.1 L1049.2,972.1 L1045.3,972.1 L1041.4,972.1 L1037.5,972.1 L1033.6,972.0 L1029.7,971.8 L1025.8,971.5 L1021.9,970.8 L1018.0,968.4Z" fill="#666" fill-opacity="0.42"/>
<path d="M1127.0,968.4 L1130.6,965.7 L1134.2,964.9 L1137.8,964.5 L1141.4,964.3 L1145.0,964.2 L1148.6,964.2 L1152.2,964.2 L1155.8,964.2 L1159.4,964.2 L1163.0,964.1 L1166.6,964.2 L1170.2,964.2 L1173.8,964.2 L1177.4,964.2 L1181.0,964.2 L1184.6,964.3 L1188.2,964.5 L1191.8,964.9 L1195.4,965.7 L1199.0,968.4 L1199.0,968.4 L1195.4,971.1 L1191.8,971.9 L1188.2,972.3 L1184.6,972.5 L1181.0,972.6 L1177.4,972.6 L1173.8,972.6 L1170.2,972.6 L1166.6,972.6 L1163.0,972.6 L1159.4,972.6 L1155.8,972.6 L1152.2,972.6 L1148.6,972.6 L1145.0,972.6 L1141.4,972.5 L1137.8,972.3 L1134.2,971.9 L1130.6,971.1 L1127.0,968.4Z" fill="#444" fill-opacity="0.65"/>
<path d="M1231.0,973.0 L1234.4,970.7 L1237.8,970.3 L1241.2,970.3 L1244.6,970.4 L1248.0,970.4 L1251.4,970.3 L1254.8,969.8 L1258.2,968.9 L1261.6,967.6 L1265.0,966.1 L1268.4,964.6 L1271.8,963.3 L1275.2,962.3 L1278.6,961.6 L1282.0,961.3 L1285.4,961.3 L1288.8,961.4 L1292.2,961.8 L1295.6,962.5 L1299.0,965.0 L1299.0,965.0 L1295.6,967.6 L1292.2,968.4 L1288.8,968.7 L1285.4,968.9 L1282.0,969.2 L1278.6,969.6 L1275.2,970.2 L1271.8,971.3 L1268.4,972.6 L1265.0,974.1 L1261.6,975.6 L1258.2,976.9 L1254.8,977.8 L1251.4,978.2 L1248.0,978.3 L1244.6,978.1 L1241.2,977.6 L1237.8,976.9 L1234.4,975.8 L1231.0,973.0Z" fill="#444" fill-opacity="0.65"/>
<path d="M1328.0,967.6 L1331.8,964.7 L1335.7,963.9 L1339.5,963.5 L1343.4,963.3 L1347.2,963.2 L1351.1,963.1 L1355.0,963.1 L1358.8,963.1 L1362.7,963.1 L1366.5,963.1 L1370.3,963.1 L1374.2,963.1 L1378.0,963.1 L1381.9,963.1 L1385.8,963.2 L1389.6,963.3 L1393.5,963.5 L1397.3,963.9 L1401.2,964.7 L1405.0,967.6 L1405.0,967.6 L1401.2,970.5 L1397.3,971.3 L1393.5,971.7 L1389.6,971.9 L1385.8,972.0 L1381.9,972.1 L1378.0,972.1 L1374.2,972.1 L1370.3,972.1 L1366.5,972.1 L1362.7,972.1 L1358.8,972.1 L1355.0,972.1 L1351.1,972.1 L1347.2,972.0 L1343.4,971.9 L1339.5,971.7 L1335.7,971.3 L1331.8,970.5 L1328.0,967.6Z" fill="#222" fill-opacity="0.85"/>
<path d="M1432.0,966.5 L1436.0,962.7 L1440.0,961.7 L1444.0,961.1 L1448.0,960.8 L1452.0,960.7 L1456.0,960.6 L1460.0,960.6 L1464.0,960.6 L1468.0,960.6 L1472.0,960.6 L1476.0,960.6 L1480.0,960.6 L1484.0,960.6 L1488.0,960.6 L1492.0,960.7 L1496.0,960.8 L1500.0,961.1 L1504.0,961.7 L1508.0,962.7 L1512.0,966.5 L1512.0,966.5 L1508.0,970.3 L1504.0,971.3 L1500.0,971.9 L1496.0,972.2 L1492.0,972.3 L1488.0,972.4 L1484.0,972.4 L1480.0,972.4 L1476.0,972.4 L1472.0,972.4 L1468.0,972.4 L1464.0,972.4 L1460.0,972.4 L1456.0,972.4 L1452.0,972.3 L1448.0,972.2 L1444.0,971.9 L1440.0,971.3 L1436.0,970.3 L1432.0,966.5Z" fill="#000" fill-opacity="1"/>
<path d="M1536.0,965.7 L1540.5,962.0 L1544.9,961.0 L1549.3,960.5 L1553.8,960.2 L1558.2,960.0 L1562.7,960.0 L1567.2,960.0 L1571.6,960.0 L1576.0,960.0 L1580.5,960.0 L1585.0,960.0 L1589.4,960.0 L1593.8,960.0 L1598.3,960.0 L1602.8,960.0 L1607.2,960.2 L1611.7,960.5 L1616.1,961.0 L1620.5,962.0 L1625.0,965.7 L1625.0,965.7 L1620.5,969.4 L1616.1,970.4 L1611.7,970.9 L1607.2,971.2 L1602.8,971.4 L1598.3,971.4 L1593.8,971.4 L1589.4,971.4 L1585.0,971.4 L1580.5,971.5 L1576.0,971.4 L1571.6,971.4 L1567.2,971.4 L1562.7,971.4 L1558.2,971.4 L1553.8,971.2 L1549.3,970.9 L1544.9,970.4 L1540.5,969.4 L1536.0,965.7Z" fill="#000" fill-opacity="0.95"/>
</g>
</g>
<rect x="999.4" y="875.8" width="646.2" height="116.50000000000007" fill="none" stroke="#000" stroke-width="2.8"/>
<clipPath id="c11"><rect x="997" y="998.5" width="650" height="72.5"/></clipPath>
<g clip-path="url(#c11)">
<rect x="997" y="998.5" width="650" height="72.5" fill="#e9e9e9"/>

<g filter="url(#b6)">
<path d="M1015.0,1024.0 L1019.5,1015.0 L1024.0,1012.5 L1028.5,1011.2 L1033.0,1010.6 L1037.5,1010.2 L1042.0,1010.1 L1046.5,1010.0 L1051.0,1010.0 L1055.5,1010.0 L1060.0,1010.0 L1064.5,1010.0 L1069.0,1010.0 L1073.5,1010.0 L1078.0,1010.1 L1082.5,1010.2 L1087.0,1010.6 L1091.5,1011.2 L1096.0,1012.5 L1100.5,1015.0 L1105.0,1024.0 L1105.0,1024.0 L1100.5,1033.0 L1096.0,1035.5 L1091.5,1036.8 L1087.0,1037.4 L1082.5,1037.8 L1078.0,1037.9 L1073.5,1038.0 L1069.0,1038.0 L1064.5,1038.0 L1060.0,1038.0 L1055.5,1038.0 L1051.0,1038.0 L1046.5,1038.0 L1042.0,1037.9 L1037.5,1037.8 L1033.0,1037.4 L1028.5,1036.8 L1024.0,1035.5 L1019.5,1033.0 L1015.0,1024.0Z" fill="#000" fill-opacity="0.060"/>
<path d="M1013.0,1034.0 L1017.8,1025.5 L1022.6,1023.3 L1027.4,1022.3 L1032.2,1021.9 L1037.0,1021.8 L1041.8,1022.0 L1046.6,1022.2 L1051.4,1022.5 L1056.2,1022.9 L1061.0,1023.2 L1065.8,1023.7 L1070.6,1024.1 L1075.4,1024.6 L1080.2,1025.2 L1085.0,1025.8 L1089.8,1026.7 L1094.6,1027.9 L1099.4,1029.7 L1104.2,1032.7 L1109.0,1042.0 L1109.0,1042.0 L1104.2,1050.3 L1099.4,1052.2 L1094.6,1053.0 L1089.8,1053.1 L1085.0,1052.9 L1080.2,1052.5 L1075.4,1052.1 L1070.6,1051.6 L1065.8,1051.2 L1061.0,1050.8 L1056.2,1050.4 L1051.4,1050.0 L1046.6,1049.7 L1041.8,1049.3 L1037.0,1048.9 L1032.2,1048.3 L1027.4,1047.4 L1022.6,1045.8 L1017.8,1043.1 L1013.0,1034.0Z" fill="#000" fill-opacity="0.360"/>
<path d="M1329.0,1017.0 L1333.2,1008.7 L1337.4,1006.3 L1341.6,1005.1 L1345.8,1004.5 L1350.0,1004.2 L1354.2,1004.1 L1358.4,1004.0 L1362.6,1004.0 L1366.8,1004.0 L1371.0,1004.0 L1375.2,1004.0 L1379.4,1004.0 L1383.6,1004.0 L1387.8,1004.1 L1392.0,1004.2 L1396.2,1004.5 L1400.4,1005.1 L1404.6,1006.3 L1408.8,1008.7 L1413.0,1017.0 L1413.0,1017.0 L1408.8,1025.3 L1404.6,1027.7 L1400.4,1028.9 L1396.2,1029.5 L1392.0,1029.8 L1387.8,1029.9 L1383.6,1030.0 L1379.4,1030.0 L1375.2,1030.0 L1371.0,1030.0 L1366.8,1030.0 L1362.6,1030.0 L1358.4,1030.0 L1354.2,1029.9 L1350.0,1029.8 L1345.8,1029.5 L1341.6,1028.9 L1337.4,1027.7 L1333.2,1025.3 L1329.0,1017.0Z" fill="#000" fill-opacity="0.060"/>
<path d="M1326.0,1030.0 L1330.5,1021.2 L1335.1,1018.7 L1339.7,1017.5 L1344.2,1016.8 L1348.8,1016.5 L1353.3,1016.3 L1357.8,1016.3 L1362.4,1016.3 L1367.0,1016.3 L1371.5,1016.2 L1376.0,1016.3 L1380.6,1016.3 L1385.2,1016.3 L1389.7,1016.3 L1394.2,1016.5 L1398.8,1016.8 L1403.3,1017.5 L1407.9,1018.7 L1412.5,1021.2 L1417.0,1030.0 L1417.0,1030.0 L1412.5,1038.8 L1407.9,1041.3 L1403.3,1042.5 L1398.8,1043.2 L1394.2,1043.5 L1389.7,1043.7 L1385.2,1043.7 L1380.6,1043.7 L1376.0,1043.7 L1371.5,1043.8 L1367.0,1043.7 L1362.4,1043.7 L1357.8,1043.7 L1353.3,1043.7 L1348.8,1043.5 L1344.2,1043.2 L1339.7,1042.5 L1335.1,1041.3 L1330.5,1038.8 L1326.0,1030.0Z" fill="#000" fill-opacity="0.360"/>
<path d="M1125.0,1016.0 L1129.0,1009.9 L1133.0,1008.2 L1137.0,1007.3 L1141.0,1006.9 L1145.0,1006.6 L1149.0,1006.5 L1153.0,1006.5 L1157.0,1006.5 L1161.0,1006.5 L1165.0,1006.5 L1169.0,1006.5 L1173.0,1006.5 L1177.0,1006.5 L1181.0,1006.5 L1185.0,1006.6 L1189.0,1006.9 L1193.0,1007.3 L1197.0,1008.2 L1201.0,1009.9 L1205.0,1016.0 L1205.0,1016.0 L1201.0,1022.1 L1197.0,1023.8 L1193.0,1024.7 L1189.0,1025.1 L1185.0,1025.4 L1181.0,1025.5 L1177.0,1025.5 L1173.0,1025.5 L1169.0,1025.5 L1165.0,1025.5 L1161.0,1025.5 L1157.0,1025.5 L1153.0,1025.5 L1149.0,1025.5 L1145.0,1025.4 L1141.0,1025.1 L1137.0,1024.7 L1133.0,1023.8 L1129.0,1022.1 L1125.0,1016.0Z" fill="#000" fill-opacity="0.036"/>
<path d="M1230.0,1016.0 L1233.8,1009.9 L1237.5,1008.2 L1241.2,1007.3 L1245.0,1006.9 L1248.8,1006.6 L1252.5,1006.5 L1256.2,1006.5 L1260.0,1006.5 L1263.8,1006.5 L1267.5,1006.5 L1271.2,1006.5 L1275.0,1006.5 L1278.8,1006.5 L1282.5,1006.5 L1286.2,1006.6 L1290.0,1006.9 L1293.8,1007.3 L1297.5,1008.2 L1301.2,1009.9 L1305.0,1016.0 L1305.0,1016.0 L1301.2,1022.1 L1297.5,1023.8 L1293.8,1024.7 L1290.0,1025.1 L1286.2,1025.4 L1282.5,1025.5 L1278.8,1025.5 L1275.0,1025.5 L1271.2,1025.5 L1267.5,1025.5 L1263.8,1025.5 L1260.0,1025.5 L1256.2,1025.5 L1252.5,1025.5 L1248.8,1025.4 L1245.0,1025.1 L1241.2,1024.7 L1237.5,1023.8 L1233.8,1022.1 L1230.0,1016.0Z" fill="#000" fill-opacity="0.036"/>
<path d="M1430.0,1014.0 L1434.3,1007.9 L1438.7,1006.2 L1443.0,1005.3 L1447.4,1004.9 L1451.8,1004.6 L1456.1,1004.5 L1460.5,1004.5 L1464.8,1004.5 L1469.2,1004.5 L1473.5,1004.5 L1477.8,1004.5 L1482.2,1004.5 L1486.5,1004.5 L1490.9,1004.5 L1495.2,1004.6 L1499.6,1004.9 L1504.0,1005.3 L1508.3,1006.2 L1512.7,1007.9 L1517.0,1014.0 L1517.0,1014.0 L1512.7,1020.1 L1508.3,1021.8 L1504.0,1022.7 L1499.6,1023.1 L1495.2,1023.4 L1490.9,1023.5 L1486.5,1023.5 L1482.2,1023.5 L1477.8,1023.5 L1473.5,1023.5 L1469.2,1023.5 L1464.8,1023.5 L1460.5,1023.5 L1456.1,1023.5 L1451.8,1023.4 L1447.4,1023.1 L1443.0,1022.7 L1438.7,1021.8 L1434.3,1020.1 L1430.0,1014.0Z" fill="#000" fill-opacity="0.036"/>
<path d="M1540.0,1014.0 L1544.5,1007.9 L1549.0,1006.2 L1553.5,1005.3 L1558.0,1004.9 L1562.5,1004.6 L1567.0,1004.5 L1571.5,1004.5 L1576.0,1004.5 L1580.5,1004.5 L1585.0,1004.5 L1589.5,1004.5 L1594.0,1004.5 L1598.5,1004.5 L1603.0,1004.5 L1607.5,1004.6 L1612.0,1004.9 L1616.5,1005.3 L1621.0,1006.2 L1625.5,1007.9 L1630.0,1014.0 L1630.0,1014.0 L1625.5,1020.1 L1621.0,1021.8 L1616.5,1022.7 L1612.0,1023.1 L1607.5,1023.4 L1603.0,1023.5 L1598.5,1023.5 L1594.0,1023.5 L1589.5,1023.5 L1585.0,1023.5 L1580.5,1023.5 L1576.0,1023.5 L1571.5,1023.5 L1567.0,1023.5 L1562.5,1023.4 L1558.0,1023.1 L1553.5,1022.7 L1549.0,1021.8 L1544.5,1020.1 L1540.0,1014.0Z" fill="#000" fill-opacity="0.030"/>
<path d="M1125.0,1045.0 L1129.0,1032.2 L1133.0,1028.6 L1137.0,1026.8 L1141.0,1025.8 L1145.0,1025.3 L1149.0,1025.1 L1153.0,1025.0 L1157.0,1025.0 L1161.0,1025.0 L1165.0,1025.0 L1169.0,1025.0 L1173.0,1025.0 L1177.0,1025.0 L1181.0,1025.1 L1185.0,1025.3 L1189.0,1025.8 L1193.0,1026.8 L1197.0,1028.6 L1201.0,1032.2 L1205.0,1045.0 L1205.0,1045.0 L1201.0,1057.8 L1197.0,1061.4 L1193.0,1063.2 L1189.0,1064.2 L1185.0,1064.7 L1181.0,1064.9 L1177.0,1065.0 L1173.0,1065.0 L1169.0,1065.0 L1165.0,1065.0 L1161.0,1065.0 L1157.0,1065.0 L1153.0,1065.0 L1149.0,1064.9 L1145.0,1064.7 L1141.0,1064.2 L1137.0,1063.2 L1133.0,1061.4 L1129.0,1057.8 L1125.0,1045.0Z" fill="#000" fill-opacity="0.018"/>
<path d="M1230.0,1045.0 L1233.8,1032.2 L1237.5,1028.6 L1241.2,1026.8 L1245.0,1025.8 L1248.8,1025.3 L1252.5,1025.1 L1256.2,1025.0 L1260.0,1025.0 L1263.8,1025.0 L1267.5,1025.0 L1271.2,1025.0 L1275.0,1025.0 L1278.8,1025.0 L1282.5,1025.1 L1286.2,1025.3 L1290.0,1025.8 L1293.8,1026.8 L1297.5,1028.6 L1301.2,1032.2 L1305.0,1045.0 L1305.0,1045.0 L1301.2,1057.8 L1297.5,1061.4 L1293.8,1063.2 L1290.0,1064.2 L1286.2,1064.7 L1282.5,1064.9 L1278.8,1065.0 L1275.0,1065.0 L1271.2,1065.0 L1267.5,1065.0 L1263.8,1065.0 L1260.0,1065.0 L1256.2,1065.0 L1252.5,1064.9 L1248.8,1064.7 L1245.0,1064.2 L1241.2,1063.2 L1237.5,1061.4 L1233.8,1057.8 L1230.0,1045.0Z" fill="#000" fill-opacity="0.014"/>
<path d="M1430.0,1045.0 L1434.3,1032.2 L1438.7,1028.6 L1443.0,1026.8 L1447.4,1025.8 L1451.8,1025.3 L1456.1,1025.1 L1460.5,1025.0 L1464.8,1025.0 L1469.2,1025.0 L1473.5,1025.0 L1477.8,1025.0 L1482.2,1025.0 L1486.5,1025.0 L1490.9,1025.1 L1495.2,1025.3 L1499.6,1025.8 L1504.0,1026.8 L1508.3,1028.6 L1512.7,1032.2 L1517.0,1045.0 L1517.0,1045.0 L1512.7,1057.8 L1508.3,1061.4 L1504.0,1063.2 L1499.6,1064.2 L1495.2,1064.7 L1490.9,1064.9 L1486.5,1065.0 L1482.2,1065.0 L1477.8,1065.0 L1473.5,1065.0 L1469.2,1065.0 L1464.8,1065.0 L1460.5,1065.0 L1456.1,1064.9 L1451.8,1064.7 L1447.4,1064.2 L1443.0,1063.2 L1438.7,1061.4 L1434.3,1057.8 L1430.0,1045.0Z" fill="#000" fill-opacity="0.018"/>
<path d="M1540.0,1045.0 L1544.5,1032.2 L1549.0,1028.6 L1553.5,1026.8 L1558.0,1025.8 L1562.5,1025.3 L1567.0,1025.1 L1571.5,1025.0 L1576.0,1025.0 L1580.5,1025.0 L1585.0,1025.0 L1589.5,1025.0 L1594.0,1025.0 L1598.5,1025.0 L1603.0,1025.1 L1607.5,1025.3 L1612.0,1025.8 L1616.5,1026.8 L1621.0,1028.6 L1625.5,1032.2 L1630.0,1045.0 L1630.0,1045.0 L1625.5,1057.8 L1621.0,1061.4 L1616.5,1063.2 L1612.0,1064.2 L1607.5,1064.7 L1603.0,1064.9 L1598.5,1065.0 L1594.0,1065.0 L1589.5,1065.0 L1585.0,1065.0 L1580.5,1065.0 L1576.0,1065.0 L1571.5,1065.0 L1567.0,1064.9 L1562.5,1064.7 L1558.0,1064.2 L1553.5,1063.2 L1549.0,1061.4 L1544.5,1057.8 L1540.0,1045.0Z" fill="#000" fill-opacity="0.018"/>
</g>
<g filter="url(#b4)">
<path d="M1020.0,1024.0 L1024.0,1019.3 L1028.0,1017.9 L1032.0,1017.3 L1036.0,1016.9 L1040.0,1016.7 L1044.0,1016.6 L1048.0,1016.6 L1052.0,1016.6 L1056.0,1016.6 L1060.0,1016.6 L1064.0,1016.6 L1068.0,1016.6 L1072.0,1016.6 L1076.0,1016.6 L1080.0,1016.7 L1084.0,1016.9 L1088.0,1017.3 L1092.0,1017.9 L1096.0,1019.3 L1100.0,1024.0 L1100.0,1024.0 L1096.0,1028.7 L1092.0,1030.1 L1088.0,1030.7 L1084.0,1031.1 L1080.0,1031.3 L1076.0,1031.4 L1072.0,1031.4 L1068.0,1031.4 L1064.0,1031.4 L1060.0,1031.4 L1056.0,1031.4 L1052.0,1031.4 L1048.0,1031.4 L1044.0,1031.4 L1040.0,1031.3 L1036.0,1031.1 L1032.0,1030.7 L1028.0,1030.1 L1024.0,1028.7 L1020.0,1024.0Z" fill="#555" fill-opacity="0.5"/>
<path d="M1334.0,1017.0 L1337.7,1012.9 L1341.4,1011.8 L1345.1,1011.2 L1348.8,1010.9 L1352.5,1010.7 L1356.2,1010.6 L1359.9,1010.6 L1363.6,1010.6 L1367.3,1010.6 L1371.0,1010.6 L1374.7,1010.6 L1378.4,1010.6 L1382.1,1010.6 L1385.8,1010.6 L1389.5,1010.7 L1393.2,1010.9 L1396.9,1011.2 L1400.6,1011.8 L1404.3,1012.9 L1408.0,1017.0 L1408.0,1017.0 L1404.3,1021.1 L1400.6,1022.2 L1396.9,1022.8 L1393.2,1023.1 L1389.5,1023.3 L1385.8,1023.4 L1382.1,1023.4 L1378.4,1023.4 L1374.7,1023.4 L1371.0,1023.4 L1367.3,1023.4 L1363.6,1023.4 L1359.9,1023.4 L1356.2,1023.4 L1352.5,1023.3 L1348.8,1023.1 L1345.1,1022.8 L1341.4,1022.2 L1337.7,1021.1 L1334.0,1017.0Z" fill="#555" fill-opacity="0.5"/>
<path d="M1130.0,1016.0 L1133.5,1013.3 L1137.0,1012.5 L1140.5,1012.1 L1144.0,1011.9 L1147.5,1011.8 L1151.0,1011.8 L1154.5,1011.8 L1158.0,1011.8 L1161.5,1011.8 L1165.0,1011.8 L1168.5,1011.8 L1172.0,1011.8 L1175.5,1011.8 L1179.0,1011.8 L1182.5,1011.8 L1186.0,1011.9 L1189.5,1012.1 L1193.0,1012.5 L1196.5,1013.3 L1200.0,1016.0 L1200.0,1016.0 L1196.5,1018.7 L1193.0,1019.5 L1189.5,1019.9 L1186.0,1020.1 L1182.5,1020.2 L1179.0,1020.2 L1175.5,1020.2 L1172.0,1020.2 L1168.5,1020.2 L1165.0,1020.2 L1161.5,1020.2 L1158.0,1020.2 L1154.5,1020.2 L1151.0,1020.2 L1147.5,1020.2 L1144.0,1020.1 L1140.5,1019.9 L1137.0,1019.5 L1133.5,1018.7 L1130.0,1016.0Z" fill="#777" fill-opacity="0.3"/>
<path d="M1235.0,1016.0 L1238.2,1013.3 L1241.5,1012.5 L1244.8,1012.1 L1248.0,1011.9 L1251.2,1011.8 L1254.5,1011.8 L1257.8,1011.8 L1261.0,1011.8 L1264.2,1011.8 L1267.5,1011.8 L1270.8,1011.8 L1274.0,1011.8 L1277.2,1011.8 L1280.5,1011.8 L1283.8,1011.8 L1287.0,1011.9 L1290.2,1012.1 L1293.5,1012.5 L1296.8,1013.3 L1300.0,1016.0 L1300.0,1016.0 L1296.8,1018.7 L1293.5,1019.5 L1290.2,1019.9 L1287.0,1020.1 L1283.8,1020.2 L1280.5,1020.2 L1277.2,1020.2 L1274.0,1020.2 L1270.8,1020.2 L1267.5,1020.2 L1264.2,1020.2 L1261.0,1020.2 L1257.8,1020.2 L1254.5,1020.2 L1251.2,1020.2 L1248.0,1020.1 L1244.8,1019.9 L1241.5,1019.5 L1238.2,1018.7 L1235.0,1016.0Z" fill="#777" fill-opacity="0.3"/>
<path d="M1435.0,1014.0 L1438.8,1011.3 L1442.7,1010.5 L1446.5,1010.1 L1450.4,1009.9 L1454.2,1009.8 L1458.1,1009.8 L1462.0,1009.8 L1465.8,1009.8 L1469.7,1009.8 L1473.5,1009.8 L1477.3,1009.8 L1481.2,1009.8 L1485.0,1009.8 L1488.9,1009.8 L1492.8,1009.8 L1496.6,1009.9 L1500.5,1010.1 L1504.3,1010.5 L1508.2,1011.3 L1512.0,1014.0 L1512.0,1014.0 L1508.2,1016.7 L1504.3,1017.5 L1500.5,1017.9 L1496.6,1018.1 L1492.8,1018.2 L1488.9,1018.2 L1485.0,1018.2 L1481.2,1018.2 L1477.3,1018.2 L1473.5,1018.2 L1469.7,1018.2 L1465.8,1018.2 L1462.0,1018.2 L1458.1,1018.2 L1454.2,1018.2 L1450.4,1018.1 L1446.5,1017.9 L1442.7,1017.5 L1438.8,1016.7 L1435.0,1014.0Z" fill="#777" fill-opacity="0.3"/>
<path d="M1545.0,1014.0 L1549.0,1011.3 L1553.0,1010.5 L1557.0,1010.1 L1561.0,1009.9 L1565.0,1009.8 L1569.0,1009.8 L1573.0,1009.8 L1577.0,1009.8 L1581.0,1009.8 L1585.0,1009.8 L1589.0,1009.8 L1593.0,1009.8 L1597.0,1009.8 L1601.0,1009.8 L1605.0,1009.8 L1609.0,1009.9 L1613.0,1010.1 L1617.0,1010.5 L1621.0,1011.3 L1625.0,1014.0 L1625.0,1014.0 L1621.0,1016.7 L1617.0,1017.5 L1613.0,1017.9 L1609.0,1018.1 L1605.0,1018.2 L1601.0,1018.2 L1597.0,1018.2 L1593.0,1018.2 L1589.0,1018.2 L1585.0,1018.2 L1581.0,1018.2 L1577.0,1018.2 L1573.0,1018.2 L1569.0,1018.2 L1565.0,1018.2 L1561.0,1018.1 L1557.0,1017.9 L1553.0,1017.5 L1549.0,1016.7 L1545.0,1014.0Z" fill="#777" fill-opacity="0.25"/>
<path d="M1130.0,1045.0 L1133.5,1036.6 L1137.0,1034.3 L1140.5,1033.1 L1144.0,1032.4 L1147.5,1032.1 L1151.0,1032.0 L1154.5,1031.9 L1158.0,1031.9 L1161.5,1031.9 L1165.0,1031.9 L1168.5,1031.9 L1172.0,1031.9 L1175.5,1031.9 L1179.0,1032.0 L1182.5,1032.1 L1186.0,1032.4 L1189.5,1033.1 L1193.0,1034.3 L1196.5,1036.6 L1200.0,1045.0 L1200.0,1045.0 L1196.5,1053.4 L1193.0,1055.7 L1189.5,1056.9 L1186.0,1057.6 L1182.5,1057.9 L1179.0,1058.0 L1175.5,1058.1 L1172.0,1058.1 L1168.5,1058.1 L1165.0,1058.1 L1161.5,1058.1 L1158.0,1058.1 L1154.5,1058.1 L1151.0,1058.0 L1147.5,1057.9 L1144.0,1057.6 L1140.5,1056.9 L1137.0,1055.7 L1133.5,1053.4 L1130.0,1045.0Z" fill="#888" fill-opacity="0.15"/>
<path d="M1235.0,1045.0 L1238.2,1036.6 L1241.5,1034.3 L1244.8,1033.1 L1248.0,1032.4 L1251.2,1032.1 L1254.5,1032.0 L1257.8,1031.9 L1261.0,1031.9 L1264.2,1031.9 L1267.5,1031.9 L1270.8,1031.9 L1274.0,1031.9 L1277.2,1031.9 L1280.5,1032.0 L1283.8,1032.1 L1287.0,1032.4 L1290.2,1033.1 L1293.5,1034.3 L1296.8,1036.6 L1300.0,1045.0 L1300.0,1045.0 L1296.8,1053.4 L1293.5,1055.7 L1290.2,1056.9 L1287.0,1057.6 L1283.8,1057.9 L1280.5,1058.0 L1277.2,1058.1 L1274.0,1058.1 L1270.8,1058.1 L1267.5,1058.1 L1264.2,1058.1 L1261.0,1058.1 L1257.8,1058.1 L1254.5,1058.0 L1251.2,1057.9 L1248.0,1057.6 L1244.8,1056.9 L1241.5,1055.7 L1238.2,1053.4 L1235.0,1045.0Z" fill="#888" fill-opacity="0.12"/>
<path d="M1435.0,1045.0 L1438.8,1036.6 L1442.7,1034.3 L1446.5,1033.1 L1450.4,1032.4 L1454.2,1032.1 L1458.1,1032.0 L1462.0,1031.9 L1465.8,1031.9 L1469.7,1031.9 L1473.5,1031.9 L1477.3,1031.9 L1481.2,1031.9 L1485.0,1031.9 L1488.9,1032.0 L1492.8,1032.1 L1496.6,1032.4 L1500.5,1033.1 L1504.3,1034.3 L1508.2,1036.6 L1512.0,1045.0 L1512.0,1045.0 L1508.2,1053.4 L1504.3,1055.7 L1500.5,1056.9 L1496.6,1057.6 L1492.8,1057.9 L1488.9,1058.0 L1485.0,1058.1 L1481.2,1058.1 L1477.3,1058.1 L1473.5,1058.1 L1469.7,1058.1 L1465.8,1058.1 L1462.0,1058.1 L1458.1,1058.0 L1454.2,1057.9 L1450.4,1057.6 L1446.5,1056.9 L1442.7,1055.7 L1438.8,1053.4 L1435.0,1045.0Z" fill="#888" fill-opacity="0.15"/>
<path d="M1545.0,1045.0 L1549.0,1036.6 L1553.0,1034.3 L1557.0,1033.1 L1561.0,1032.4 L1565.0,1032.1 L1569.0,1032.0 L1573.0,1031.9 L1577.0,1031.9 L1581.0,1031.9 L1585.0,1031.9 L1589.0,1031.9 L1593.0,1031.9 L1597.0,1031.9 L1601.0,1032.0 L1605.0,1032.1 L1609.0,1032.4 L1613.0,1033.1 L1617.0,1034.3 L1621.0,1036.6 L1625.0,1045.0 L1625.0,1045.0 L1621.0,1053.4 L1617.0,1055.7 L1613.0,1056.9 L1609.0,1057.6 L1605.0,1057.9 L1601.0,1058.0 L1597.0,1058.1 L1593.0,1058.1 L1589.0,1058.1 L1585.0,1058.1 L1581.0,1058.1 L1577.0,1058.1 L1573.0,1058.1 L1569.0,1058.0 L1565.0,1057.9 L1561.0,1057.6 L1557.0,1056.9 L1553.0,1055.7 L1549.0,1053.4 L1545.0,1045.0Z" fill="#888" fill-opacity="0.15"/>
</g>
<g filter="url(#b2)">
<path d="M1018.0,1034.0 L1022.3,1029.7 L1026.6,1028.7 L1030.9,1028.3 L1035.2,1028.2 L1039.5,1028.3 L1043.8,1028.5 L1048.1,1028.8 L1052.4,1029.1 L1056.7,1029.5 L1061.0,1029.8 L1065.3,1030.3 L1069.6,1030.7 L1073.9,1031.2 L1078.2,1031.7 L1082.5,1032.3 L1086.8,1033.0 L1091.1,1033.9 L1095.4,1035.1 L1099.7,1036.9 L1104.0,1042.0 L1104.0,1042.0 L1099.7,1046.1 L1095.4,1046.8 L1091.1,1047.0 L1086.8,1046.8 L1082.5,1046.4 L1078.2,1046.0 L1073.9,1045.5 L1069.6,1045.0 L1065.3,1044.6 L1061.0,1044.2 L1056.7,1043.8 L1052.4,1043.4 L1048.1,1043.1 L1043.8,1042.8 L1039.5,1042.4 L1035.2,1042.0 L1030.9,1041.4 L1026.6,1040.4 L1022.3,1038.9 L1018.0,1034.0Z" fill="#000" fill-opacity="1"/>
<path d="M1331.0,1030.0 L1335.0,1025.4 L1339.1,1024.1 L1343.2,1023.5 L1347.2,1023.1 L1351.2,1023.0 L1355.3,1022.9 L1359.3,1022.9 L1363.4,1022.9 L1367.5,1022.9 L1371.5,1022.9 L1375.5,1022.9 L1379.6,1022.9 L1383.7,1022.9 L1387.7,1022.9 L1391.8,1023.0 L1395.8,1023.1 L1399.8,1023.5 L1403.9,1024.1 L1408.0,1025.4 L1412.0,1030.0 L1412.0,1030.0 L1408.0,1034.6 L1403.9,1035.9 L1399.8,1036.5 L1395.8,1036.9 L1391.8,1037.0 L1387.7,1037.1 L1383.7,1037.1 L1379.6,1037.1 L1375.5,1037.1 L1371.5,1037.2 L1367.5,1037.1 L1363.4,1037.1 L1359.3,1037.1 L1355.3,1037.1 L1351.2,1037.0 L1347.2,1036.9 L1343.2,1036.5 L1339.1,1035.9 L1335.0,1034.6 L1331.0,1030.0Z" fill="#000" fill-opacity="1"/>
</g>
</g>
<rect x="998.4" y="999.9" width="647.2" height="69.7" fill="none" stroke="#000" stroke-width="2.8"/>
<clipPath id="c12"><rect x="998" y="1076.5" width="649" height="74.5"/></clipPath>
<g clip-path="url(#c12)">
<rect x="998" y="1076.5" width="649" height="74.5" fill="#f5f5f5"/>

<g filter="url(#b6)">
<path d="M1019.0,1115.0 L1023.8,1101.5 L1028.5,1099.1 L1033.2,1098.5 L1038.0,1098.6 L1042.8,1099.0 L1047.5,1099.5 L1052.2,1099.9 L1057.0,1100.2 L1061.8,1100.4 L1066.5,1100.5 L1071.2,1100.4 L1076.0,1100.2 L1080.8,1099.9 L1085.5,1099.5 L1090.2,1099.0 L1095.0,1098.6 L1099.8,1098.5 L1104.5,1099.1 L1109.2,1101.5 L1114.0,1115.0 L1114.0,1115.0 L1109.2,1129.4 L1104.5,1132.8 L1099.8,1134.4 L1095.0,1135.3 L1090.2,1136.0 L1085.5,1136.5 L1080.8,1136.9 L1076.0,1137.2 L1071.2,1137.4 L1066.5,1137.5 L1061.8,1137.4 L1057.0,1137.2 L1052.2,1136.9 L1047.5,1136.5 L1042.8,1136.0 L1038.0,1135.3 L1033.2,1134.4 L1028.5,1132.8 L1023.8,1129.4 L1019.0,1115.0Z" fill="#000" fill-opacity="0.360"/>
<path d="M1128.0,1118.0 L1132.5,1105.0 L1136.9,1102.5 L1141.3,1101.7 L1145.8,1101.6 L1150.2,1101.8 L1154.7,1102.0 L1159.2,1102.2 L1163.6,1102.4 L1168.0,1102.5 L1172.5,1102.5 L1177.0,1102.5 L1181.4,1102.4 L1185.8,1102.2 L1190.3,1102.0 L1194.8,1101.8 L1199.2,1101.6 L1203.7,1101.7 L1208.1,1102.5 L1212.5,1105.0 L1217.0,1118.0 L1217.0,1118.0 L1212.5,1131.4 L1208.1,1134.4 L1203.7,1135.7 L1199.2,1136.3 L1194.8,1136.7 L1190.3,1137.0 L1185.8,1137.2 L1181.4,1137.4 L1177.0,1137.5 L1172.5,1137.5 L1168.0,1137.5 L1163.6,1137.4 L1159.2,1137.2 L1154.7,1137.0 L1150.2,1136.7 L1145.8,1136.3 L1141.3,1135.7 L1136.9,1134.4 L1132.5,1131.4 L1128.0,1118.0Z" fill="#000" fill-opacity="0.360"/>
<path d="M1230.0,1118.0 L1234.5,1105.0 L1239.1,1102.5 L1243.7,1101.7 L1248.2,1101.6 L1252.8,1101.8 L1257.3,1102.0 L1261.8,1102.2 L1266.4,1102.4 L1271.0,1102.5 L1275.5,1102.5 L1280.0,1102.5 L1284.6,1102.4 L1289.2,1102.2 L1293.7,1102.0 L1298.2,1101.8 L1302.8,1101.6 L1307.3,1101.7 L1311.9,1102.5 L1316.5,1105.0 L1321.0,1118.0 L1321.0,1118.0 L1316.5,1131.4 L1311.9,1134.4 L1307.3,1135.7 L1302.8,1136.3 L1298.2,1136.7 L1293.7,1137.0 L1289.2,1137.2 L1284.6,1137.4 L1280.0,1137.5 L1275.5,1137.5 L1271.0,1137.5 L1266.4,1137.4 L1261.8,1137.2 L1257.3,1137.0 L1252.8,1136.7 L1248.2,1136.3 L1243.7,1135.7 L1239.1,1134.4 L1234.5,1131.4 L1230.0,1118.0Z" fill="#000" fill-opacity="0.360"/>
<path d="M1330.0,1114.0 L1334.7,1100.5 L1339.3,1098.1 L1344.0,1097.5 L1348.6,1097.6 L1353.2,1098.0 L1357.9,1098.4 L1362.5,1098.9 L1367.2,1099.4 L1371.8,1100.0 L1376.5,1100.5 L1381.2,1101.1 L1385.8,1101.6 L1390.5,1102.2 L1395.1,1102.8 L1399.8,1103.5 L1404.4,1104.2 L1409.0,1105.2 L1413.7,1106.9 L1418.3,1110.4 L1423.0,1125.0 L1423.0,1125.0 L1418.3,1138.4 L1413.7,1140.7 L1409.0,1141.1 L1404.4,1140.9 L1399.8,1140.4 L1395.1,1139.8 L1390.5,1139.2 L1385.8,1138.6 L1381.2,1138.1 L1376.5,1137.5 L1371.8,1137.0 L1367.2,1136.4 L1362.5,1135.9 L1357.9,1135.4 L1353.2,1134.9 L1348.6,1134.3 L1344.0,1133.4 L1339.3,1131.9 L1334.7,1128.5 L1330.0,1114.0Z" fill="#000" fill-opacity="0.360"/>
<path d="M1433.0,1118.0 L1437.5,1105.1 L1442.1,1102.3 L1446.7,1101.3 L1451.2,1100.9 L1455.8,1100.7 L1460.3,1100.6 L1464.8,1100.5 L1469.4,1100.4 L1474.0,1100.2 L1478.5,1100.0 L1483.0,1099.7 L1487.6,1099.4 L1492.2,1099.0 L1496.7,1098.6 L1501.2,1098.2 L1505.8,1097.9 L1510.3,1097.8 L1514.9,1098.3 L1519.5,1100.6 L1524.0,1113.0 L1524.0,1113.0 L1519.5,1126.2 L1514.9,1129.4 L1510.3,1130.8 L1505.8,1131.6 L1501.2,1132.2 L1496.7,1132.6 L1492.2,1133.0 L1487.6,1133.4 L1483.0,1133.7 L1478.5,1134.0 L1474.0,1134.2 L1469.4,1134.4 L1464.8,1134.5 L1460.3,1134.6 L1455.8,1134.7 L1451.2,1134.6 L1446.7,1134.3 L1442.1,1133.4 L1437.5,1130.7 L1433.0,1118.0Z" fill="#000" fill-opacity="0.360"/>
<path d="M1536.0,1108.0 L1540.9,1095.8 L1545.8,1093.4 L1550.7,1092.7 L1555.6,1092.6 L1560.5,1092.7 L1565.4,1092.9 L1570.3,1093.1 L1575.2,1093.3 L1580.1,1093.4 L1585.0,1093.5 L1589.9,1093.5 L1594.8,1093.5 L1599.7,1093.4 L1604.6,1093.3 L1609.5,1093.2 L1614.4,1093.2 L1619.3,1093.4 L1624.2,1094.2 L1629.1,1096.7 L1634.0,1109.0 L1634.0,1109.0 L1629.1,1121.6 L1624.2,1124.3 L1619.3,1125.4 L1614.4,1125.9 L1609.5,1126.2 L1604.6,1126.3 L1599.7,1126.4 L1594.8,1126.5 L1589.9,1126.5 L1585.0,1126.5 L1580.1,1126.4 L1575.2,1126.3 L1570.3,1126.1 L1565.4,1125.9 L1560.5,1125.7 L1555.6,1125.3 L1550.7,1124.7 L1545.8,1123.5 L1540.9,1120.7 L1536.0,1108.0Z" fill="#000" fill-opacity="0.360"/>
</g>
<g filter="url(#b2)">
<path d="M1024.0,1115.0 L1028.2,1106.7 L1032.5,1105.3 L1036.8,1105.2 L1041.0,1105.5 L1045.2,1105.9 L1049.5,1106.4 L1053.8,1106.8 L1058.0,1107.1 L1062.2,1107.3 L1066.5,1107.4 L1070.8,1107.3 L1075.0,1107.1 L1079.2,1106.8 L1083.5,1106.4 L1087.8,1105.9 L1092.0,1105.5 L1096.2,1105.2 L1100.5,1105.3 L1104.8,1106.7 L1109.0,1115.0 L1109.0,1115.0 L1104.8,1124.2 L1100.5,1126.5 L1096.2,1127.7 L1092.0,1128.5 L1087.8,1129.1 L1083.5,1129.6 L1079.2,1130.0 L1075.0,1130.3 L1070.8,1130.5 L1066.5,1130.6 L1062.2,1130.5 L1058.0,1130.3 L1053.8,1130.0 L1049.5,1129.6 L1045.2,1129.1 L1041.0,1128.5 L1036.8,1127.7 L1032.5,1126.5 L1028.2,1124.2 L1024.0,1115.0Z" fill="#000" fill-opacity="1"/>
<path d="M1133.0,1118.0 L1137.0,1110.2 L1140.9,1108.8 L1144.8,1108.4 L1148.8,1108.5 L1152.8,1108.7 L1156.7,1108.9 L1160.7,1109.1 L1164.6,1109.3 L1168.5,1109.4 L1172.5,1109.4 L1176.5,1109.4 L1180.4,1109.3 L1184.3,1109.1 L1188.3,1108.9 L1192.2,1108.7 L1196.2,1108.5 L1200.2,1108.4 L1204.1,1108.8 L1208.0,1110.2 L1212.0,1118.0 L1212.0,1118.0 L1208.0,1126.2 L1204.1,1128.1 L1200.2,1129.0 L1196.2,1129.5 L1192.2,1129.8 L1188.3,1130.1 L1184.3,1130.3 L1180.4,1130.5 L1176.5,1130.6 L1172.5,1130.6 L1168.5,1130.6 L1164.6,1130.5 L1160.7,1130.3 L1156.7,1130.1 L1152.8,1129.8 L1148.8,1129.5 L1144.8,1129.0 L1140.9,1128.1 L1137.0,1126.2 L1133.0,1118.0Z" fill="#000" fill-opacity="1"/>
<path d="M1235.0,1118.0 L1239.0,1110.2 L1243.1,1108.8 L1247.2,1108.4 L1251.2,1108.5 L1255.2,1108.7 L1259.3,1108.9 L1263.3,1109.1 L1267.4,1109.3 L1271.5,1109.4 L1275.5,1109.4 L1279.5,1109.4 L1283.6,1109.3 L1287.7,1109.1 L1291.7,1108.9 L1295.8,1108.7 L1299.8,1108.5 L1303.8,1108.4 L1307.9,1108.8 L1312.0,1110.2 L1316.0,1118.0 L1316.0,1118.0 L1312.0,1126.2 L1307.9,1128.1 L1303.8,1129.0 L1299.8,1129.5 L1295.8,1129.8 L1291.7,1130.1 L1287.7,1130.3 L1283.6,1130.5 L1279.5,1130.6 L1275.5,1130.6 L1271.5,1130.6 L1267.4,1130.5 L1263.3,1130.3 L1259.3,1130.1 L1255.2,1129.8 L1251.2,1129.5 L1247.2,1129.0 L1243.1,1128.1 L1239.0,1126.2 L1235.0,1118.0Z" fill="#000" fill-opacity="1"/>
<path d="M1335.0,1114.0 L1339.2,1105.7 L1343.3,1104.4 L1347.5,1104.2 L1351.6,1104.4 L1355.8,1104.9 L1359.9,1105.3 L1364.0,1105.8 L1368.2,1106.3 L1372.3,1106.9 L1376.5,1107.4 L1380.7,1108.0 L1384.8,1108.5 L1389.0,1109.1 L1393.1,1109.7 L1397.2,1110.4 L1401.4,1111.0 L1405.5,1111.9 L1409.7,1113.2 L1413.8,1115.6 L1418.0,1125.0 L1418.0,1125.0 L1413.8,1133.1 L1409.7,1134.4 L1405.5,1134.4 L1401.4,1134.1 L1397.2,1133.5 L1393.1,1132.9 L1389.0,1132.3 L1384.8,1131.7 L1380.7,1131.2 L1376.5,1130.6 L1372.3,1130.1 L1368.2,1129.5 L1364.0,1129.0 L1359.9,1128.5 L1355.8,1128.0 L1351.6,1127.5 L1347.5,1126.7 L1343.3,1125.6 L1339.2,1123.2 L1335.0,1114.0Z" fill="#000" fill-opacity="1"/>
<path d="M1438.0,1118.0 L1442.0,1110.1 L1446.1,1108.4 L1450.2,1107.7 L1454.2,1107.4 L1458.2,1107.3 L1462.3,1107.2 L1466.3,1107.1 L1470.4,1107.0 L1474.5,1106.8 L1478.5,1106.6 L1482.5,1106.3 L1486.6,1106.0 L1490.7,1105.6 L1494.7,1105.2 L1498.8,1104.8 L1502.8,1104.4 L1506.8,1104.2 L1510.9,1104.4 L1515.0,1105.6 L1519.0,1113.0 L1519.0,1113.0 L1515.0,1121.3 L1510.9,1123.3 L1506.8,1124.4 L1502.8,1125.1 L1498.8,1125.6 L1494.7,1126.0 L1490.7,1126.4 L1486.6,1126.8 L1482.5,1127.1 L1478.5,1127.4 L1474.5,1127.6 L1470.4,1127.8 L1466.3,1127.9 L1462.3,1128.0 L1458.2,1128.1 L1454.2,1128.1 L1450.2,1127.9 L1446.1,1127.3 L1442.0,1125.8 L1438.0,1118.0Z" fill="#000" fill-opacity="1"/>
<path d="M1541.0,1108.0 L1545.4,1100.7 L1549.8,1099.4 L1554.2,1099.1 L1558.6,1099.1 L1563.0,1099.3 L1567.4,1099.5 L1571.8,1099.7 L1576.2,1099.9 L1580.6,1100.0 L1585.0,1100.1 L1589.4,1100.1 L1593.8,1100.1 L1598.2,1100.0 L1602.6,1099.9 L1607.0,1099.8 L1611.4,1099.7 L1615.8,1099.8 L1620.2,1100.2 L1624.6,1101.6 L1629.0,1109.0 L1629.0,1109.0 L1624.6,1116.6 L1620.2,1118.3 L1615.8,1119.0 L1611.4,1119.4 L1607.0,1119.6 L1602.6,1119.7 L1598.2,1119.8 L1593.8,1119.9 L1589.4,1119.9 L1585.0,1119.9 L1580.6,1119.8 L1576.2,1119.7 L1571.8,1119.5 L1567.4,1119.3 L1563.0,1119.1 L1558.6,1118.8 L1554.2,1118.3 L1549.8,1117.5 L1545.4,1115.7 L1541.0,1108.0Z" fill="#000" fill-opacity="1"/>
</g>
</g>
<rect x="999.4" y="1077.9" width="646.2" height="71.7" fill="none" stroke="#000" stroke-width="2.8"/>
</svg>
</body></html>
